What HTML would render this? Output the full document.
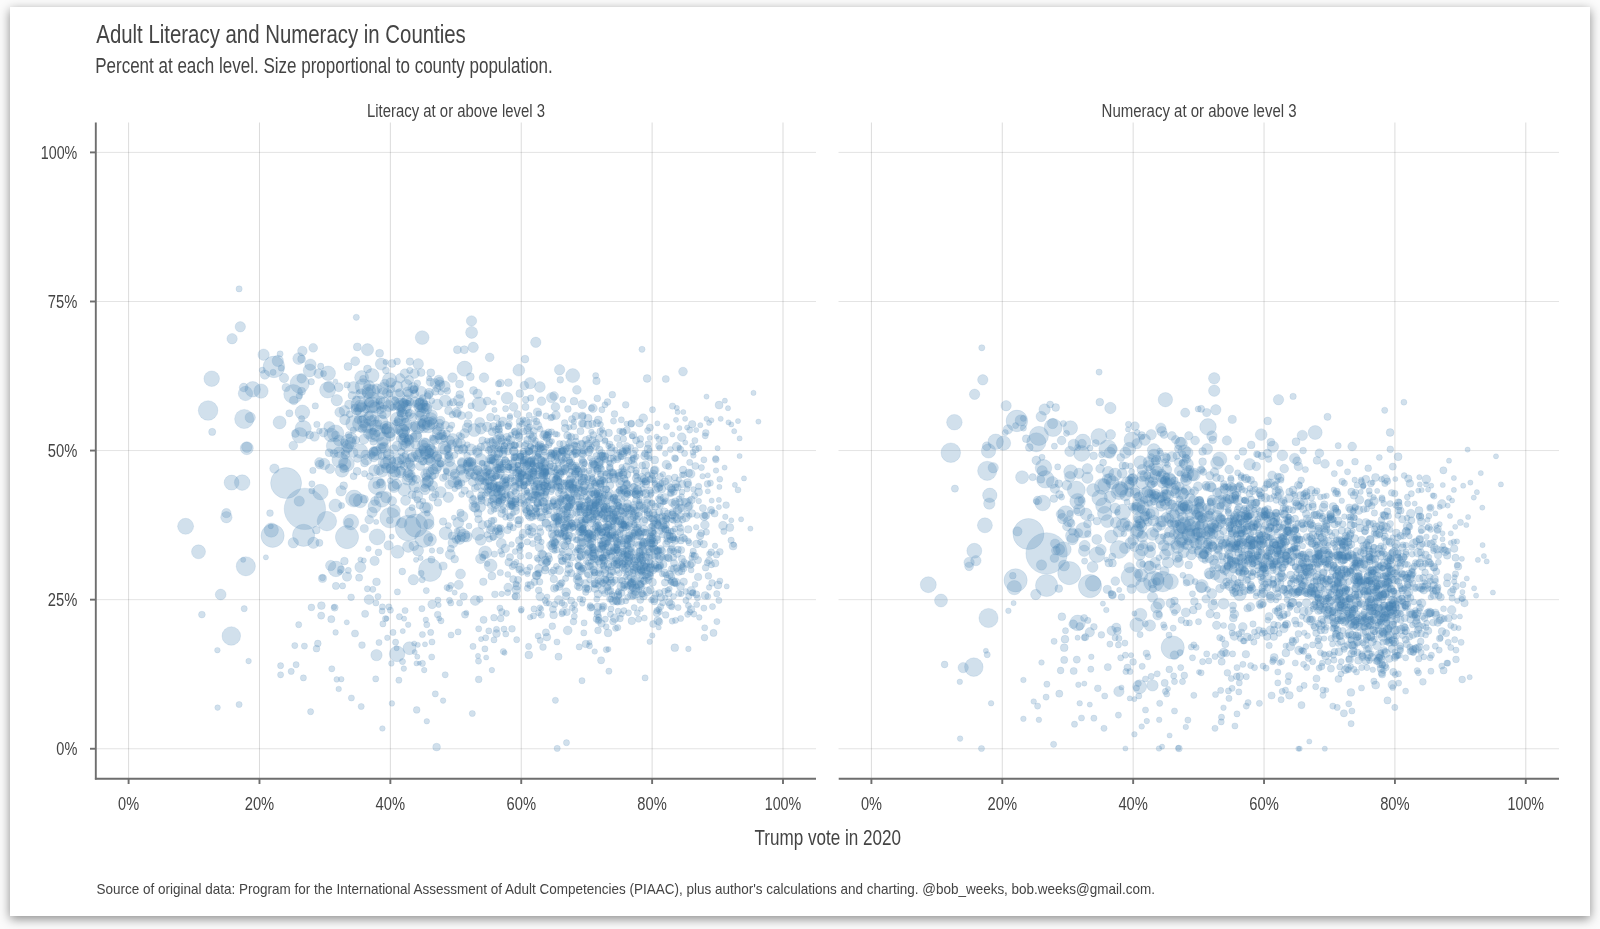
<!DOCTYPE html><html><head><meta charset="utf-8"><style>html,body{margin:0;padding:0;background:#fbfbfb;width:1600px;height:929px;overflow:hidden}.card{position:absolute;left:10px;top:7px;width:1580px;height:909px;background:#fff;box-shadow:0 3px 10px rgba(0,0,0,0.45)}svg{position:absolute;left:0;top:0;will-change:transform}text{font-family:"Liberation Sans",sans-serif;fill:#444444}.tx{will-change:transform}</style></head><body><div class="card"></div><svg width="1600" height="929" viewBox="0 0 1600 929"><text x="96.3" y="42.7" font-size="25.1" textLength="369.5" lengthAdjust="spacingAndGlyphs" text-anchor="start">Adult Literacy and Numeracy in Counties</text><text x="95.2" y="72.9" font-size="21.5" textLength="457.5" lengthAdjust="spacingAndGlyphs" text-anchor="start">Percent at each level. Size proportional to county population.</text><text x="367.0" y="116.9" font-size="18.3" textLength="178" lengthAdjust="spacingAndGlyphs" text-anchor="start">Literacy at or above level 3</text><text x="1101.6" y="116.8" font-size="18.3" textLength="195" lengthAdjust="spacingAndGlyphs" text-anchor="start">Numeracy at or above level 3</text><line x1="128.60" y1="122.5" x2="128.60" y2="778" stroke="#000" stroke-opacity="0.14" stroke-width="1"/><line x1="259.48" y1="122.5" x2="259.48" y2="778" stroke="#000" stroke-opacity="0.14" stroke-width="1"/><line x1="390.36" y1="122.5" x2="390.36" y2="778" stroke="#000" stroke-opacity="0.14" stroke-width="1"/><line x1="521.24" y1="122.5" x2="521.24" y2="778" stroke="#000" stroke-opacity="0.14" stroke-width="1"/><line x1="652.12" y1="122.5" x2="652.12" y2="778" stroke="#000" stroke-opacity="0.14" stroke-width="1"/><line x1="783.00" y1="122.5" x2="783.00" y2="778" stroke="#000" stroke-opacity="0.14" stroke-width="1"/><line x1="95.5" y1="748.75" x2="816" y2="748.75" stroke="#000" stroke-opacity="0.11" stroke-width="1"/><line x1="95.5" y1="599.66" x2="816" y2="599.66" stroke="#000" stroke-opacity="0.11" stroke-width="1"/><line x1="95.5" y1="450.57" x2="816" y2="450.57" stroke="#000" stroke-opacity="0.11" stroke-width="1"/><line x1="95.5" y1="301.49" x2="816" y2="301.49" stroke="#000" stroke-opacity="0.11" stroke-width="1"/><line x1="95.5" y1="152.40" x2="816" y2="152.40" stroke="#000" stroke-opacity="0.11" stroke-width="1"/><line x1="871.40" y1="122.5" x2="871.40" y2="778" stroke="#000" stroke-opacity="0.14" stroke-width="1"/><line x1="1002.28" y1="122.5" x2="1002.28" y2="778" stroke="#000" stroke-opacity="0.14" stroke-width="1"/><line x1="1133.16" y1="122.5" x2="1133.16" y2="778" stroke="#000" stroke-opacity="0.14" stroke-width="1"/><line x1="1264.04" y1="122.5" x2="1264.04" y2="778" stroke="#000" stroke-opacity="0.14" stroke-width="1"/><line x1="1394.92" y1="122.5" x2="1394.92" y2="778" stroke="#000" stroke-opacity="0.14" stroke-width="1"/><line x1="1525.80" y1="122.5" x2="1525.80" y2="778" stroke="#000" stroke-opacity="0.14" stroke-width="1"/><line x1="838.5" y1="748.75" x2="1559" y2="748.75" stroke="#000" stroke-opacity="0.11" stroke-width="1"/><line x1="838.5" y1="599.66" x2="1559" y2="599.66" stroke="#000" stroke-opacity="0.11" stroke-width="1"/><line x1="838.5" y1="450.57" x2="1559" y2="450.57" stroke="#000" stroke-opacity="0.11" stroke-width="1"/><line x1="838.5" y1="301.49" x2="1559" y2="301.49" stroke="#000" stroke-opacity="0.11" stroke-width="1"/><line x1="838.5" y1="152.40" x2="1559" y2="152.40" stroke="#000" stroke-opacity="0.11" stroke-width="1"/><g fill="#4682b4" fill-opacity="0.25" stroke="#4682b4" stroke-opacity="0.2" stroke-width="0.6"><circle cx="1393.2" cy="591.1" r="3.4"/><circle cx="670.2" cy="540.0" r="3.2"/><circle cx="1237.9" cy="487.9" r="4.4"/><circle cx="1281.0" cy="512.3" r="2.8"/><circle cx="1407.5" cy="598.6" r="3.6"/><circle cx="600.6" cy="581.3" r="3.8"/><circle cx="523.8" cy="462.5" r="3.8"/><circle cx="645.0" cy="557.2" r="3.8"/><circle cx="1159.7" cy="451.1" r="3.0"/><circle cx="574.2" cy="491.1" r="4.4"/><circle cx="1426.5" cy="536.7" r="2.8"/><circle cx="1055.9" cy="550.5" r="4.5"/><circle cx="1318.1" cy="574.7" r="3.4"/><circle cx="570.5" cy="467.2" r="3.0"/><circle cx="353.6" cy="476.2" r="3.5"/><circle cx="1314.8" cy="557.1" r="2.8"/><circle cx="641.3" cy="570.6" r="3.2"/><circle cx="1300.2" cy="624.5" r="2.8"/><circle cx="1276.5" cy="512.8" r="3.4"/><circle cx="1345.8" cy="536.3" r="4.0"/><circle cx="507.8" cy="574.4" r="3.0"/><circle cx="1331.6" cy="613.2" r="2.8"/><circle cx="1386.3" cy="595.3" r="3.0"/><circle cx="1454.2" cy="616.7" r="2.8"/><circle cx="1277.9" cy="589.0" r="2.8"/><circle cx="1228.2" cy="566.4" r="4.6"/><circle cx="622.9" cy="507.1" r="4.0"/><circle cx="1347.0" cy="607.4" r="3.6"/><circle cx="1276.2" cy="561.3" r="3.8"/><circle cx="530.7" cy="482.2" r="3.6"/><circle cx="1407.8" cy="603.9" r="2.8"/><circle cx="489.0" cy="472.2" r="2.8"/><circle cx="1210.0" cy="509.6" r="5.5"/><circle cx="1316.7" cy="535.9" r="2.8"/><circle cx="593.0" cy="553.2" r="3.4"/><circle cx="545.9" cy="493.2" r="2.8"/><circle cx="602.2" cy="480.6" r="3.6"/><circle cx="1382.5" cy="594.2" r="4.0"/><circle cx="1306.7" cy="568.7" r="3.6"/><circle cx="1334.7" cy="524.2" r="3.8"/><circle cx="536.5" cy="483.8" r="3.6"/><circle cx="419.6" cy="404.3" r="5.5"/><circle cx="575.6" cy="436.9" r="3.0"/><circle cx="1241.4" cy="578.0" r="3.2"/><circle cx="481.0" cy="478.7" r="3.4"/><circle cx="1366.8" cy="509.3" r="2.8"/><circle cx="1390.6" cy="560.6" r="3.4"/><circle cx="1234.0" cy="524.8" r="3.2"/><circle cx="1127.0" cy="502.1" r="3.0"/><circle cx="1287.9" cy="559.0" r="4.4"/><circle cx="1293.5" cy="549.1" r="3.0"/><circle cx="616.8" cy="550.3" r="3.4"/><circle cx="505.4" cy="461.2" r="4.0"/><circle cx="1296.2" cy="580.6" r="3.0"/><circle cx="1455.5" cy="574.0" r="3.2"/><circle cx="606.6" cy="506.4" r="3.6"/><circle cx="621.5" cy="593.1" r="3.6"/><circle cx="1391.2" cy="588.7" r="3.8"/><circle cx="1346.8" cy="569.5" r="3.6"/><circle cx="1182.0" cy="463.0" r="3.0"/><circle cx="1287.9" cy="594.4" r="4.0"/><circle cx="546.1" cy="416.0" r="3.2"/><circle cx="1295.7" cy="528.9" r="3.4"/><circle cx="1364.1" cy="623.6" r="3.0"/><circle cx="629.4" cy="538.9" r="3.4"/><circle cx="452.4" cy="414.6" r="3.4"/><circle cx="1242.4" cy="587.3" r="3.4"/><circle cx="499.7" cy="534.1" r="4.4"/><circle cx="611.9" cy="594.4" r="3.0"/><circle cx="1354.6" cy="538.5" r="4.0"/><circle cx="1322.1" cy="537.4" r="4.4"/><circle cx="1376.0" cy="534.1" r="2.8"/><circle cx="1323.4" cy="507.5" r="4.4"/><circle cx="1270.2" cy="549.6" r="4.4"/><circle cx="581.8" cy="568.0" r="3.4"/><circle cx="564.4" cy="459.2" r="3.0"/><circle cx="1238.8" cy="633.9" r="3.2"/><circle cx="1251.2" cy="499.4" r="3.4"/><circle cx="542.2" cy="487.3" r="3.2"/><circle cx="1384.1" cy="530.9" r="3.2"/><circle cx="1402.6" cy="590.3" r="3.8"/><circle cx="532.9" cy="527.8" r="4.4"/><circle cx="1256.0" cy="502.7" r="3.4"/><circle cx="564.9" cy="537.4" r="2.8"/><circle cx="1327.8" cy="616.2" r="3.0"/><circle cx="609.3" cy="557.4" r="3.8"/><circle cx="1263.1" cy="630.5" r="2.8"/><circle cx="528.0" cy="428.0" r="3.6"/><circle cx="1208.2" cy="533.1" r="6.5"/><circle cx="1161.4" cy="498.9" r="3.8"/><circle cx="1296.3" cy="552.2" r="3.4"/><circle cx="1220.1" cy="576.2" r="6.5"/><circle cx="1252.1" cy="588.5" r="4.0"/><circle cx="1219.0" cy="535.0" r="5.0"/><circle cx="1371.0" cy="599.6" r="3.4"/><circle cx="1252.8" cy="543.3" r="3.8"/><circle cx="536.4" cy="511.6" r="3.8"/><circle cx="545.8" cy="512.3" r="2.8"/><circle cx="569.1" cy="526.3" r="3.0"/><circle cx="1155.4" cy="461.1" r="4.2"/><circle cx="655.1" cy="548.0" r="2.8"/><circle cx="400.3" cy="413.5" r="3.4"/><circle cx="617.6" cy="532.6" r="3.0"/><circle cx="623.0" cy="551.2" r="3.2"/><circle cx="457.8" cy="538.8" r="3.4"/><circle cx="624.1" cy="489.7" r="4.4"/><circle cx="554.9" cy="479.4" r="3.2"/><circle cx="434.7" cy="440.2" r="4.6"/><circle cx="1415.4" cy="588.7" r="3.0"/><circle cx="448.6" cy="458.5" r="4.2"/><circle cx="517.3" cy="414.1" r="3.6"/><circle cx="1232.9" cy="610.1" r="3.2"/><circle cx="1237.8" cy="509.4" r="3.6"/><circle cx="665.3" cy="516.3" r="3.2"/><circle cx="615.4" cy="449.8" r="2.8"/><circle cx="597.2" cy="459.5" r="3.6"/><circle cx="430.0" cy="539.7" r="6.5"/><circle cx="645.1" cy="532.7" r="3.6"/><circle cx="589.8" cy="499.0" r="3.4"/><circle cx="620.2" cy="580.0" r="3.2"/><circle cx="548.8" cy="444.6" r="3.4"/><circle cx="533.5" cy="499.9" r="3.2"/><circle cx="1367.1" cy="576.2" r="3.2"/><circle cx="672.1" cy="502.7" r="3.8"/><circle cx="1332.9" cy="628.4" r="3.2"/><circle cx="560.2" cy="533.8" r="3.8"/><circle cx="389.5" cy="461.2" r="6.5"/><circle cx="1368.2" cy="603.3" r="3.6"/><circle cx="1390.5" cy="559.7" r="4.0"/><circle cx="683.8" cy="474.8" r="3.2"/><circle cx="1378.1" cy="553.6" r="3.4"/><circle cx="635.7" cy="491.6" r="3.6"/><circle cx="1298.5" cy="592.2" r="3.6"/><circle cx="558.9" cy="482.2" r="3.6"/><circle cx="568.9" cy="498.2" r="4.0"/><circle cx="613.9" cy="517.4" r="4.4"/><circle cx="655.6" cy="594.1" r="3.4"/><circle cx="629.0" cy="526.2" r="3.6"/><circle cx="1243.9" cy="477.7" r="3.0"/><circle cx="619.0" cy="505.9" r="3.4"/><circle cx="1462.2" cy="598.0" r="3.6"/><circle cx="1177.7" cy="547.1" r="6.5"/><circle cx="1220.8" cy="478.4" r="3.4"/><circle cx="1223.9" cy="521.0" r="3.0"/><circle cx="1270.2" cy="498.5" r="3.6"/><circle cx="1385.1" cy="629.8" r="3.4"/><circle cx="1353.0" cy="555.2" r="3.6"/><circle cx="587.7" cy="537.9" r="3.8"/><circle cx="413.7" cy="389.8" r="3.8"/><circle cx="1342.9" cy="559.1" r="4.4"/><circle cx="616.8" cy="542.0" r="4.0"/><circle cx="527.5" cy="526.9" r="2.8"/><circle cx="408.3" cy="462.7" r="5.5"/><circle cx="1314.4" cy="604.5" r="3.2"/><circle cx="1274.3" cy="562.7" r="3.8"/><circle cx="1237.3" cy="524.2" r="4.4"/><circle cx="418.4" cy="407.3" r="4.6"/><circle cx="521.6" cy="474.0" r="3.6"/><circle cx="1278.8" cy="489.7" r="3.8"/><circle cx="1318.3" cy="598.0" r="3.8"/><circle cx="1273.0" cy="565.5" r="3.0"/><circle cx="1329.9" cy="606.4" r="3.2"/><circle cx="637.4" cy="559.6" r="3.2"/><circle cx="542.0" cy="554.2" r="4.4"/><circle cx="1246.9" cy="513.3" r="3.4"/><circle cx="566.0" cy="457.3" r="3.8"/><circle cx="579.2" cy="587.5" r="3.4"/><circle cx="1304.8" cy="591.7" r="4.0"/><circle cx="1340.1" cy="609.8" r="3.0"/><circle cx="631.5" cy="509.8" r="3.0"/><circle cx="594.0" cy="584.4" r="3.0"/><circle cx="401.1" cy="464.5" r="3.8"/><circle cx="1257.8" cy="519.5" r="3.2"/><circle cx="648.6" cy="548.7" r="4.0"/><circle cx="1242.5" cy="534.2" r="3.6"/><circle cx="1288.0" cy="521.5" r="2.8"/><circle cx="1334.2" cy="588.8" r="4.4"/><circle cx="651.1" cy="548.1" r="3.0"/><circle cx="564.5" cy="531.6" r="4.0"/><circle cx="579.8" cy="507.3" r="2.8"/><circle cx="515.5" cy="485.5" r="3.6"/><circle cx="1326.0" cy="607.1" r="3.8"/><circle cx="1217.2" cy="527.4" r="4.6"/><circle cx="424.2" cy="443.2" r="5.5"/><circle cx="1381.9" cy="658.7" r="3.6"/><circle cx="1374.3" cy="590.2" r="3.8"/><circle cx="1161.3" cy="505.8" r="5.5"/><circle cx="639.5" cy="535.1" r="4.4"/><circle cx="1164.0" cy="496.5" r="4.2"/><circle cx="404.1" cy="457.7" r="5.0"/><circle cx="1349.6" cy="659.5" r="4.0"/><circle cx="398.4" cy="422.6" r="4.0"/><circle cx="409.1" cy="380.0" r="4.6"/><circle cx="1153.6" cy="520.5" r="5.5"/><circle cx="600.0" cy="558.1" r="3.2"/><circle cx="1386.5" cy="541.1" r="3.8"/><circle cx="490.2" cy="505.1" r="3.0"/><circle cx="372.6" cy="434.4" r="5.0"/><circle cx="397.1" cy="429.3" r="4.2"/><circle cx="392.0" cy="467.7" r="6.0"/><circle cx="625.2" cy="512.0" r="4.0"/><circle cx="493.6" cy="504.1" r="3.2"/><circle cx="1158.2" cy="566.9" r="3.0"/><circle cx="556.6" cy="450.5" r="3.6"/><circle cx="503.4" cy="448.8" r="3.2"/><circle cx="589.8" cy="516.3" r="4.4"/><circle cx="624.5" cy="557.2" r="4.0"/><circle cx="652.4" cy="532.0" r="3.6"/><circle cx="1363.7" cy="627.3" r="3.0"/><circle cx="590.0" cy="449.0" r="3.2"/><circle cx="1060.6" cy="514.1" r="4.5"/><circle cx="1254.4" cy="521.2" r="4.4"/><circle cx="1151.3" cy="546.6" r="4.6"/><circle cx="1355.1" cy="621.1" r="4.0"/><circle cx="1376.2" cy="569.5" r="3.4"/><circle cx="1271.2" cy="551.6" r="3.2"/><circle cx="408.3" cy="414.6" r="3.0"/><circle cx="632.0" cy="520.7" r="4.4"/><circle cx="1261.2" cy="558.4" r="4.4"/><circle cx="384.2" cy="403.0" r="6.0"/><circle cx="386.7" cy="454.4" r="3.5"/><circle cx="603.2" cy="433.8" r="3.8"/><circle cx="603.7" cy="583.0" r="3.4"/><circle cx="1348.3" cy="613.0" r="3.4"/><circle cx="394.8" cy="467.7" r="3.0"/><circle cx="1239.6" cy="538.1" r="2.8"/><circle cx="530.8" cy="462.4" r="4.4"/><circle cx="638.6" cy="545.2" r="3.6"/><circle cx="1289.6" cy="532.9" r="3.2"/><circle cx="1342.3" cy="545.5" r="2.8"/><circle cx="417.3" cy="495.9" r="5.5"/><circle cx="419.7" cy="452.4" r="4.6"/><circle cx="426.6" cy="408.5" r="5.5"/><circle cx="675.8" cy="582.4" r="4.4"/><circle cx="1316.9" cy="490.9" r="3.2"/><circle cx="659.2" cy="559.1" r="4.0"/><circle cx="1279.5" cy="662.8" r="2.8"/><circle cx="1318.6" cy="531.2" r="4.0"/><circle cx="642.2" cy="465.5" r="3.6"/><circle cx="383.4" cy="438.9" r="7.0"/><circle cx="1206.0" cy="485.5" r="4.2"/><circle cx="1347.2" cy="550.5" r="4.0"/><circle cx="562.4" cy="449.8" r="4.0"/><circle cx="726.1" cy="505.1" r="3.4"/><circle cx="1285.6" cy="509.5" r="3.0"/><circle cx="600.1" cy="544.8" r="3.0"/><circle cx="1259.7" cy="541.3" r="3.4"/><circle cx="385.1" cy="426.6" r="3.0"/><circle cx="1284.8" cy="541.8" r="4.4"/><circle cx="552.1" cy="543.8" r="3.8"/><circle cx="1221.4" cy="517.8" r="4.2"/><circle cx="1359.0" cy="521.8" r="3.4"/><circle cx="549.5" cy="558.8" r="3.2"/><circle cx="635.7" cy="515.6" r="3.6"/><circle cx="1246.5" cy="527.6" r="3.6"/><circle cx="571.0" cy="546.3" r="3.0"/><circle cx="592.4" cy="477.1" r="2.8"/><circle cx="639.5" cy="584.1" r="4.0"/><circle cx="487.2" cy="502.1" r="3.8"/><circle cx="1412.5" cy="614.5" r="4.0"/><circle cx="1422.5" cy="544.2" r="3.0"/><circle cx="1336.5" cy="628.4" r="2.8"/><circle cx="529.1" cy="471.9" r="3.8"/><circle cx="1141.3" cy="575.3" r="6.5"/><circle cx="1290.8" cy="550.0" r="2.8"/><circle cx="1333.9" cy="489.8" r="2.8"/><circle cx="605.2" cy="509.1" r="3.8"/><circle cx="519.3" cy="540.5" r="4.0"/><circle cx="635.9" cy="565.0" r="3.4"/><circle cx="1112.3" cy="556.6" r="3.5"/><circle cx="586.8" cy="587.9" r="3.2"/><circle cx="1324.3" cy="504.5" r="3.8"/><circle cx="497.5" cy="486.5" r="4.4"/><circle cx="607.9" cy="513.4" r="3.0"/><circle cx="1350.5" cy="533.7" r="3.8"/><circle cx="1264.8" cy="515.9" r="3.6"/><circle cx="609.8" cy="467.3" r="3.6"/><circle cx="1322.9" cy="573.5" r="4.0"/><circle cx="511.0" cy="476.5" r="3.0"/><circle cx="573.3" cy="527.2" r="3.2"/><circle cx="1189.7" cy="469.4" r="4.2"/><circle cx="1437.7" cy="622.6" r="3.8"/><circle cx="649.3" cy="514.1" r="3.2"/><circle cx="1153.3" cy="471.9" r="3.0"/><circle cx="1384.8" cy="665.3" r="3.6"/><circle cx="1167.4" cy="483.0" r="5.0"/><circle cx="571.2" cy="471.0" r="3.0"/><circle cx="1412.6" cy="583.1" r="3.4"/><circle cx="1198.8" cy="501.8" r="5.0"/><circle cx="1308.4" cy="593.3" r="4.0"/><circle cx="563.8" cy="519.5" r="3.8"/><circle cx="1380.8" cy="652.2" r="3.0"/><circle cx="681.5" cy="508.1" r="3.8"/><circle cx="546.9" cy="436.6" r="4.4"/><circle cx="447.8" cy="455.5" r="3.4"/><circle cx="658.7" cy="609.4" r="3.0"/><circle cx="356.7" cy="409.4" r="5.5"/><circle cx="569.6" cy="483.9" r="3.8"/><circle cx="1233.3" cy="617.9" r="4.0"/><circle cx="515.8" cy="472.6" r="3.6"/><circle cx="622.4" cy="451.3" r="3.8"/><circle cx="638.8" cy="552.5" r="4.4"/><circle cx="521.6" cy="572.4" r="3.0"/><circle cx="1188.6" cy="468.4" r="3.0"/><circle cx="540.2" cy="596.6" r="4.4"/><circle cx="1255.3" cy="527.3" r="3.0"/><circle cx="1152.6" cy="583.4" r="4.6"/><circle cx="1323.6" cy="572.2" r="3.8"/><circle cx="1270.3" cy="564.4" r="4.4"/><circle cx="1396.2" cy="603.3" r="3.0"/><circle cx="412.9" cy="457.0" r="5.0"/><circle cx="639.0" cy="532.8" r="3.6"/><circle cx="1334.5" cy="651.7" r="3.4"/><circle cx="1364.8" cy="532.0" r="3.0"/><circle cx="355.2" cy="361.2" r="4.5"/><circle cx="1377.2" cy="586.3" r="3.2"/><circle cx="1138.9" cy="517.7" r="5.5"/><circle cx="487.1" cy="463.8" r="3.0"/><circle cx="1232.7" cy="523.9" r="3.0"/><circle cx="1373.0" cy="573.6" r="4.4"/><circle cx="1209.4" cy="546.0" r="3.6"/><circle cx="1367.3" cy="619.3" r="4.0"/><circle cx="487.3" cy="534.8" r="3.4"/><circle cx="1337.1" cy="620.4" r="3.6"/><circle cx="547.0" cy="562.3" r="3.4"/><circle cx="565.1" cy="546.1" r="4.0"/><circle cx="608.9" cy="582.2" r="2.8"/><circle cx="1253.2" cy="564.3" r="3.0"/><circle cx="657.7" cy="524.6" r="3.8"/><circle cx="1246.0" cy="501.0" r="2.8"/><circle cx="592.0" cy="465.4" r="3.8"/><circle cx="1262.9" cy="541.7" r="3.0"/><circle cx="569.8" cy="505.2" r="3.8"/><circle cx="440.5" cy="438.8" r="5.5"/><circle cx="555.9" cy="415.2" r="4.4"/><circle cx="489.1" cy="479.8" r="5.0"/><circle cx="600.2" cy="431.4" r="3.4"/><circle cx="1279.1" cy="633.4" r="3.0"/><circle cx="520.4" cy="456.0" r="3.2"/><circle cx="624.0" cy="588.2" r="3.0"/><circle cx="1313.5" cy="563.8" r="2.8"/><circle cx="1142.6" cy="564.1" r="3.0"/><circle cx="1334.4" cy="589.0" r="3.6"/><circle cx="571.2" cy="600.7" r="3.6"/><circle cx="667.4" cy="577.9" r="3.2"/><circle cx="600.3" cy="484.0" r="4.0"/><circle cx="1292.3" cy="563.2" r="2.8"/><circle cx="631.3" cy="556.6" r="3.6"/><circle cx="1158.9" cy="557.7" r="3.0"/><circle cx="1386.0" cy="614.1" r="3.4"/><circle cx="1363.1" cy="590.1" r="3.4"/><circle cx="369.0" cy="385.8" r="5.5"/><circle cx="612.6" cy="550.4" r="3.2"/><circle cx="1317.5" cy="565.1" r="3.0"/><circle cx="450.3" cy="554.4" r="5.0"/><circle cx="689.2" cy="515.6" r="2.8"/><circle cx="609.9" cy="599.0" r="3.4"/><circle cx="1326.4" cy="529.4" r="3.8"/><circle cx="1244.1" cy="560.7" r="2.8"/><circle cx="1265.6" cy="573.2" r="3.2"/><circle cx="559.4" cy="586.4" r="4.0"/><circle cx="1439.7" cy="638.4" r="3.4"/><circle cx="1328.2" cy="609.4" r="3.4"/><circle cx="622.4" cy="564.6" r="3.8"/><circle cx="1280.9" cy="480.1" r="3.2"/><circle cx="506.9" cy="437.1" r="3.8"/><circle cx="1344.9" cy="540.4" r="2.8"/><circle cx="1260.0" cy="536.5" r="3.0"/><circle cx="624.0" cy="517.0" r="4.4"/><circle cx="572.2" cy="514.0" r="3.8"/><circle cx="562.5" cy="561.2" r="3.8"/><circle cx="1408.6" cy="592.1" r="4.4"/><circle cx="1368.9" cy="502.7" r="4.0"/><circle cx="551.0" cy="484.9" r="2.8"/><circle cx="626.1" cy="568.2" r="4.4"/><circle cx="1198.0" cy="536.0" r="4.2"/><circle cx="1304.7" cy="493.3" r="3.2"/><circle cx="1239.9" cy="518.3" r="3.4"/><circle cx="478.0" cy="513.3" r="4.0"/><circle cx="1368.5" cy="654.5" r="4.4"/><circle cx="1376.6" cy="589.2" r="3.8"/><circle cx="529.7" cy="528.1" r="2.8"/><circle cx="543.2" cy="470.5" r="3.0"/><circle cx="375.0" cy="501.1" r="4.5"/><circle cx="650.1" cy="479.4" r="3.2"/><circle cx="1394.3" cy="600.9" r="3.6"/><circle cx="1169.3" cy="479.0" r="6.5"/><circle cx="1324.2" cy="610.0" r="3.6"/><circle cx="546.3" cy="480.4" r="3.0"/><circle cx="518.9" cy="478.6" r="2.8"/><circle cx="1333.3" cy="565.7" r="3.6"/><circle cx="1269.8" cy="527.5" r="4.4"/><circle cx="647.3" cy="503.3" r="4.0"/><circle cx="486.5" cy="472.4" r="3.8"/><circle cx="1343.7" cy="560.4" r="3.6"/><circle cx="1257.9" cy="526.9" r="4.0"/><circle cx="564.6" cy="423.0" r="3.4"/><circle cx="1317.1" cy="580.4" r="4.0"/><circle cx="1402.5" cy="547.6" r="3.8"/><circle cx="572.8" cy="454.9" r="3.6"/><circle cx="625.1" cy="496.1" r="4.4"/><circle cx="1211.9" cy="544.8" r="4.2"/><circle cx="1372.2" cy="581.2" r="3.8"/><circle cx="602.3" cy="532.7" r="3.6"/><circle cx="1289.9" cy="607.9" r="2.8"/><circle cx="1380.5" cy="594.0" r="3.0"/><circle cx="627.2" cy="474.3" r="3.8"/><circle cx="432.4" cy="437.8" r="3.0"/><circle cx="590.2" cy="544.0" r="3.4"/><circle cx="1278.9" cy="521.9" r="3.2"/><circle cx="1299.5" cy="485.3" r="3.0"/><circle cx="1372.8" cy="619.3" r="3.2"/><circle cx="1355.1" cy="594.8" r="4.0"/><circle cx="1316.1" cy="581.3" r="3.2"/><circle cx="1424.6" cy="618.3" r="3.4"/><circle cx="1363.0" cy="642.9" r="3.2"/><circle cx="1383.9" cy="633.8" r="3.6"/><circle cx="1314.2" cy="581.9" r="4.0"/><circle cx="578.2" cy="559.2" r="3.0"/><circle cx="490.8" cy="500.8" r="3.0"/><circle cx="541.8" cy="492.7" r="3.4"/><circle cx="1419.2" cy="578.5" r="3.8"/><circle cx="1312.9" cy="608.9" r="2.8"/><circle cx="489.3" cy="539.0" r="3.2"/><circle cx="620.9" cy="519.1" r="3.2"/><circle cx="610.6" cy="526.4" r="3.0"/><circle cx="627.6" cy="494.5" r="3.6"/><circle cx="1333.6" cy="606.2" r="4.0"/><circle cx="538.0" cy="559.6" r="2.8"/><circle cx="1175.4" cy="489.8" r="4.2"/><circle cx="1187.0" cy="509.1" r="5.0"/><circle cx="1223.4" cy="531.1" r="3.8"/><circle cx="551.6" cy="453.7" r="3.8"/><circle cx="635.4" cy="450.3" r="3.0"/><circle cx="1353.5" cy="525.1" r="2.8"/><circle cx="660.4" cy="496.4" r="3.0"/><circle cx="632.6" cy="587.5" r="3.6"/><circle cx="1162.5" cy="482.7" r="5.5"/><circle cx="623.5" cy="524.7" r="3.6"/><circle cx="1168.7" cy="511.1" r="3.0"/><circle cx="402.5" cy="436.6" r="3.4"/><circle cx="1374.2" cy="613.7" r="3.6"/><circle cx="534.5" cy="494.8" r="3.6"/><circle cx="345.3" cy="454.8" r="4.5"/><circle cx="544.6" cy="485.6" r="3.6"/><circle cx="1311.4" cy="497.9" r="3.2"/><circle cx="1255.7" cy="557.1" r="3.2"/><circle cx="1347.6" cy="530.9" r="3.4"/><circle cx="601.6" cy="557.7" r="3.2"/><circle cx="700.2" cy="542.1" r="2.8"/><circle cx="1124.9" cy="548.1" r="5.5"/><circle cx="636.1" cy="470.5" r="3.4"/><circle cx="1305.4" cy="566.9" r="2.8"/><circle cx="413.2" cy="387.9" r="5.5"/><circle cx="533.0" cy="472.2" r="4.0"/><circle cx="569.7" cy="505.5" r="2.8"/><circle cx="1303.8" cy="611.4" r="4.4"/><circle cx="620.4" cy="474.1" r="2.8"/><circle cx="531.2" cy="460.5" r="3.2"/><circle cx="516.3" cy="589.9" r="4.4"/><circle cx="1301.8" cy="523.6" r="3.4"/><circle cx="1351.8" cy="616.7" r="3.2"/><circle cx="561.6" cy="457.2" r="3.8"/><circle cx="1428.9" cy="516.1" r="3.0"/><circle cx="1350.8" cy="525.1" r="4.0"/><circle cx="1438.6" cy="595.3" r="3.6"/><circle cx="1247.5" cy="574.1" r="3.6"/><circle cx="1350.6" cy="666.4" r="3.0"/><circle cx="508.5" cy="470.1" r="3.0"/><circle cx="1373.9" cy="681.2" r="3.2"/><circle cx="578.7" cy="511.8" r="3.2"/><circle cx="579.4" cy="504.1" r="3.6"/><circle cx="1272.6" cy="544.7" r="3.6"/><circle cx="1199.0" cy="516.2" r="3.8"/><circle cx="675.7" cy="483.9" r="4.0"/><circle cx="1387.4" cy="481.2" r="3.4"/><circle cx="631.2" cy="552.2" r="3.4"/><circle cx="658.5" cy="504.9" r="2.8"/><circle cx="605.2" cy="527.0" r="3.4"/><circle cx="539.9" cy="607.6" r="2.8"/><circle cx="1266.8" cy="514.1" r="3.6"/><circle cx="592.3" cy="481.0" r="3.8"/><circle cx="1440.6" cy="597.3" r="3.8"/><circle cx="530.7" cy="447.0" r="3.2"/><circle cx="593.2" cy="549.9" r="3.4"/><circle cx="610.1" cy="485.3" r="3.8"/><circle cx="488.6" cy="480.8" r="3.6"/><circle cx="1419.8" cy="539.0" r="4.0"/><circle cx="1386.2" cy="576.4" r="3.4"/><circle cx="583.1" cy="454.1" r="3.8"/><circle cx="1357.5" cy="636.8" r="3.4"/><circle cx="598.6" cy="620.0" r="3.0"/><circle cx="1298.3" cy="485.3" r="4.0"/><circle cx="619.0" cy="595.4" r="2.8"/><circle cx="458.3" cy="484.9" r="3.8"/><circle cx="595.3" cy="537.5" r="3.0"/><circle cx="564.7" cy="559.2" r="2.8"/><circle cx="705.1" cy="595.6" r="4.0"/><circle cx="1348.6" cy="598.3" r="2.8"/><circle cx="1400.6" cy="535.8" r="3.6"/><circle cx="438.7" cy="433.2" r="6.5"/><circle cx="1375.4" cy="607.1" r="3.6"/><circle cx="611.2" cy="498.6" r="2.8"/><circle cx="1156.4" cy="460.1" r="5.0"/><circle cx="499.8" cy="476.5" r="2.8"/><circle cx="1250.8" cy="573.1" r="3.0"/><circle cx="1405.1" cy="631.9" r="3.0"/><circle cx="1100.8" cy="549.8" r="5.5"/><circle cx="1339.6" cy="551.6" r="3.6"/><circle cx="611.5" cy="509.2" r="3.4"/><circle cx="618.3" cy="563.7" r="4.4"/><circle cx="631.2" cy="423.4" r="3.4"/><circle cx="639.3" cy="501.5" r="2.8"/><circle cx="623.8" cy="524.6" r="3.0"/><circle cx="500.1" cy="502.7" r="4.4"/><circle cx="645.7" cy="464.9" r="4.0"/><circle cx="627.0" cy="490.7" r="3.4"/><circle cx="600.9" cy="475.6" r="3.2"/><circle cx="499.4" cy="464.3" r="3.6"/><circle cx="1386.1" cy="527.2" r="4.4"/><circle cx="593.2" cy="519.0" r="3.2"/><circle cx="541.3" cy="615.1" r="3.2"/><circle cx="671.1" cy="531.3" r="3.0"/><circle cx="1236.7" cy="543.8" r="3.0"/><circle cx="1250.9" cy="584.9" r="3.6"/><circle cx="369.9" cy="476.3" r="3.5"/><circle cx="1335.7" cy="598.9" r="3.6"/><circle cx="1313.6" cy="626.0" r="3.0"/><circle cx="1349.8" cy="624.5" r="4.4"/><circle cx="621.5" cy="470.9" r="3.0"/><circle cx="520.3" cy="454.5" r="3.8"/><circle cx="566.3" cy="558.2" r="4.4"/><circle cx="1392.5" cy="592.9" r="4.4"/><circle cx="518.0" cy="464.8" r="2.8"/><circle cx="584.4" cy="485.4" r="4.4"/><circle cx="566.0" cy="524.3" r="3.8"/><circle cx="544.6" cy="488.5" r="3.4"/><circle cx="1317.4" cy="568.6" r="3.0"/><circle cx="496.5" cy="476.4" r="3.2"/><circle cx="1348.2" cy="557.1" r="3.8"/><circle cx="1340.7" cy="605.5" r="3.4"/><circle cx="1298.9" cy="569.0" r="4.4"/><circle cx="561.8" cy="582.8" r="3.4"/><circle cx="544.7" cy="434.2" r="4.0"/><circle cx="1196.9" cy="511.1" r="3.0"/><circle cx="621.6" cy="511.1" r="3.0"/><circle cx="1429.3" cy="563.1" r="4.0"/><circle cx="1355.7" cy="581.3" r="2.8"/><circle cx="682.7" cy="565.2" r="2.8"/><circle cx="1342.8" cy="574.8" r="3.0"/><circle cx="1419.0" cy="626.5" r="4.4"/><circle cx="564.6" cy="530.7" r="3.2"/><circle cx="514.9" cy="487.1" r="4.4"/><circle cx="604.7" cy="510.4" r="3.0"/><circle cx="1288.3" cy="521.8" r="3.8"/><circle cx="480.7" cy="498.0" r="2.8"/><circle cx="527.5" cy="588.2" r="3.2"/><circle cx="393.1" cy="407.5" r="3.4"/><circle cx="1228.8" cy="512.9" r="3.4"/><circle cx="1238.6" cy="522.8" r="3.8"/><circle cx="480.8" cy="446.9" r="3.8"/><circle cx="1180.7" cy="541.1" r="6.5"/><circle cx="1341.2" cy="569.7" r="3.6"/><circle cx="578.0" cy="468.9" r="3.0"/><circle cx="1417.4" cy="563.8" r="3.4"/><circle cx="681.9" cy="558.7" r="3.6"/><circle cx="1398.6" cy="582.0" r="3.4"/><circle cx="665.7" cy="529.8" r="3.4"/><circle cx="681.4" cy="564.8" r="3.2"/><circle cx="641.7" cy="568.1" r="3.4"/><circle cx="1355.9" cy="587.9" r="4.4"/><circle cx="1353.2" cy="625.9" r="3.8"/><circle cx="1418.2" cy="629.6" r="3.8"/><circle cx="555.0" cy="542.4" r="3.8"/><circle cx="398.3" cy="396.0" r="6.5"/><circle cx="522.2" cy="472.3" r="3.6"/><circle cx="1241.9" cy="565.2" r="3.6"/><circle cx="621.1" cy="601.2" r="3.8"/><circle cx="1251.7" cy="558.6" r="3.8"/><circle cx="646.5" cy="567.3" r="4.0"/><circle cx="1234.4" cy="636.0" r="4.4"/><circle cx="1359.5" cy="499.8" r="4.4"/><circle cx="1270.4" cy="630.2" r="4.4"/><circle cx="394.2" cy="473.7" r="6.5"/><circle cx="523.0" cy="419.7" r="3.0"/><circle cx="590.4" cy="506.1" r="3.8"/><circle cx="633.9" cy="508.0" r="4.0"/><circle cx="592.1" cy="542.3" r="4.0"/><circle cx="1365.8" cy="479.3" r="4.0"/><circle cx="585.9" cy="508.0" r="2.8"/><circle cx="664.5" cy="591.1" r="3.0"/><circle cx="373.1" cy="431.6" r="3.5"/><circle cx="548.4" cy="434.4" r="3.6"/><circle cx="1338.3" cy="571.4" r="3.2"/><circle cx="414.9" cy="426.2" r="5.0"/><circle cx="538.7" cy="470.4" r="3.4"/><circle cx="1317.1" cy="561.8" r="4.4"/><circle cx="558.7" cy="493.5" r="3.4"/><circle cx="498.6" cy="424.1" r="2.8"/><circle cx="1303.2" cy="494.1" r="2.8"/><circle cx="515.9" cy="445.4" r="2.8"/><circle cx="683.7" cy="581.7" r="3.8"/><circle cx="1338.2" cy="511.8" r="2.8"/><circle cx="603.6" cy="565.3" r="3.4"/><circle cx="566.1" cy="536.0" r="3.4"/><circle cx="538.7" cy="590.3" r="3.4"/><circle cx="675.1" cy="504.6" r="4.4"/><circle cx="484.1" cy="467.4" r="3.2"/><circle cx="497.9" cy="528.9" r="4.4"/><circle cx="1382.6" cy="568.1" r="3.0"/><circle cx="582.0" cy="460.1" r="3.4"/><circle cx="1345.4" cy="601.4" r="3.6"/><circle cx="1377.9" cy="622.8" r="3.4"/><circle cx="428.7" cy="423.7" r="3.4"/><circle cx="1339.3" cy="619.1" r="2.8"/><circle cx="651.4" cy="535.5" r="2.8"/><circle cx="1281.2" cy="555.1" r="3.4"/><circle cx="634.2" cy="561.3" r="4.0"/><circle cx="1390.3" cy="612.2" r="3.4"/><circle cx="626.1" cy="559.6" r="3.4"/><circle cx="653.5" cy="523.3" r="3.2"/><circle cx="1220.5" cy="506.0" r="3.8"/><circle cx="1252.0" cy="567.1" r="2.8"/><circle cx="660.0" cy="487.8" r="3.2"/><circle cx="628.8" cy="557.5" r="3.8"/><circle cx="592.3" cy="534.9" r="3.6"/><circle cx="440.1" cy="550.6" r="3.4"/><circle cx="493.0" cy="447.6" r="2.8"/><circle cx="1223.6" cy="625.5" r="3.0"/><circle cx="652.0" cy="475.0" r="2.8"/><circle cx="711.4" cy="564.7" r="3.2"/><circle cx="426.2" cy="406.2" r="5.5"/><circle cx="645.7" cy="493.7" r="4.4"/><circle cx="568.4" cy="541.0" r="3.0"/><circle cx="614.6" cy="529.2" r="3.8"/><circle cx="543.5" cy="449.3" r="3.8"/><circle cx="1270.6" cy="596.1" r="4.4"/><circle cx="691.6" cy="499.9" r="3.8"/><circle cx="404.3" cy="402.9" r="4.6"/><circle cx="1310.7" cy="592.5" r="3.8"/><circle cx="535.8" cy="494.9" r="4.0"/><circle cx="552.2" cy="489.7" r="3.0"/><circle cx="1296.9" cy="543.7" r="3.2"/><circle cx="1454.1" cy="627.3" r="3.4"/><circle cx="642.3" cy="575.3" r="3.8"/><circle cx="1349.1" cy="659.1" r="3.2"/><circle cx="423.3" cy="426.4" r="6.5"/><circle cx="1324.7" cy="532.3" r="4.4"/><circle cx="1262.4" cy="565.0" r="3.8"/><circle cx="1299.6" cy="562.0" r="3.6"/><circle cx="593.8" cy="483.0" r="3.0"/><circle cx="1207.7" cy="589.4" r="3.0"/><circle cx="702.9" cy="508.1" r="3.6"/><circle cx="1238.4" cy="530.1" r="4.0"/><circle cx="473.3" cy="498.0" r="3.0"/><circle cx="1247.3" cy="637.0" r="4.0"/><circle cx="628.5" cy="460.8" r="4.0"/><circle cx="522.5" cy="423.8" r="3.2"/><circle cx="1392.6" cy="537.5" r="2.8"/><circle cx="539.5" cy="547.3" r="4.4"/><circle cx="1277.2" cy="518.9" r="2.8"/><circle cx="493.6" cy="454.2" r="3.0"/><circle cx="651.4" cy="504.4" r="4.0"/><circle cx="503.0" cy="506.4" r="3.2"/><circle cx="519.3" cy="482.3" r="3.8"/><circle cx="647.9" cy="512.1" r="4.0"/><circle cx="1199.1" cy="501.1" r="4.6"/><circle cx="1259.4" cy="534.8" r="3.2"/><circle cx="664.3" cy="440.3" r="4.0"/><circle cx="1433.7" cy="585.3" r="3.8"/><circle cx="578.5" cy="506.9" r="2.8"/><circle cx="585.7" cy="592.2" r="3.2"/><circle cx="477.2" cy="486.8" r="3.2"/><circle cx="689.6" cy="500.0" r="2.8"/><circle cx="556.6" cy="475.5" r="3.2"/><circle cx="556.7" cy="549.8" r="3.2"/><circle cx="1313.0" cy="593.5" r="3.4"/><circle cx="1331.6" cy="600.4" r="3.8"/><circle cx="610.7" cy="458.5" r="3.6"/><circle cx="372.7" cy="435.1" r="7.0"/><circle cx="1415.1" cy="613.9" r="3.8"/><circle cx="1137.1" cy="524.0" r="3.8"/><circle cx="1399.9" cy="613.0" r="2.8"/><circle cx="499.3" cy="489.2" r="3.8"/><circle cx="1443.5" cy="608.8" r="3.0"/><circle cx="601.2" cy="534.9" r="3.8"/><circle cx="1168.1" cy="501.9" r="3.8"/><circle cx="1371.6" cy="657.3" r="4.0"/><circle cx="1225.3" cy="503.5" r="6.5"/><circle cx="1382.3" cy="599.8" r="3.4"/><circle cx="675.1" cy="516.8" r="4.0"/><circle cx="421.2" cy="408.0" r="4.2"/><circle cx="731.1" cy="540.3" r="3.2"/><circle cx="1341.1" cy="641.4" r="3.8"/><circle cx="523.9" cy="486.6" r="2.8"/><circle cx="500.9" cy="464.6" r="2.8"/><circle cx="1353.3" cy="650.9" r="3.8"/><circle cx="547.5" cy="514.6" r="3.8"/><circle cx="558.3" cy="520.5" r="3.8"/><circle cx="1412.2" cy="571.0" r="3.0"/><circle cx="1280.8" cy="582.9" r="3.2"/><circle cx="633.9" cy="487.7" r="4.4"/><circle cx="599.1" cy="438.4" r="3.8"/><circle cx="1338.0" cy="494.1" r="3.0"/><circle cx="622.7" cy="432.0" r="3.8"/><circle cx="1125.1" cy="522.7" r="5.0"/><circle cx="1387.6" cy="581.9" r="3.0"/><circle cx="1362.3" cy="620.3" r="4.0"/><circle cx="1367.0" cy="649.1" r="3.6"/><circle cx="682.3" cy="484.0" r="3.8"/><circle cx="1281.5" cy="538.1" r="3.4"/><circle cx="521.1" cy="479.0" r="3.0"/><circle cx="1223.7" cy="652.2" r="4.2"/><circle cx="1157.0" cy="470.9" r="5.0"/><circle cx="623.9" cy="472.4" r="3.6"/><circle cx="1405.3" cy="604.9" r="4.0"/><circle cx="525.5" cy="406.9" r="3.6"/><circle cx="1374.2" cy="620.4" r="3.6"/><circle cx="1330.6" cy="579.9" r="3.8"/><circle cx="349.1" cy="404.5" r="4.5"/><circle cx="554.4" cy="452.9" r="3.2"/><circle cx="627.6" cy="554.2" r="3.6"/><circle cx="373.3" cy="441.8" r="3.5"/><circle cx="520.9" cy="476.4" r="2.8"/><circle cx="1337.2" cy="587.7" r="3.4"/><circle cx="1392.4" cy="684.7" r="4.4"/><circle cx="489.9" cy="489.6" r="3.0"/><circle cx="1437.3" cy="530.6" r="3.2"/><circle cx="673.4" cy="557.4" r="3.4"/><circle cx="556.4" cy="566.3" r="3.0"/><circle cx="1311.1" cy="570.3" r="2.8"/><circle cx="1433.5" cy="541.7" r="3.0"/><circle cx="528.1" cy="515.8" r="3.2"/><circle cx="526.0" cy="443.7" r="3.2"/><circle cx="1426.2" cy="627.4" r="3.0"/><circle cx="1389.5" cy="575.6" r="3.2"/><circle cx="604.9" cy="456.0" r="3.8"/><circle cx="1284.3" cy="514.1" r="4.4"/><circle cx="1365.0" cy="605.1" r="4.4"/><circle cx="1381.7" cy="479.2" r="3.0"/><circle cx="1422.7" cy="616.3" r="3.4"/><circle cx="598.2" cy="496.8" r="2.8"/><circle cx="1380.3" cy="595.5" r="3.6"/><circle cx="616.8" cy="549.9" r="3.6"/><circle cx="1321.6" cy="666.6" r="3.4"/><circle cx="1364.9" cy="560.0" r="3.6"/><circle cx="1222.3" cy="556.5" r="3.6"/><circle cx="565.3" cy="428.3" r="4.0"/><circle cx="628.2" cy="538.4" r="3.2"/><circle cx="516.3" cy="596.3" r="4.0"/><circle cx="1333.0" cy="584.3" r="2.8"/><circle cx="1388.7" cy="604.9" r="3.4"/><circle cx="1383.0" cy="642.3" r="3.2"/><circle cx="1410.4" cy="613.1" r="4.4"/><circle cx="1387.8" cy="582.0" r="4.0"/><circle cx="1394.9" cy="641.9" r="4.0"/><circle cx="1260.3" cy="540.9" r="3.8"/><circle cx="590.1" cy="535.4" r="4.0"/><circle cx="561.5" cy="450.9" r="3.4"/><circle cx="1233.0" cy="605.6" r="3.6"/><circle cx="1349.3" cy="606.3" r="2.8"/><circle cx="1289.1" cy="588.2" r="3.2"/><circle cx="1248.6" cy="554.5" r="3.6"/><circle cx="578.6" cy="566.2" r="3.6"/><circle cx="633.3" cy="454.1" r="3.8"/><circle cx="592.3" cy="550.6" r="3.4"/><circle cx="1357.0" cy="605.1" r="4.4"/><circle cx="400.4" cy="405.5" r="5.0"/><circle cx="1350.9" cy="640.0" r="3.2"/><circle cx="1299.3" cy="604.8" r="2.8"/><circle cx="1298.6" cy="581.7" r="3.2"/><circle cx="1264.8" cy="488.2" r="3.2"/><circle cx="704.9" cy="524.8" r="4.4"/><circle cx="1303.4" cy="528.6" r="3.8"/><circle cx="1375.6" cy="626.0" r="3.8"/><circle cx="619.2" cy="573.4" r="3.0"/><circle cx="1413.1" cy="649.3" r="3.8"/><circle cx="605.3" cy="520.4" r="2.8"/><circle cx="1213.7" cy="528.4" r="5.0"/><circle cx="519.3" cy="488.4" r="3.0"/><circle cx="468.7" cy="462.3" r="5.0"/><circle cx="1132.5" cy="479.5" r="5.5"/><circle cx="1227.9" cy="511.4" r="3.0"/><circle cx="540.7" cy="495.8" r="3.4"/><circle cx="1102.3" cy="486.4" r="8.0"/><circle cx="1222.5" cy="518.1" r="3.0"/><circle cx="1375.9" cy="598.2" r="3.0"/><circle cx="1245.9" cy="654.2" r="3.8"/><circle cx="1226.7" cy="585.3" r="3.2"/><circle cx="1248.9" cy="589.8" r="3.4"/><circle cx="1261.5" cy="497.8" r="3.6"/><circle cx="1198.4" cy="550.6" r="4.2"/><circle cx="1318.6" cy="598.5" r="3.6"/><circle cx="564.0" cy="483.5" r="3.6"/><circle cx="380.3" cy="400.5" r="4.6"/><circle cx="571.4" cy="523.5" r="3.8"/><circle cx="596.7" cy="494.7" r="2.8"/><circle cx="460.8" cy="470.2" r="5.0"/><circle cx="544.5" cy="476.5" r="3.2"/><circle cx="1352.3" cy="635.0" r="4.0"/><circle cx="622.4" cy="499.7" r="2.8"/><circle cx="606.9" cy="544.0" r="3.2"/><circle cx="641.0" cy="579.6" r="3.0"/><circle cx="1356.4" cy="616.7" r="3.4"/><circle cx="617.0" cy="560.2" r="3.2"/><circle cx="1260.7" cy="545.1" r="4.4"/><circle cx="678.1" cy="549.5" r="3.4"/><circle cx="1405.6" cy="691.1" r="3.0"/><circle cx="544.4" cy="452.1" r="3.2"/><circle cx="1250.8" cy="480.1" r="3.8"/><circle cx="1283.7" cy="541.8" r="3.4"/><circle cx="1323.9" cy="496.5" r="2.8"/><circle cx="424.0" cy="418.8" r="3.8"/><circle cx="1323.0" cy="516.3" r="3.0"/><circle cx="1367.4" cy="541.9" r="3.0"/><circle cx="1277.9" cy="496.0" r="3.6"/><circle cx="1268.0" cy="555.5" r="3.8"/><circle cx="371.2" cy="418.5" r="8.0"/><circle cx="515.8" cy="507.7" r="3.6"/><circle cx="355.8" cy="440.2" r="4.0"/><circle cx="496.7" cy="487.9" r="4.0"/><circle cx="545.0" cy="463.8" r="4.4"/><circle cx="482.5" cy="463.2" r="2.8"/><circle cx="1389.7" cy="605.1" r="3.4"/><circle cx="1228.4" cy="543.6" r="3.0"/><circle cx="539.5" cy="512.4" r="3.8"/><circle cx="563.9" cy="490.6" r="3.0"/><circle cx="646.1" cy="481.2" r="4.0"/><circle cx="589.1" cy="502.1" r="3.8"/><circle cx="1282.1" cy="606.5" r="3.2"/><circle cx="459.2" cy="435.2" r="3.0"/><circle cx="1307.0" cy="562.3" r="4.0"/><circle cx="1390.4" cy="542.1" r="4.4"/><circle cx="606.9" cy="534.7" r="2.8"/><circle cx="397.2" cy="446.0" r="5.0"/><circle cx="1290.6" cy="575.1" r="4.0"/><circle cx="1092.6" cy="566.9" r="5.5"/><circle cx="1237.6" cy="544.4" r="2.8"/><circle cx="579.5" cy="509.5" r="3.6"/><circle cx="1296.2" cy="503.0" r="3.2"/><circle cx="1339.5" cy="593.9" r="4.0"/><circle cx="1250.4" cy="606.8" r="4.4"/><circle cx="1340.4" cy="604.8" r="3.2"/><circle cx="645.3" cy="481.7" r="3.4"/><circle cx="1198.0" cy="486.4" r="4.6"/><circle cx="642.2" cy="571.6" r="3.6"/><circle cx="1256.9" cy="454.1" r="3.4"/><circle cx="598.4" cy="531.3" r="4.0"/><circle cx="1385.0" cy="536.1" r="3.4"/><circle cx="347.7" cy="446.2" r="6.0"/><circle cx="437.3" cy="404.6" r="5.5"/><circle cx="1332.0" cy="535.8" r="3.2"/><circle cx="1336.4" cy="540.0" r="2.8"/><circle cx="383.0" cy="393.2" r="5.5"/><circle cx="525.6" cy="491.0" r="4.0"/><circle cx="547.2" cy="486.8" r="3.4"/><circle cx="706.4" cy="532.1" r="3.2"/><circle cx="677.5" cy="510.3" r="4.4"/><circle cx="575.8" cy="455.1" r="2.8"/><circle cx="1364.0" cy="617.9" r="3.0"/><circle cx="1285.1" cy="625.1" r="3.4"/><circle cx="1431.1" cy="563.9" r="3.0"/><circle cx="1397.7" cy="537.6" r="3.4"/><circle cx="1369.8" cy="590.7" r="3.8"/><circle cx="1277.3" cy="532.2" r="3.2"/><circle cx="1362.5" cy="616.5" r="4.0"/><circle cx="533.9" cy="471.5" r="3.2"/><circle cx="1228.1" cy="486.9" r="3.4"/><circle cx="1261.4" cy="552.1" r="3.2"/><circle cx="590.2" cy="458.2" r="2.8"/><circle cx="649.0" cy="557.3" r="3.2"/><circle cx="1212.2" cy="500.1" r="5.0"/><circle cx="585.0" cy="513.3" r="3.2"/><circle cx="614.0" cy="478.8" r="4.4"/><circle cx="587.7" cy="511.7" r="4.4"/><circle cx="1285.3" cy="534.2" r="2.8"/><circle cx="1409.9" cy="647.1" r="3.2"/><circle cx="1357.6" cy="622.5" r="3.8"/><circle cx="1174.5" cy="480.6" r="3.8"/><circle cx="693.4" cy="455.5" r="2.8"/><circle cx="579.5" cy="550.3" r="2.8"/><circle cx="1341.5" cy="554.1" r="3.0"/><circle cx="609.4" cy="537.6" r="3.4"/><circle cx="493.4" cy="426.5" r="4.0"/><circle cx="1330.9" cy="577.1" r="3.0"/><circle cx="1212.9" cy="605.3" r="5.0"/><circle cx="1428.1" cy="630.8" r="3.8"/><circle cx="688.2" cy="529.4" r="3.8"/><circle cx="1276.3" cy="522.9" r="3.2"/><circle cx="1395.3" cy="606.8" r="4.4"/><circle cx="536.9" cy="468.9" r="3.2"/><circle cx="1369.7" cy="494.5" r="2.8"/><circle cx="435.9" cy="468.5" r="5.5"/><circle cx="549.0" cy="603.4" r="2.8"/><circle cx="510.2" cy="506.1" r="3.8"/><circle cx="543.6" cy="481.5" r="3.8"/><circle cx="1306.1" cy="594.2" r="2.8"/><circle cx="606.7" cy="552.8" r="3.4"/><circle cx="1410.8" cy="575.5" r="4.0"/><circle cx="485.4" cy="476.2" r="4.2"/><circle cx="1252.6" cy="546.3" r="3.0"/><circle cx="1313.0" cy="566.8" r="3.0"/><circle cx="445.6" cy="476.4" r="3.4"/><circle cx="505.0" cy="511.6" r="3.0"/><circle cx="733.1" cy="546.1" r="4.0"/><circle cx="1087.5" cy="524.0" r="4.0"/><circle cx="616.5" cy="499.5" r="3.8"/><circle cx="589.1" cy="533.6" r="4.0"/><circle cx="606.1" cy="531.2" r="4.0"/><circle cx="617.4" cy="544.4" r="3.6"/><circle cx="1144.8" cy="516.8" r="4.6"/><circle cx="1163.5" cy="480.6" r="3.4"/><circle cx="563.3" cy="443.7" r="3.2"/><circle cx="650.2" cy="561.7" r="2.8"/><circle cx="1315.8" cy="607.0" r="3.0"/><circle cx="1352.0" cy="609.9" r="2.8"/><circle cx="1321.9" cy="578.1" r="3.2"/><circle cx="545.0" cy="462.1" r="4.4"/><circle cx="698.6" cy="492.0" r="4.0"/><circle cx="1297.1" cy="539.4" r="3.8"/><circle cx="617.0" cy="564.0" r="4.0"/><circle cx="591.7" cy="446.6" r="2.8"/><circle cx="683.3" cy="568.2" r="3.8"/><circle cx="542.1" cy="482.5" r="3.2"/><circle cx="1358.6" cy="580.4" r="3.8"/><circle cx="1369.8" cy="561.7" r="3.2"/><circle cx="460.5" cy="512.9" r="3.8"/><circle cx="505.6" cy="517.3" r="3.0"/><circle cx="1452.1" cy="598.1" r="3.2"/><circle cx="651.0" cy="493.0" r="3.4"/><circle cx="579.7" cy="519.1" r="4.4"/><circle cx="1173.7" cy="523.2" r="3.8"/><circle cx="652.9" cy="518.8" r="3.8"/><circle cx="1367.0" cy="584.8" r="4.4"/><circle cx="569.8" cy="498.6" r="3.8"/><circle cx="630.6" cy="547.9" r="4.0"/><circle cx="402.9" cy="414.9" r="5.5"/><circle cx="606.3" cy="501.9" r="3.4"/><circle cx="618.6" cy="552.4" r="3.4"/><circle cx="547.2" cy="596.8" r="2.8"/><circle cx="1355.8" cy="588.2" r="3.8"/><circle cx="1246.1" cy="510.7" r="3.4"/><circle cx="1292.9" cy="580.3" r="2.8"/><circle cx="1404.7" cy="618.2" r="3.6"/><circle cx="609.2" cy="552.3" r="2.8"/><circle cx="467.2" cy="427.8" r="5.0"/><circle cx="1375.0" cy="632.3" r="2.8"/><circle cx="508.6" cy="466.8" r="3.4"/><circle cx="1448.5" cy="618.3" r="3.8"/><circle cx="596.8" cy="559.5" r="3.2"/><circle cx="576.2" cy="465.6" r="3.4"/><circle cx="1180.6" cy="442.3" r="5.0"/><circle cx="1328.3" cy="597.9" r="3.4"/><circle cx="680.3" cy="528.0" r="3.4"/><circle cx="1290.5" cy="551.4" r="3.2"/><circle cx="460.6" cy="531.7" r="5.0"/><circle cx="490.0" cy="486.1" r="3.8"/><circle cx="1282.8" cy="528.0" r="3.8"/><circle cx="671.7" cy="568.9" r="3.4"/><circle cx="603.1" cy="545.7" r="3.8"/><circle cx="605.3" cy="531.3" r="4.4"/><circle cx="596.2" cy="485.8" r="3.6"/><circle cx="1386.6" cy="584.8" r="3.6"/><circle cx="1379.3" cy="457.5" r="3.0"/><circle cx="1295.8" cy="530.3" r="3.2"/><circle cx="364.4" cy="499.2" r="4.0"/><circle cx="1292.8" cy="510.2" r="3.2"/><circle cx="698.1" cy="577.0" r="3.8"/><circle cx="664.5" cy="526.0" r="3.0"/><circle cx="1430.7" cy="529.4" r="3.0"/><circle cx="1257.2" cy="553.9" r="2.8"/><circle cx="1203.4" cy="556.8" r="5.5"/><circle cx="494.9" cy="594.3" r="3.4"/><circle cx="510.8" cy="478.3" r="3.6"/><circle cx="1237.0" cy="562.5" r="3.6"/><circle cx="543.6" cy="502.1" r="4.4"/><circle cx="618.8" cy="473.0" r="3.8"/><circle cx="1369.5" cy="551.6" r="3.8"/><circle cx="377.0" cy="433.2" r="3.5"/><circle cx="1354.5" cy="608.9" r="3.6"/><circle cx="1236.6" cy="560.6" r="3.0"/><circle cx="626.0" cy="550.6" r="3.2"/><circle cx="633.9" cy="516.4" r="4.0"/><circle cx="571.2" cy="478.7" r="4.4"/><circle cx="666.4" cy="557.4" r="3.2"/><circle cx="1354.6" cy="605.3" r="3.2"/><circle cx="1221.7" cy="499.4" r="4.2"/><circle cx="587.9" cy="500.5" r="3.2"/><circle cx="644.8" cy="551.8" r="3.6"/><circle cx="1367.5" cy="591.0" r="3.6"/><circle cx="1252.9" cy="563.9" r="3.2"/><circle cx="544.7" cy="468.4" r="3.8"/><circle cx="1281.3" cy="536.4" r="3.0"/><circle cx="1315.7" cy="557.9" r="3.8"/><circle cx="614.0" cy="497.9" r="4.0"/><circle cx="612.6" cy="527.3" r="3.4"/><circle cx="556.9" cy="538.7" r="4.4"/><circle cx="616.0" cy="548.5" r="4.4"/><circle cx="1366.6" cy="581.0" r="3.0"/><circle cx="545.3" cy="560.1" r="4.0"/><circle cx="1349.3" cy="507.7" r="3.8"/><circle cx="1333.3" cy="543.1" r="3.0"/><circle cx="1357.3" cy="561.0" r="3.2"/><circle cx="604.7" cy="516.7" r="3.2"/><circle cx="1358.7" cy="510.1" r="4.4"/><circle cx="558.3" cy="517.6" r="4.0"/><circle cx="605.9" cy="489.3" r="3.8"/><circle cx="1239.8" cy="557.7" r="3.6"/><circle cx="659.1" cy="445.8" r="3.6"/><circle cx="397.4" cy="462.6" r="5.5"/><circle cx="415.9" cy="403.3" r="3.4"/><circle cx="1390.3" cy="529.7" r="2.8"/><circle cx="426.1" cy="474.3" r="5.5"/><circle cx="548.1" cy="486.5" r="3.4"/><circle cx="611.1" cy="566.5" r="3.6"/><circle cx="1199.5" cy="515.4" r="3.8"/><circle cx="1237.5" cy="565.5" r="2.8"/><circle cx="669.5" cy="574.5" r="4.0"/><circle cx="654.8" cy="470.1" r="4.4"/><circle cx="582.8" cy="416.1" r="3.0"/><circle cx="1204.4" cy="532.9" r="3.8"/><circle cx="493.5" cy="536.6" r="3.8"/><circle cx="1335.1" cy="547.4" r="2.8"/><circle cx="628.1" cy="580.6" r="4.0"/><circle cx="1408.3" cy="583.7" r="4.4"/><circle cx="550.2" cy="455.6" r="3.6"/><circle cx="546.3" cy="523.5" r="4.4"/><circle cx="1374.8" cy="606.7" r="3.0"/><circle cx="430.6" cy="452.1" r="3.8"/><circle cx="1260.4" cy="535.4" r="3.4"/><circle cx="554.7" cy="468.2" r="3.0"/><circle cx="630.3" cy="583.8" r="2.8"/><circle cx="1052.3" cy="482.4" r="6.0"/><circle cx="1446.1" cy="633.2" r="3.6"/><circle cx="1148.8" cy="468.3" r="3.0"/><circle cx="1180.0" cy="473.6" r="3.0"/><circle cx="1309.6" cy="553.7" r="2.8"/><circle cx="1254.3" cy="509.8" r="2.8"/><circle cx="658.8" cy="550.6" r="3.0"/><circle cx="1300.9" cy="583.2" r="2.8"/><circle cx="1378.7" cy="578.9" r="3.0"/><circle cx="1238.9" cy="571.4" r="3.2"/><circle cx="666.4" cy="464.6" r="4.4"/><circle cx="1161.0" cy="525.7" r="4.6"/><circle cx="1305.0" cy="572.6" r="3.0"/><circle cx="1362.8" cy="568.1" r="4.4"/><circle cx="1166.8" cy="469.6" r="5.0"/><circle cx="620.6" cy="540.6" r="4.0"/><circle cx="1285.7" cy="645.8" r="2.8"/><circle cx="358.9" cy="404.1" r="8.0"/><circle cx="556.5" cy="506.3" r="3.6"/><circle cx="617.3" cy="459.2" r="3.6"/><circle cx="563.5" cy="505.2" r="4.0"/><circle cx="1329.8" cy="532.1" r="2.8"/><circle cx="573.8" cy="525.7" r="4.0"/><circle cx="462.4" cy="463.5" r="5.0"/><circle cx="548.5" cy="432.2" r="3.4"/><circle cx="1393.7" cy="610.1" r="3.6"/><circle cx="1303.8" cy="566.1" r="3.2"/><circle cx="1370.7" cy="619.1" r="3.0"/><circle cx="600.0" cy="493.1" r="3.6"/><circle cx="1156.7" cy="581.3" r="3.8"/><circle cx="608.4" cy="524.7" r="3.8"/><circle cx="520.9" cy="496.3" r="3.4"/><circle cx="1151.5" cy="493.3" r="4.6"/><circle cx="1250.2" cy="588.1" r="2.8"/><circle cx="1293.1" cy="490.1" r="4.0"/><circle cx="1421.8" cy="529.4" r="3.8"/><circle cx="613.4" cy="551.3" r="3.0"/><circle cx="490.3" cy="449.2" r="3.4"/><circle cx="623.3" cy="438.9" r="3.4"/><circle cx="582.5" cy="480.6" r="4.4"/><circle cx="1333.7" cy="568.6" r="3.2"/><circle cx="702.6" cy="476.3" r="2.8"/><circle cx="1406.0" cy="551.9" r="3.2"/><circle cx="1430.9" cy="543.9" r="4.0"/><circle cx="691.7" cy="563.4" r="3.8"/><circle cx="1270.9" cy="442.2" r="4.0"/><circle cx="1298.4" cy="633.8" r="3.4"/><circle cx="399.7" cy="392.7" r="4.2"/><circle cx="1230.3" cy="488.4" r="3.0"/><circle cx="1415.4" cy="587.3" r="3.2"/><circle cx="652.8" cy="538.4" r="3.6"/><circle cx="413.1" cy="417.2" r="4.2"/><circle cx="397.1" cy="361.4" r="3.4"/><circle cx="725.3" cy="516.8" r="2.8"/><circle cx="480.1" cy="506.8" r="5.5"/><circle cx="528.0" cy="475.8" r="3.2"/><circle cx="624.1" cy="478.6" r="3.8"/><circle cx="386.3" cy="429.1" r="5.5"/><circle cx="559.7" cy="511.1" r="3.4"/><circle cx="639.4" cy="585.7" r="4.4"/><circle cx="558.5" cy="533.0" r="3.8"/><circle cx="404.3" cy="407.8" r="6.5"/><circle cx="457.0" cy="413.6" r="4.2"/><circle cx="603.0" cy="557.4" r="3.4"/><circle cx="584.3" cy="491.6" r="3.4"/><circle cx="1372.0" cy="573.6" r="3.8"/><circle cx="642.6" cy="489.0" r="3.0"/><circle cx="1434.4" cy="579.0" r="4.0"/><circle cx="1379.8" cy="583.9" r="3.8"/><circle cx="532.1" cy="531.7" r="4.0"/><circle cx="1280.6" cy="543.3" r="4.0"/><circle cx="654.0" cy="528.1" r="2.8"/><circle cx="552.8" cy="502.6" r="3.0"/><circle cx="338.9" cy="440.4" r="5.5"/><circle cx="1229.8" cy="547.2" r="4.2"/><circle cx="425.2" cy="449.7" r="6.5"/><circle cx="1315.4" cy="545.5" r="3.4"/><circle cx="1243.4" cy="568.8" r="2.8"/><circle cx="588.7" cy="552.0" r="3.6"/><circle cx="682.5" cy="566.8" r="3.2"/><circle cx="660.4" cy="566.0" r="3.0"/><circle cx="1165.2" cy="462.3" r="3.8"/><circle cx="594.6" cy="572.8" r="3.2"/><circle cx="1290.2" cy="582.6" r="2.8"/><circle cx="1368.6" cy="549.0" r="3.4"/><circle cx="1136.8" cy="624.8" r="7.0"/><circle cx="504.1" cy="445.9" r="3.4"/><circle cx="582.3" cy="603.4" r="2.8"/><circle cx="1300.5" cy="567.8" r="3.2"/><circle cx="1377.1" cy="588.1" r="2.8"/><circle cx="1233.6" cy="498.1" r="5.0"/><circle cx="1237.9" cy="582.8" r="3.2"/><circle cx="683.0" cy="371.6" r="4.4"/><circle cx="577.4" cy="586.3" r="3.2"/><circle cx="422.9" cy="445.5" r="5.5"/><circle cx="505.4" cy="485.3" r="3.2"/><circle cx="556.5" cy="454.9" r="4.4"/><circle cx="562.8" cy="450.7" r="3.2"/><circle cx="366.6" cy="426.1" r="7.0"/><circle cx="1326.6" cy="495.8" r="2.8"/><circle cx="1188.1" cy="544.5" r="5.5"/><circle cx="659.9" cy="565.6" r="4.0"/><circle cx="614.4" cy="499.8" r="4.4"/><circle cx="1162.1" cy="478.5" r="3.8"/><circle cx="701.2" cy="533.1" r="3.6"/><circle cx="569.1" cy="528.8" r="4.4"/><circle cx="495.5" cy="475.9" r="3.2"/><circle cx="1366.7" cy="589.7" r="4.4"/><circle cx="657.4" cy="537.9" r="3.0"/><circle cx="554.7" cy="604.4" r="3.2"/><circle cx="1414.2" cy="566.5" r="3.4"/><circle cx="1200.8" cy="540.5" r="4.6"/><circle cx="513.6" cy="451.2" r="4.4"/><circle cx="1247.6" cy="519.7" r="4.0"/><circle cx="1319.9" cy="513.2" r="3.6"/><circle cx="1249.5" cy="539.6" r="3.8"/><circle cx="568.0" cy="564.7" r="2.8"/><circle cx="654.8" cy="482.9" r="2.8"/><circle cx="1355.7" cy="565.1" r="3.2"/><circle cx="570.3" cy="448.5" r="4.0"/><circle cx="1338.2" cy="520.7" r="4.0"/><circle cx="1209.0" cy="515.1" r="3.8"/><circle cx="1245.3" cy="490.6" r="2.8"/><circle cx="1303.6" cy="651.3" r="3.2"/><circle cx="1323.9" cy="654.0" r="3.0"/><circle cx="382.9" cy="415.0" r="3.5"/><circle cx="428.8" cy="423.6" r="6.5"/><circle cx="1228.9" cy="548.6" r="5.0"/><circle cx="586.2" cy="562.0" r="2.8"/><circle cx="1390.5" cy="558.5" r="3.4"/><circle cx="1154.1" cy="533.1" r="4.2"/><circle cx="640.8" cy="584.0" r="3.6"/><circle cx="604.9" cy="593.4" r="3.2"/><circle cx="627.1" cy="451.7" r="3.8"/><circle cx="491.6" cy="440.6" r="2.8"/><circle cx="417.3" cy="383.3" r="3.4"/><circle cx="1412.7" cy="574.5" r="2.8"/><circle cx="626.1" cy="450.2" r="3.4"/><circle cx="1294.8" cy="537.3" r="3.4"/><circle cx="1154.0" cy="498.0" r="4.6"/><circle cx="527.7" cy="453.3" r="3.0"/><circle cx="1386.5" cy="565.2" r="3.8"/><circle cx="505.9" cy="494.8" r="3.4"/><circle cx="1345.4" cy="537.2" r="3.0"/><circle cx="413.7" cy="436.5" r="3.4"/><circle cx="626.8" cy="507.9" r="4.0"/><circle cx="636.2" cy="510.2" r="3.4"/><circle cx="1451.7" cy="610.0" r="4.4"/><circle cx="513.8" cy="450.9" r="4.4"/><circle cx="1327.1" cy="520.7" r="3.6"/><circle cx="1363.4" cy="545.8" r="3.8"/><circle cx="1362.9" cy="486.6" r="2.8"/><circle cx="1227.4" cy="558.9" r="4.4"/><circle cx="506.8" cy="488.3" r="3.8"/><circle cx="413.9" cy="545.8" r="5.0"/><circle cx="629.0" cy="571.5" r="4.0"/><circle cx="491.8" cy="460.1" r="3.0"/><circle cx="595.7" cy="502.5" r="3.8"/><circle cx="1303.2" cy="509.1" r="3.8"/><circle cx="424.5" cy="403.5" r="3.0"/><circle cx="527.7" cy="440.0" r="4.0"/><circle cx="618.2" cy="475.8" r="2.8"/><circle cx="1279.6" cy="493.2" r="4.4"/><circle cx="1304.3" cy="581.1" r="2.8"/><circle cx="527.3" cy="541.9" r="3.2"/><circle cx="1237.3" cy="517.7" r="4.4"/><circle cx="503.2" cy="462.4" r="2.8"/><circle cx="1401.6" cy="601.2" r="3.2"/><circle cx="1342.8" cy="630.6" r="3.2"/><circle cx="607.7" cy="527.9" r="4.4"/><circle cx="408.0" cy="472.9" r="4.6"/><circle cx="505.2" cy="548.4" r="4.4"/><circle cx="601.6" cy="548.8" r="3.8"/><circle cx="638.4" cy="512.4" r="4.4"/><circle cx="532.8" cy="496.7" r="4.4"/><circle cx="518.9" cy="435.8" r="3.6"/><circle cx="1165.3" cy="504.8" r="5.0"/><circle cx="1187.2" cy="474.0" r="6.5"/><circle cx="558.7" cy="600.0" r="4.4"/><circle cx="463.6" cy="596.6" r="3.8"/><circle cx="1401.9" cy="574.0" r="3.2"/><circle cx="1375.7" cy="579.3" r="3.8"/><circle cx="452.8" cy="440.0" r="6.5"/><circle cx="1206.7" cy="507.7" r="4.2"/><circle cx="481.0" cy="498.1" r="3.8"/><circle cx="432.6" cy="476.0" r="3.4"/><circle cx="1379.5" cy="654.4" r="4.4"/><circle cx="1166.8" cy="499.9" r="3.4"/><circle cx="369.0" cy="415.9" r="4.5"/><circle cx="1110.0" cy="479.2" r="6.0"/><circle cx="1351.3" cy="555.0" r="4.4"/><circle cx="597.5" cy="470.7" r="3.8"/><circle cx="578.1" cy="548.1" r="3.2"/><circle cx="575.6" cy="552.1" r="3.4"/><circle cx="592.3" cy="506.0" r="3.2"/><circle cx="1346.9" cy="589.6" r="3.0"/><circle cx="620.1" cy="507.0" r="3.2"/><circle cx="616.1" cy="559.1" r="3.2"/><circle cx="1216.4" cy="477.5" r="4.0"/><circle cx="1382.2" cy="499.5" r="3.2"/><circle cx="379.8" cy="405.5" r="4.0"/><circle cx="381.8" cy="456.0" r="3.8"/><circle cx="518.0" cy="465.4" r="2.8"/><circle cx="484.9" cy="554.6" r="3.8"/><circle cx="1369.0" cy="590.7" r="3.0"/><circle cx="603.8" cy="509.0" r="3.0"/><circle cx="1130.4" cy="465.9" r="3.0"/><circle cx="580.5" cy="505.3" r="4.0"/><circle cx="692.3" cy="592.9" r="3.2"/><circle cx="518.2" cy="475.6" r="3.0"/><circle cx="552.8" cy="548.1" r="4.4"/><circle cx="673.2" cy="581.6" r="4.4"/><circle cx="414.7" cy="393.9" r="4.2"/><circle cx="1392.0" cy="640.3" r="3.2"/><circle cx="680.5" cy="586.4" r="4.0"/><circle cx="545.9" cy="470.9" r="3.0"/><circle cx="633.0" cy="435.2" r="3.8"/><circle cx="1142.1" cy="524.2" r="3.4"/><circle cx="349.7" cy="414.2" r="3.5"/><circle cx="1239.2" cy="572.6" r="3.4"/><circle cx="682.5" cy="519.5" r="3.4"/><circle cx="592.5" cy="547.6" r="3.8"/><circle cx="541.5" cy="460.3" r="3.6"/><circle cx="584.8" cy="528.8" r="4.4"/><circle cx="534.9" cy="443.6" r="3.4"/><circle cx="694.8" cy="556.2" r="3.8"/><circle cx="553.6" cy="454.8" r="3.2"/><circle cx="1218.4" cy="508.6" r="5.5"/><circle cx="645.0" cy="455.9" r="4.4"/><circle cx="681.7" cy="571.4" r="3.4"/><circle cx="738.0" cy="489.9" r="3.0"/><circle cx="581.1" cy="482.3" r="3.2"/><circle cx="622.8" cy="567.4" r="4.0"/><circle cx="652.4" cy="544.3" r="3.2"/><circle cx="1379.3" cy="533.2" r="4.0"/><circle cx="568.2" cy="538.6" r="3.4"/><circle cx="1240.7" cy="530.7" r="3.6"/><circle cx="685.8" cy="591.5" r="3.0"/><circle cx="1337.5" cy="597.0" r="2.8"/><circle cx="1276.2" cy="588.6" r="3.8"/><circle cx="598.3" cy="525.5" r="3.6"/><circle cx="1435.0" cy="537.3" r="2.8"/><circle cx="499.5" cy="430.6" r="3.0"/><circle cx="1239.6" cy="567.5" r="4.0"/><circle cx="1328.1" cy="564.2" r="3.0"/><circle cx="608.4" cy="445.9" r="2.8"/><circle cx="596.2" cy="500.6" r="3.6"/><circle cx="360.2" cy="500.8" r="7.0"/><circle cx="421.3" cy="422.5" r="4.2"/><circle cx="377.2" cy="536.9" r="8.0"/><circle cx="1202.0" cy="524.2" r="5.5"/><circle cx="1241.2" cy="475.6" r="3.0"/><circle cx="593.7" cy="501.4" r="3.0"/><circle cx="392.3" cy="460.6" r="3.4"/><circle cx="1183.7" cy="507.1" r="4.2"/><circle cx="1354.4" cy="524.9" r="2.8"/><circle cx="1141.8" cy="534.4" r="4.2"/><circle cx="1408.3" cy="478.6" r="3.8"/><circle cx="666.3" cy="519.7" r="2.8"/><circle cx="543.9" cy="485.3" r="3.8"/><circle cx="1419.0" cy="516.1" r="2.8"/><circle cx="1264.0" cy="567.6" r="4.0"/><circle cx="527.2" cy="512.1" r="4.4"/><circle cx="1299.0" cy="650.4" r="4.4"/><circle cx="1262.1" cy="603.5" r="4.4"/><circle cx="1082.9" cy="442.1" r="8.0"/><circle cx="1405.0" cy="564.2" r="3.4"/><circle cx="1065.7" cy="513.7" r="8.0"/><circle cx="498.6" cy="453.7" r="4.0"/><circle cx="633.6" cy="595.2" r="4.0"/><circle cx="1267.2" cy="518.5" r="3.4"/><circle cx="607.6" cy="473.0" r="3.4"/><circle cx="583.0" cy="599.8" r="3.0"/><circle cx="532.6" cy="463.4" r="3.2"/><circle cx="580.3" cy="549.1" r="4.4"/><circle cx="1259.3" cy="490.5" r="3.2"/><circle cx="504.7" cy="445.8" r="3.4"/><circle cx="531.9" cy="438.4" r="4.0"/><circle cx="1131.6" cy="471.6" r="3.0"/><circle cx="1293.1" cy="396.4" r="3.2"/><circle cx="592.0" cy="512.7" r="2.8"/><circle cx="361.6" cy="377.6" r="7.0"/><circle cx="1319.0" cy="528.6" r="3.8"/><circle cx="1336.4" cy="556.4" r="4.4"/><circle cx="642.4" cy="543.2" r="2.8"/><circle cx="562.1" cy="550.8" r="2.8"/><circle cx="1400.4" cy="650.4" r="3.2"/><circle cx="599.3" cy="480.3" r="4.4"/><circle cx="380.5" cy="483.6" r="4.5"/><circle cx="1393.1" cy="604.8" r="3.0"/><circle cx="622.9" cy="525.0" r="3.4"/><circle cx="1257.0" cy="574.9" r="2.8"/><circle cx="1248.1" cy="526.5" r="3.4"/><circle cx="1182.9" cy="575.3" r="3.0"/><circle cx="466.7" cy="536.6" r="5.5"/><circle cx="674.8" cy="458.1" r="3.4"/><circle cx="533.9" cy="431.0" r="3.6"/><circle cx="1397.2" cy="557.8" r="4.0"/><circle cx="449.8" cy="428.8" r="3.4"/><circle cx="1328.7" cy="545.3" r="3.0"/><circle cx="1290.6" cy="519.9" r="3.8"/><circle cx="1403.7" cy="627.1" r="4.0"/><circle cx="348.7" cy="435.0" r="3.5"/><circle cx="600.6" cy="563.2" r="4.4"/><circle cx="1396.3" cy="533.1" r="4.0"/><circle cx="526.0" cy="421.9" r="4.4"/><circle cx="569.8" cy="461.4" r="3.0"/><circle cx="661.7" cy="489.0" r="4.0"/><circle cx="1356.1" cy="555.4" r="3.2"/><circle cx="1274.9" cy="516.0" r="3.6"/><circle cx="592.2" cy="493.4" r="2.8"/><circle cx="1394.7" cy="493.6" r="3.4"/><circle cx="1309.5" cy="540.8" r="4.4"/><circle cx="608.5" cy="591.2" r="4.0"/><circle cx="1409.5" cy="536.2" r="2.8"/><circle cx="492.9" cy="442.7" r="3.8"/><circle cx="613.6" cy="535.9" r="2.8"/><circle cx="560.9" cy="500.1" r="3.4"/><circle cx="1207.1" cy="449.0" r="5.5"/><circle cx="1420.9" cy="552.4" r="3.6"/><circle cx="1394.6" cy="608.6" r="2.8"/><circle cx="643.4" cy="563.2" r="2.8"/><circle cx="1181.7" cy="527.3" r="5.5"/><circle cx="672.5" cy="539.6" r="3.4"/><circle cx="526.9" cy="492.9" r="3.0"/><circle cx="1319.2" cy="564.1" r="3.2"/><circle cx="1258.9" cy="630.1" r="3.4"/><circle cx="1344.5" cy="605.7" r="3.4"/><circle cx="519.9" cy="421.5" r="3.8"/><circle cx="652.6" cy="549.0" r="3.2"/><circle cx="1301.1" cy="480.3" r="3.4"/><circle cx="1294.5" cy="577.5" r="3.0"/><circle cx="515.7" cy="499.9" r="3.4"/><circle cx="563.9" cy="544.8" r="4.0"/><circle cx="1251.1" cy="553.5" r="4.0"/><circle cx="1405.9" cy="554.3" r="3.2"/><circle cx="1389.2" cy="606.1" r="4.4"/><circle cx="531.9" cy="514.3" r="2.8"/><circle cx="589.6" cy="507.8" r="3.4"/><circle cx="1231.8" cy="627.1" r="3.8"/><circle cx="329.3" cy="426.9" r="5.5"/><circle cx="585.5" cy="519.7" r="3.2"/><circle cx="1359.5" cy="580.6" r="4.0"/><circle cx="413.8" cy="389.3" r="4.2"/><circle cx="1264.0" cy="568.7" r="3.8"/><circle cx="1335.4" cy="532.8" r="3.8"/><circle cx="1300.8" cy="506.5" r="3.4"/><circle cx="705.6" cy="567.7" r="3.4"/><circle cx="1103.1" cy="462.6" r="3.5"/><circle cx="1273.4" cy="583.2" r="3.2"/><circle cx="1339.5" cy="593.0" r="3.8"/><circle cx="1182.6" cy="517.5" r="5.5"/><circle cx="551.8" cy="453.8" r="3.0"/><circle cx="405.6" cy="500.4" r="5.0"/><circle cx="690.3" cy="564.9" r="3.6"/><circle cx="616.1" cy="600.6" r="4.0"/><circle cx="1328.6" cy="551.4" r="3.0"/><circle cx="495.7" cy="470.0" r="3.2"/><circle cx="1255.0" cy="561.7" r="4.4"/><circle cx="1252.0" cy="546.3" r="2.8"/><circle cx="370.9" cy="420.8" r="5.0"/><circle cx="1395.8" cy="544.2" r="4.4"/><circle cx="543.5" cy="460.9" r="3.2"/><circle cx="1309.3" cy="521.0" r="4.0"/><circle cx="1365.9" cy="565.2" r="4.4"/><circle cx="590.5" cy="535.5" r="3.0"/><circle cx="623.4" cy="543.9" r="2.8"/><circle cx="668.5" cy="479.0" r="3.8"/><circle cx="500.6" cy="551.3" r="3.0"/><circle cx="1343.4" cy="557.0" r="2.8"/><circle cx="400.4" cy="431.8" r="3.0"/><circle cx="573.3" cy="487.2" r="2.8"/><circle cx="1307.3" cy="559.0" r="3.0"/><circle cx="1281.6" cy="501.9" r="3.6"/><circle cx="630.9" cy="447.0" r="2.8"/><circle cx="1373.7" cy="547.0" r="3.0"/><circle cx="1366.2" cy="640.1" r="3.2"/><circle cx="1241.1" cy="522.3" r="2.8"/><circle cx="538.9" cy="454.0" r="3.4"/><circle cx="1374.0" cy="501.1" r="4.4"/><circle cx="530.0" cy="451.0" r="2.8"/><circle cx="551.0" cy="471.5" r="3.6"/><circle cx="1282.9" cy="543.9" r="3.0"/><circle cx="695.6" cy="449.3" r="3.6"/><circle cx="515.0" cy="481.1" r="3.8"/><circle cx="1379.3" cy="585.2" r="3.8"/><circle cx="1341.0" cy="616.7" r="3.6"/><circle cx="471.7" cy="461.7" r="4.2"/><circle cx="422.1" cy="423.5" r="4.2"/><circle cx="540.6" cy="517.5" r="3.8"/><circle cx="493.6" cy="483.8" r="3.0"/><circle cx="1420.9" cy="589.1" r="3.2"/><circle cx="368.5" cy="434.1" r="5.0"/><circle cx="408.6" cy="437.9" r="3.8"/><circle cx="506.5" cy="442.4" r="4.0"/><circle cx="1399.1" cy="599.4" r="3.2"/><circle cx="598.0" cy="580.4" r="3.2"/><circle cx="514.8" cy="445.1" r="3.6"/><circle cx="1371.1" cy="570.2" r="3.4"/><circle cx="1416.9" cy="633.8" r="3.4"/><circle cx="571.7" cy="461.9" r="3.2"/><circle cx="1364.3" cy="612.5" r="3.4"/><circle cx="660.6" cy="606.8" r="3.2"/><circle cx="544.2" cy="486.3" r="4.4"/><circle cx="1286.8" cy="541.9" r="3.2"/><circle cx="1341.7" cy="573.5" r="3.8"/><circle cx="1293.4" cy="493.8" r="2.8"/><circle cx="626.8" cy="574.0" r="2.8"/><circle cx="1164.5" cy="571.0" r="4.6"/><circle cx="1385.0" cy="515.9" r="4.0"/><circle cx="530.7" cy="469.6" r="3.2"/><circle cx="1377.0" cy="645.4" r="4.4"/><circle cx="1137.7" cy="519.3" r="3.8"/><circle cx="553.2" cy="466.8" r="4.0"/><circle cx="622.3" cy="563.2" r="3.2"/><circle cx="619.5" cy="444.8" r="3.0"/><circle cx="524.5" cy="445.6" r="3.4"/><circle cx="573.8" cy="421.7" r="2.8"/><circle cx="719.1" cy="405.1" r="4.0"/><circle cx="1325.9" cy="615.4" r="3.0"/><circle cx="1381.6" cy="553.1" r="2.8"/><circle cx="616.6" cy="513.0" r="4.4"/><circle cx="711.0" cy="509.9" r="3.6"/><circle cx="1306.1" cy="524.3" r="2.8"/><circle cx="431.9" cy="415.2" r="5.5"/><circle cx="1129.3" cy="492.2" r="4.6"/><circle cx="1396.0" cy="607.9" r="3.4"/><circle cx="1232.3" cy="590.2" r="3.4"/><circle cx="617.2" cy="438.2" r="3.4"/><circle cx="1410.2" cy="619.8" r="3.4"/><circle cx="1454.2" cy="581.6" r="2.8"/><circle cx="1331.6" cy="591.8" r="3.0"/><circle cx="499.1" cy="434.9" r="4.4"/><circle cx="532.6" cy="458.8" r="3.0"/><circle cx="1265.4" cy="525.6" r="3.8"/><circle cx="515.9" cy="583.9" r="3.2"/><circle cx="1081.7" cy="453.4" r="8.0"/><circle cx="405.7" cy="430.5" r="4.2"/><circle cx="715.0" cy="545.8" r="2.8"/><circle cx="674.8" cy="477.4" r="3.4"/><circle cx="657.1" cy="539.8" r="3.8"/><circle cx="1311.7" cy="572.5" r="3.2"/><circle cx="1166.0" cy="517.5" r="5.0"/><circle cx="651.9" cy="478.8" r="4.0"/><circle cx="1137.4" cy="530.2" r="6.5"/><circle cx="376.7" cy="388.8" r="5.0"/><circle cx="645.3" cy="575.7" r="3.4"/><circle cx="1201.4" cy="542.8" r="6.5"/><circle cx="1177.9" cy="523.1" r="3.0"/><circle cx="507.9" cy="451.5" r="3.6"/><circle cx="615.4" cy="580.1" r="3.4"/><circle cx="389.6" cy="393.4" r="3.5"/><circle cx="651.0" cy="536.2" r="3.8"/><circle cx="1397.1" cy="581.2" r="2.8"/><circle cx="572.0" cy="419.2" r="3.6"/><circle cx="1278.1" cy="611.9" r="4.0"/><circle cx="1151.4" cy="456.4" r="3.0"/><circle cx="1338.0" cy="600.5" r="3.2"/><circle cx="1277.5" cy="539.8" r="3.0"/><circle cx="1381.5" cy="520.0" r="3.4"/><circle cx="1172.2" cy="504.3" r="4.6"/><circle cx="1291.3" cy="583.7" r="3.8"/><circle cx="1232.7" cy="547.0" r="5.0"/><circle cx="1357.5" cy="652.5" r="3.4"/><circle cx="578.4" cy="471.4" r="4.0"/><circle cx="1345.4" cy="669.7" r="4.0"/><circle cx="579.2" cy="581.8" r="4.4"/><circle cx="578.6" cy="577.1" r="3.4"/><circle cx="345.3" cy="451.5" r="4.5"/><circle cx="620.8" cy="489.1" r="3.0"/><circle cx="669.9" cy="551.2" r="3.2"/><circle cx="487.9" cy="523.9" r="3.8"/><circle cx="618.0" cy="594.9" r="4.0"/><circle cx="646.4" cy="540.9" r="3.0"/><circle cx="1256.0" cy="595.9" r="3.0"/><circle cx="527.8" cy="584.4" r="2.8"/><circle cx="491.6" cy="452.9" r="3.8"/><circle cx="1365.2" cy="644.7" r="3.8"/><circle cx="1230.3" cy="559.9" r="3.4"/><circle cx="1294.4" cy="546.8" r="3.8"/><circle cx="636.3" cy="500.3" r="3.8"/><circle cx="583.6" cy="463.2" r="4.0"/><circle cx="1353.5" cy="511.1" r="2.8"/><circle cx="581.9" cy="443.6" r="3.0"/><circle cx="619.7" cy="483.6" r="4.0"/><circle cx="1420.0" cy="545.9" r="3.8"/><circle cx="1142.5" cy="476.0" r="5.5"/><circle cx="1250.8" cy="515.2" r="2.8"/><circle cx="1368.0" cy="583.3" r="4.4"/><circle cx="1262.8" cy="569.1" r="3.6"/><circle cx="1226.1" cy="537.9" r="3.0"/><circle cx="632.4" cy="517.7" r="4.0"/><circle cx="1079.1" cy="509.9" r="6.0"/><circle cx="638.7" cy="516.3" r="4.0"/><circle cx="1374.6" cy="529.0" r="3.2"/><circle cx="1355.4" cy="624.4" r="3.8"/><circle cx="1401.8" cy="589.2" r="2.8"/><circle cx="490.2" cy="460.5" r="3.2"/><circle cx="1293.4" cy="537.5" r="4.0"/><circle cx="480.5" cy="558.7" r="5.0"/><circle cx="1171.1" cy="504.4" r="4.6"/><circle cx="1292.8" cy="641.9" r="3.8"/><circle cx="1295.3" cy="526.4" r="3.0"/><circle cx="1230.4" cy="554.7" r="5.5"/><circle cx="565.6" cy="578.4" r="3.2"/><circle cx="1271.6" cy="566.1" r="3.0"/><circle cx="1150.1" cy="548.3" r="3.4"/><circle cx="1302.6" cy="524.9" r="2.8"/><circle cx="569.4" cy="427.3" r="2.8"/><circle cx="488.0" cy="486.7" r="3.6"/><circle cx="592.4" cy="424.1" r="3.8"/><circle cx="566.8" cy="612.1" r="3.6"/><circle cx="598.9" cy="528.8" r="2.8"/><circle cx="1277.5" cy="480.7" r="2.8"/><circle cx="1243.0" cy="544.5" r="4.0"/><circle cx="403.0" cy="440.0" r="5.0"/><circle cx="1147.2" cy="475.4" r="3.8"/><circle cx="1305.9" cy="572.6" r="3.0"/><circle cx="636.2" cy="530.4" r="4.4"/><circle cx="554.3" cy="517.5" r="3.4"/><circle cx="464.0" cy="448.7" r="4.2"/><circle cx="1339.0" cy="651.7" r="4.0"/><circle cx="1357.9" cy="563.3" r="3.6"/><circle cx="1294.4" cy="547.7" r="3.0"/><circle cx="655.6" cy="568.7" r="3.4"/><circle cx="1337.9" cy="524.0" r="2.8"/><circle cx="1275.9" cy="528.2" r="4.4"/><circle cx="617.3" cy="515.0" r="4.0"/><circle cx="636.2" cy="472.7" r="3.0"/><circle cx="492.2" cy="460.1" r="3.4"/><circle cx="585.7" cy="539.3" r="2.8"/><circle cx="580.4" cy="550.9" r="3.0"/><circle cx="481.6" cy="500.5" r="3.8"/><circle cx="584.8" cy="506.2" r="4.0"/><circle cx="489.2" cy="466.8" r="5.5"/><circle cx="1363.7" cy="509.2" r="3.4"/><circle cx="458.7" cy="584.8" r="4.6"/><circle cx="1340.3" cy="577.9" r="3.4"/><circle cx="1440.5" cy="638.0" r="2.8"/><circle cx="1151.4" cy="481.3" r="6.5"/><circle cx="1271.5" cy="516.6" r="4.0"/><circle cx="1362.5" cy="656.7" r="4.0"/><circle cx="648.0" cy="448.9" r="4.0"/><circle cx="537.8" cy="457.3" r="3.8"/><circle cx="1222.9" cy="561.6" r="3.0"/><circle cx="553.2" cy="523.9" r="3.6"/><circle cx="572.2" cy="523.4" r="3.6"/><circle cx="1405.4" cy="607.7" r="3.0"/><circle cx="596.5" cy="380.9" r="3.8"/><circle cx="417.9" cy="427.4" r="6.5"/><circle cx="1425.5" cy="554.8" r="3.8"/><circle cx="1430.8" cy="597.3" r="2.8"/><circle cx="569.8" cy="452.5" r="3.0"/><circle cx="649.5" cy="458.2" r="2.8"/><circle cx="400.7" cy="404.9" r="7.0"/><circle cx="567.5" cy="447.0" r="2.8"/><circle cx="1371.1" cy="621.6" r="3.4"/><circle cx="494.1" cy="461.0" r="4.4"/><circle cx="1320.8" cy="553.3" r="4.4"/><circle cx="1234.9" cy="517.4" r="4.4"/><circle cx="1201.8" cy="585.9" r="6.5"/><circle cx="1380.4" cy="525.8" r="4.4"/><circle cx="1277.4" cy="609.3" r="2.8"/><circle cx="524.5" cy="502.3" r="2.8"/><circle cx="1334.7" cy="567.4" r="3.8"/><circle cx="612.2" cy="534.6" r="3.4"/><circle cx="1266.2" cy="536.6" r="4.0"/><circle cx="1364.1" cy="548.0" r="3.4"/><circle cx="1229.9" cy="525.7" r="3.8"/><circle cx="602.3" cy="609.1" r="3.0"/><circle cx="527.9" cy="483.4" r="2.8"/><circle cx="514.2" cy="564.7" r="3.6"/><circle cx="1367.7" cy="596.4" r="3.8"/><circle cx="1251.2" cy="550.7" r="3.4"/><circle cx="505.2" cy="478.1" r="4.4"/><circle cx="644.4" cy="480.5" r="2.8"/><circle cx="1354.4" cy="622.0" r="3.4"/><circle cx="1245.0" cy="514.9" r="4.4"/><circle cx="1257.9" cy="454.6" r="3.2"/><circle cx="635.1" cy="494.2" r="3.2"/><circle cx="1234.6" cy="584.9" r="4.0"/><circle cx="654.2" cy="532.8" r="2.8"/><circle cx="709.0" cy="560.6" r="3.6"/><circle cx="579.5" cy="496.9" r="3.0"/><circle cx="1260.2" cy="492.8" r="4.4"/><circle cx="1341.8" cy="530.6" r="3.8"/><circle cx="628.7" cy="549.9" r="4.0"/><circle cx="525.0" cy="484.0" r="2.8"/><circle cx="1275.9" cy="545.3" r="3.4"/><circle cx="1244.4" cy="507.8" r="2.8"/><circle cx="649.5" cy="450.5" r="2.8"/><circle cx="654.4" cy="549.9" r="4.4"/><circle cx="1243.0" cy="529.5" r="3.6"/><circle cx="1389.4" cy="589.6" r="2.8"/><circle cx="599.4" cy="509.6" r="3.0"/><circle cx="526.8" cy="449.4" r="2.8"/><circle cx="1335.6" cy="624.7" r="4.0"/><circle cx="410.4" cy="464.8" r="4.6"/><circle cx="360.5" cy="424.0" r="8.0"/><circle cx="1184.3" cy="478.7" r="3.8"/><circle cx="1457.4" cy="600.8" r="2.8"/><circle cx="363.9" cy="439.2" r="5.0"/><circle cx="580.1" cy="474.2" r="3.0"/><circle cx="655.0" cy="506.7" r="3.6"/><circle cx="605.4" cy="480.3" r="2.8"/><circle cx="619.7" cy="490.0" r="3.4"/><circle cx="608.0" cy="508.9" r="3.6"/><circle cx="1184.3" cy="490.8" r="3.0"/><circle cx="1277.9" cy="550.9" r="3.6"/><circle cx="639.9" cy="444.2" r="3.8"/><circle cx="641.6" cy="557.6" r="3.0"/><circle cx="689.3" cy="505.8" r="4.0"/><circle cx="563.8" cy="454.0" r="2.8"/><circle cx="625.0" cy="524.9" r="3.8"/><circle cx="1339.1" cy="607.4" r="3.6"/><circle cx="600.5" cy="424.4" r="3.0"/><circle cx="481.4" cy="490.7" r="3.0"/><circle cx="430.3" cy="382.0" r="4.2"/><circle cx="1146.4" cy="653.3" r="3.4"/><circle cx="433.0" cy="469.6" r="5.0"/><circle cx="1263.7" cy="593.0" r="4.4"/><circle cx="1286.1" cy="562.1" r="3.0"/><circle cx="662.9" cy="474.3" r="2.8"/><circle cx="567.2" cy="541.2" r="3.6"/><circle cx="1256.8" cy="539.7" r="3.0"/><circle cx="1342.3" cy="546.5" r="2.8"/><circle cx="495.5" cy="496.3" r="6.5"/><circle cx="1295.6" cy="529.7" r="3.4"/><circle cx="416.9" cy="435.2" r="4.6"/><circle cx="1223.3" cy="585.8" r="3.4"/><circle cx="503.0" cy="469.7" r="3.4"/><circle cx="1311.2" cy="490.2" r="4.0"/><circle cx="1379.6" cy="621.5" r="2.8"/><circle cx="1378.8" cy="613.3" r="3.8"/><circle cx="1447.2" cy="555.4" r="3.8"/><circle cx="530.7" cy="398.0" r="3.2"/><circle cx="492.2" cy="484.7" r="5.5"/><circle cx="1253.8" cy="527.5" r="3.6"/><circle cx="564.9" cy="527.9" r="4.0"/><circle cx="609.8" cy="444.2" r="3.2"/><circle cx="670.1" cy="536.2" r="3.6"/><circle cx="529.6" cy="512.4" r="3.0"/><circle cx="660.5" cy="549.4" r="4.0"/><circle cx="1344.4" cy="516.6" r="2.8"/><circle cx="1393.9" cy="623.5" r="2.8"/><circle cx="1342.7" cy="524.1" r="3.4"/><circle cx="1409.3" cy="636.7" r="3.6"/><circle cx="1379.4" cy="615.8" r="4.0"/><circle cx="548.6" cy="504.1" r="3.8"/><circle cx="1064.0" cy="565.5" r="5.5"/><circle cx="1358.7" cy="618.6" r="3.4"/><circle cx="596.7" cy="493.2" r="3.2"/><circle cx="1245.0" cy="531.9" r="3.2"/><circle cx="1243.2" cy="573.2" r="3.4"/><circle cx="569.0" cy="460.7" r="3.6"/><circle cx="1229.6" cy="499.4" r="4.4"/><circle cx="651.9" cy="531.4" r="4.4"/><circle cx="583.2" cy="568.5" r="3.6"/><circle cx="1392.2" cy="552.6" r="3.6"/><circle cx="1318.5" cy="610.8" r="3.8"/><circle cx="1235.4" cy="561.4" r="3.4"/><circle cx="542.7" cy="447.1" r="3.4"/><circle cx="596.9" cy="532.8" r="3.6"/><circle cx="558.2" cy="522.3" r="3.0"/><circle cx="1382.0" cy="551.2" r="3.4"/><circle cx="607.9" cy="568.7" r="2.8"/><circle cx="1402.6" cy="635.7" r="3.0"/><circle cx="440.8" cy="392.2" r="3.0"/><circle cx="395.6" cy="423.0" r="3.0"/><circle cx="583.4" cy="486.3" r="4.4"/><circle cx="567.3" cy="519.1" r="2.8"/><circle cx="1424.5" cy="582.3" r="2.8"/><circle cx="1358.6" cy="637.5" r="2.8"/><circle cx="636.5" cy="535.8" r="4.4"/><circle cx="1237.1" cy="546.9" r="3.2"/><circle cx="1395.6" cy="604.4" r="3.4"/><circle cx="493.6" cy="498.6" r="3.8"/><circle cx="1225.8" cy="542.8" r="3.8"/><circle cx="662.2" cy="550.8" r="3.6"/><circle cx="1288.5" cy="531.3" r="4.4"/><circle cx="658.3" cy="551.0" r="4.0"/><circle cx="1394.0" cy="551.8" r="4.4"/><circle cx="1418.9" cy="602.6" r="2.8"/><circle cx="1419.4" cy="610.8" r="3.0"/><circle cx="565.3" cy="468.6" r="4.0"/><circle cx="1235.0" cy="497.5" r="3.2"/><circle cx="1419.0" cy="510.6" r="4.0"/><circle cx="587.7" cy="518.9" r="4.4"/><circle cx="561.5" cy="461.8" r="3.0"/><circle cx="1300.3" cy="495.4" r="3.8"/><circle cx="1346.9" cy="604.5" r="3.6"/><circle cx="576.7" cy="466.6" r="2.8"/><circle cx="672.9" cy="530.9" r="3.0"/><circle cx="601.8" cy="513.3" r="3.0"/><circle cx="1279.1" cy="549.1" r="3.2"/><circle cx="553.8" cy="579.1" r="3.8"/><circle cx="665.2" cy="597.6" r="2.8"/><circle cx="536.5" cy="575.4" r="4.0"/><circle cx="1372.3" cy="559.3" r="4.4"/><circle cx="1396.6" cy="629.8" r="4.0"/><circle cx="605.4" cy="553.3" r="4.4"/><circle cx="1361.2" cy="479.8" r="2.8"/><circle cx="647.4" cy="569.0" r="3.0"/><circle cx="424.7" cy="487.8" r="4.2"/><circle cx="439.0" cy="436.1" r="3.8"/><circle cx="616.3" cy="535.5" r="2.8"/><circle cx="536.2" cy="454.3" r="4.4"/><circle cx="569.1" cy="474.6" r="2.8"/><circle cx="345.1" cy="463.9" r="6.0"/><circle cx="1249.8" cy="488.6" r="3.0"/><circle cx="1375.4" cy="582.5" r="3.0"/><circle cx="592.2" cy="537.6" r="4.4"/><circle cx="1193.6" cy="509.4" r="5.0"/><circle cx="1158.6" cy="474.0" r="3.0"/><circle cx="1286.4" cy="536.6" r="3.0"/><circle cx="1312.1" cy="619.3" r="3.6"/><circle cx="509.4" cy="462.6" r="2.8"/><circle cx="1278.4" cy="596.9" r="3.4"/><circle cx="598.3" cy="420.0" r="4.0"/><circle cx="383.1" cy="408.7" r="3.5"/><circle cx="1256.7" cy="502.6" r="3.6"/><circle cx="1343.1" cy="582.0" r="4.0"/><circle cx="360.3" cy="567.1" r="5.5"/><circle cx="386.2" cy="463.3" r="6.0"/><circle cx="492.1" cy="493.1" r="3.2"/><circle cx="1376.3" cy="613.2" r="3.2"/><circle cx="1261.6" cy="581.5" r="3.0"/><circle cx="1208.8" cy="531.1" r="5.5"/><circle cx="644.4" cy="618.1" r="3.0"/><circle cx="1379.6" cy="535.2" r="3.0"/><circle cx="555.6" cy="544.0" r="4.4"/><circle cx="649.7" cy="490.8" r="3.8"/><circle cx="1456.9" cy="541.5" r="2.8"/><circle cx="1239.8" cy="592.9" r="3.2"/><circle cx="635.4" cy="543.6" r="2.8"/><circle cx="1356.1" cy="596.8" r="3.0"/><circle cx="1286.7" cy="555.5" r="3.6"/><circle cx="562.0" cy="560.7" r="3.6"/><circle cx="483.8" cy="481.1" r="3.4"/><circle cx="623.7" cy="488.2" r="3.8"/><circle cx="596.4" cy="516.7" r="3.2"/><circle cx="1273.9" cy="624.7" r="3.4"/><circle cx="665.9" cy="524.6" r="3.6"/><circle cx="712.0" cy="582.9" r="3.4"/><circle cx="571.9" cy="557.7" r="3.4"/><circle cx="1344.0" cy="570.0" r="4.4"/><circle cx="1377.9" cy="601.7" r="4.0"/><circle cx="1239.0" cy="506.9" r="3.6"/><circle cx="1248.8" cy="554.8" r="4.0"/><circle cx="414.3" cy="478.5" r="3.0"/><circle cx="618.6" cy="505.4" r="3.2"/><circle cx="556.0" cy="588.0" r="3.0"/><circle cx="1318.7" cy="593.8" r="4.0"/><circle cx="512.8" cy="513.5" r="2.8"/><circle cx="1231.0" cy="525.0" r="3.4"/><circle cx="1255.3" cy="526.3" r="3.0"/><circle cx="474.4" cy="504.6" r="3.0"/><circle cx="1406.7" cy="644.0" r="3.8"/><circle cx="625.6" cy="576.9" r="2.8"/><circle cx="1405.4" cy="606.3" r="3.0"/><circle cx="1293.0" cy="528.4" r="4.0"/><circle cx="1367.5" cy="580.1" r="3.4"/><circle cx="1246.9" cy="561.3" r="2.8"/><circle cx="595.8" cy="583.4" r="4.0"/><circle cx="1378.3" cy="589.7" r="4.0"/><circle cx="1376.2" cy="526.6" r="3.8"/><circle cx="645.2" cy="509.4" r="3.0"/><circle cx="1255.2" cy="503.3" r="4.4"/><circle cx="576.4" cy="512.4" r="3.8"/><circle cx="1296.4" cy="589.1" r="4.0"/><circle cx="589.0" cy="539.6" r="3.0"/><circle cx="1365.1" cy="530.5" r="4.0"/><circle cx="1221.8" cy="523.5" r="3.8"/><circle cx="545.8" cy="482.9" r="3.6"/><circle cx="1319.5" cy="516.0" r="3.0"/><circle cx="393.8" cy="511.0" r="6.5"/><circle cx="1326.1" cy="579.0" r="3.0"/><circle cx="588.7" cy="573.2" r="4.4"/><circle cx="556.3" cy="529.9" r="2.8"/><circle cx="598.9" cy="502.7" r="4.0"/><circle cx="1336.1" cy="633.6" r="3.4"/><circle cx="598.2" cy="585.5" r="3.0"/><circle cx="516.1" cy="503.9" r="3.0"/><circle cx="584.7" cy="490.6" r="3.8"/><circle cx="1389.1" cy="639.8" r="3.0"/><circle cx="647.0" cy="574.2" r="3.8"/><circle cx="1244.7" cy="516.1" r="3.8"/><circle cx="638.2" cy="561.7" r="3.6"/><circle cx="1347.2" cy="635.6" r="3.0"/><circle cx="1292.1" cy="602.3" r="4.4"/><circle cx="1230.2" cy="529.2" r="2.8"/><circle cx="1352.4" cy="612.8" r="3.6"/><circle cx="1266.9" cy="537.2" r="3.4"/><circle cx="499.5" cy="488.2" r="3.6"/><circle cx="533.2" cy="470.8" r="3.2"/><circle cx="1081.4" cy="500.1" r="3.5"/><circle cx="568.9" cy="485.0" r="4.4"/><circle cx="1322.8" cy="607.8" r="4.4"/><circle cx="1142.8" cy="507.1" r="6.5"/><circle cx="1411.9" cy="573.5" r="4.4"/><circle cx="1381.6" cy="583.7" r="3.6"/><circle cx="1210.6" cy="502.9" r="3.4"/><circle cx="1336.2" cy="637.3" r="4.4"/><circle cx="1361.3" cy="620.9" r="3.2"/><circle cx="1234.5" cy="521.9" r="4.4"/><circle cx="652.1" cy="503.0" r="3.2"/><circle cx="606.3" cy="555.6" r="3.8"/><circle cx="1330.4" cy="515.1" r="3.8"/><circle cx="1406.0" cy="545.2" r="3.0"/><circle cx="1269.6" cy="547.8" r="3.2"/><circle cx="1389.3" cy="658.7" r="3.8"/><circle cx="659.0" cy="485.6" r="3.0"/><circle cx="439.9" cy="384.8" r="5.0"/><circle cx="1406.3" cy="531.0" r="3.8"/><circle cx="1183.1" cy="505.4" r="5.0"/><circle cx="1363.3" cy="485.5" r="3.0"/><circle cx="532.6" cy="463.8" r="2.8"/><circle cx="1180.9" cy="518.5" r="3.0"/><circle cx="538.9" cy="573.1" r="3.4"/><circle cx="1163.7" cy="545.5" r="5.5"/><circle cx="1267.9" cy="620.2" r="3.0"/><circle cx="1172.5" cy="489.3" r="6.5"/><circle cx="626.9" cy="484.9" r="3.4"/><circle cx="587.8" cy="479.6" r="3.4"/><circle cx="513.0" cy="502.0" r="4.0"/><circle cx="648.0" cy="455.5" r="4.0"/><circle cx="589.2" cy="437.9" r="3.0"/><circle cx="1210.1" cy="613.7" r="4.2"/><circle cx="559.9" cy="473.1" r="3.8"/><circle cx="1262.5" cy="566.7" r="4.0"/><circle cx="511.0" cy="434.7" r="2.8"/><circle cx="594.6" cy="583.5" r="4.0"/><circle cx="551.5" cy="431.9" r="3.2"/><circle cx="1244.0" cy="528.6" r="3.2"/><circle cx="1340.5" cy="610.5" r="3.6"/><circle cx="1348.7" cy="591.2" r="4.4"/><circle cx="499.3" cy="485.8" r="3.6"/><circle cx="1304.6" cy="591.0" r="3.2"/><circle cx="529.8" cy="468.9" r="3.4"/><circle cx="1378.7" cy="566.3" r="4.0"/><circle cx="599.9" cy="462.0" r="4.4"/><circle cx="1277.7" cy="556.1" r="3.6"/><circle cx="1269.1" cy="616.4" r="4.0"/><circle cx="1375.7" cy="685.1" r="4.0"/><circle cx="1184.0" cy="523.6" r="6.5"/><circle cx="1380.9" cy="624.3" r="3.0"/><circle cx="700.1" cy="535.8" r="3.8"/><circle cx="1236.3" cy="534.9" r="3.0"/><circle cx="1383.2" cy="584.6" r="3.8"/><circle cx="498.8" cy="429.1" r="3.8"/><circle cx="563.6" cy="495.1" r="4.0"/><circle cx="1426.6" cy="623.1" r="3.0"/><circle cx="585.2" cy="532.6" r="3.0"/><circle cx="382.3" cy="471.1" r="6.0"/><circle cx="1323.9" cy="542.9" r="3.4"/><circle cx="577.3" cy="539.5" r="3.0"/><circle cx="1218.5" cy="550.3" r="4.0"/><circle cx="678.8" cy="593.4" r="3.2"/><circle cx="1392.7" cy="579.3" r="3.4"/><circle cx="677.1" cy="553.5" r="4.0"/><circle cx="357.5" cy="458.4" r="4.0"/><circle cx="1137.6" cy="496.8" r="4.2"/><circle cx="655.1" cy="484.4" r="3.0"/><circle cx="1098.9" cy="436.5" r="8.0"/><circle cx="1120.3" cy="489.3" r="8.0"/><circle cx="1401.9" cy="560.0" r="3.6"/><circle cx="1398.1" cy="556.7" r="3.0"/><circle cx="611.6" cy="570.7" r="4.0"/><circle cx="1319.2" cy="555.9" r="3.4"/><circle cx="1268.9" cy="562.7" r="4.4"/><circle cx="610.5" cy="590.8" r="3.6"/><circle cx="1374.6" cy="612.2" r="2.8"/><circle cx="671.2" cy="488.3" r="4.0"/><circle cx="379.6" cy="353.3" r="4.0"/><circle cx="1331.0" cy="594.4" r="3.4"/><circle cx="664.7" cy="497.8" r="4.4"/><circle cx="1409.5" cy="526.8" r="3.4"/><circle cx="577.9" cy="565.7" r="3.4"/><circle cx="629.0" cy="541.0" r="3.6"/><circle cx="644.4" cy="580.9" r="4.0"/><circle cx="1265.0" cy="511.1" r="3.8"/><circle cx="1330.7" cy="516.5" r="3.8"/><circle cx="339.8" cy="412.3" r="5.0"/><circle cx="1389.1" cy="607.4" r="3.8"/><circle cx="1195.5" cy="526.2" r="5.0"/><circle cx="502.9" cy="421.3" r="4.4"/><circle cx="650.1" cy="538.5" r="3.4"/><circle cx="1403.6" cy="536.2" r="3.0"/><circle cx="1417.1" cy="648.6" r="4.4"/><circle cx="538.9" cy="445.9" r="3.8"/><circle cx="1182.8" cy="454.4" r="3.4"/><circle cx="526.2" cy="476.3" r="3.0"/><circle cx="509.4" cy="515.9" r="3.2"/><circle cx="549.4" cy="442.3" r="3.8"/><circle cx="537.5" cy="494.3" r="3.0"/><circle cx="1152.9" cy="588.8" r="3.8"/><circle cx="1287.6" cy="531.0" r="4.4"/><circle cx="674.6" cy="569.0" r="4.4"/><circle cx="1205.6" cy="526.1" r="3.0"/><circle cx="428.5" cy="472.0" r="5.5"/><circle cx="656.7" cy="524.0" r="4.4"/><circle cx="567.2" cy="467.4" r="4.0"/><circle cx="1378.6" cy="568.7" r="4.4"/><circle cx="1349.3" cy="633.1" r="4.4"/><circle cx="1359.8" cy="561.1" r="2.8"/><circle cx="406.8" cy="399.7" r="5.0"/><circle cx="644.9" cy="520.2" r="2.8"/><circle cx="1362.7" cy="655.9" r="3.4"/><circle cx="1367.9" cy="503.3" r="3.6"/><circle cx="639.3" cy="566.3" r="3.6"/><circle cx="506.5" cy="480.1" r="3.2"/><circle cx="1286.7" cy="624.3" r="4.0"/><circle cx="667.5" cy="530.2" r="3.2"/><circle cx="1207.4" cy="549.4" r="3.8"/><circle cx="575.4" cy="451.2" r="2.8"/><circle cx="1235.4" cy="530.0" r="4.4"/><circle cx="1235.5" cy="591.9" r="3.8"/><circle cx="569.9" cy="480.4" r="4.4"/><circle cx="673.3" cy="520.4" r="3.0"/><circle cx="373.2" cy="418.2" r="3.4"/><circle cx="573.1" cy="500.3" r="4.4"/><circle cx="624.3" cy="561.7" r="3.2"/><circle cx="1358.3" cy="595.4" r="4.0"/><circle cx="384.8" cy="383.7" r="4.5"/><circle cx="1244.7" cy="563.7" r="3.2"/><circle cx="1355.0" cy="562.8" r="3.6"/><circle cx="640.3" cy="599.8" r="3.6"/><circle cx="545.8" cy="474.2" r="2.8"/><circle cx="1301.7" cy="586.6" r="3.8"/><circle cx="1243.2" cy="555.9" r="4.4"/><circle cx="1282.8" cy="577.3" r="4.4"/><circle cx="1275.3" cy="561.9" r="3.0"/><circle cx="1380.6" cy="528.9" r="3.6"/><circle cx="606.0" cy="508.8" r="4.4"/><circle cx="1293.6" cy="557.1" r="3.6"/><circle cx="1385.1" cy="593.9" r="4.4"/><circle cx="564.9" cy="512.5" r="2.8"/><circle cx="463.5" cy="535.6" r="6.5"/><circle cx="1169.9" cy="483.1" r="5.5"/><circle cx="522.9" cy="473.5" r="3.2"/><circle cx="616.3" cy="521.7" r="3.8"/><circle cx="353.5" cy="387.5" r="6.0"/><circle cx="1181.4" cy="620.1" r="3.4"/><circle cx="407.3" cy="479.6" r="5.5"/><circle cx="597.6" cy="522.1" r="2.8"/><circle cx="1219.6" cy="546.8" r="3.8"/><circle cx="1345.0" cy="560.0" r="3.2"/><circle cx="410.6" cy="475.6" r="3.0"/><circle cx="1410.2" cy="578.4" r="4.4"/><circle cx="1326.6" cy="561.6" r="4.4"/><circle cx="621.2" cy="586.4" r="4.4"/><circle cx="408.9" cy="393.6" r="4.6"/><circle cx="564.0" cy="464.8" r="4.4"/><circle cx="1337.5" cy="572.6" r="2.8"/><circle cx="502.1" cy="499.6" r="3.8"/><circle cx="631.8" cy="595.1" r="4.4"/><circle cx="567.4" cy="435.5" r="3.8"/><circle cx="459.8" cy="539.4" r="5.0"/><circle cx="560.3" cy="583.9" r="3.6"/><circle cx="674.9" cy="540.8" r="3.8"/><circle cx="416.8" cy="453.7" r="5.5"/><circle cx="1381.7" cy="609.6" r="4.0"/><circle cx="1122.1" cy="473.2" r="5.0"/><circle cx="1277.6" cy="593.5" r="3.4"/><circle cx="1438.1" cy="555.1" r="3.8"/><circle cx="1283.4" cy="538.8" r="3.8"/><circle cx="1196.2" cy="532.3" r="4.2"/><circle cx="1256.7" cy="539.2" r="3.0"/><circle cx="605.5" cy="473.4" r="2.8"/><circle cx="534.4" cy="581.9" r="3.6"/><circle cx="1307.1" cy="518.6" r="3.8"/><circle cx="1146.0" cy="521.2" r="3.0"/><circle cx="1253.6" cy="543.7" r="4.4"/><circle cx="1292.7" cy="592.2" r="4.4"/><circle cx="640.3" cy="438.9" r="3.4"/><circle cx="596.3" cy="503.5" r="3.2"/><circle cx="407.3" cy="445.0" r="7.0"/><circle cx="602.6" cy="558.1" r="3.4"/><circle cx="1315.3" cy="593.4" r="4.4"/><circle cx="1165.0" cy="554.3" r="5.5"/><circle cx="1251.5" cy="524.1" r="3.0"/><circle cx="580.8" cy="557.0" r="3.6"/><circle cx="470.5" cy="472.5" r="4.6"/><circle cx="1370.7" cy="625.6" r="3.6"/><circle cx="654.3" cy="470.4" r="3.8"/><circle cx="1327.8" cy="553.7" r="4.4"/><circle cx="594.3" cy="575.3" r="3.6"/><circle cx="1235.9" cy="588.0" r="4.0"/><circle cx="688.8" cy="596.2" r="3.2"/><circle cx="666.3" cy="539.2" r="2.8"/><circle cx="1328.2" cy="580.7" r="4.4"/><circle cx="1260.7" cy="516.1" r="4.0"/><circle cx="1230.5" cy="529.6" r="2.8"/><circle cx="1451.4" cy="592.3" r="4.0"/><circle cx="553.9" cy="500.2" r="3.8"/><circle cx="1385.6" cy="593.0" r="4.0"/><circle cx="1388.3" cy="641.0" r="3.0"/><circle cx="528.7" cy="482.0" r="2.8"/><circle cx="1342.2" cy="568.1" r="2.8"/><circle cx="1272.1" cy="475.3" r="4.4"/><circle cx="600.0" cy="549.0" r="3.4"/><circle cx="672.3" cy="515.1" r="4.0"/><circle cx="611.3" cy="515.7" r="3.6"/><circle cx="1117.3" cy="512.2" r="3.0"/><circle cx="526.7" cy="465.1" r="4.0"/><circle cx="1162.7" cy="502.5" r="3.4"/><circle cx="1338.2" cy="643.6" r="2.8"/><circle cx="610.8" cy="583.1" r="4.0"/><circle cx="1287.6" cy="613.7" r="3.0"/><circle cx="615.7" cy="533.8" r="2.8"/><circle cx="563.2" cy="450.7" r="3.6"/><circle cx="421.5" cy="403.7" r="6.5"/><circle cx="423.8" cy="461.4" r="3.8"/><circle cx="1293.5" cy="556.3" r="3.6"/><circle cx="676.6" cy="446.7" r="4.4"/><circle cx="691.5" cy="557.7" r="2.8"/><circle cx="560.8" cy="489.2" r="3.0"/><circle cx="696.2" cy="527.2" r="2.8"/><circle cx="540.6" cy="447.8" r="3.0"/><circle cx="605.8" cy="579.4" r="3.2"/><circle cx="1219.0" cy="502.4" r="6.5"/><circle cx="592.9" cy="511.8" r="3.0"/><circle cx="502.0" cy="554.4" r="3.0"/><circle cx="1447.7" cy="551.1" r="3.2"/><circle cx="569.9" cy="462.9" r="3.8"/><circle cx="1357.9" cy="641.1" r="4.4"/><circle cx="1419.3" cy="587.3" r="3.8"/><circle cx="1387.6" cy="619.7" r="3.8"/><circle cx="1357.2" cy="643.2" r="3.2"/><circle cx="674.6" cy="538.6" r="2.8"/><circle cx="1279.0" cy="607.9" r="3.0"/><circle cx="588.3" cy="589.2" r="3.6"/><circle cx="462.5" cy="516.4" r="5.5"/><circle cx="549.2" cy="510.9" r="3.2"/><circle cx="1386.1" cy="653.2" r="4.4"/><circle cx="620.9" cy="510.9" r="3.6"/><circle cx="1242.2" cy="489.5" r="3.2"/><circle cx="1262.4" cy="534.1" r="3.2"/><circle cx="1212.7" cy="524.4" r="5.5"/><circle cx="1303.8" cy="502.2" r="4.4"/><circle cx="1269.0" cy="513.6" r="4.4"/><circle cx="1383.4" cy="594.3" r="3.2"/><circle cx="616.6" cy="547.6" r="3.0"/><circle cx="564.5" cy="469.5" r="4.4"/><circle cx="1339.1" cy="554.3" r="3.0"/><circle cx="1369.4" cy="554.1" r="3.2"/><circle cx="1345.5" cy="574.9" r="2.8"/><circle cx="1291.9" cy="591.5" r="3.0"/><circle cx="1424.9" cy="586.2" r="3.4"/><circle cx="1154.2" cy="483.8" r="3.0"/><circle cx="578.5" cy="527.7" r="3.6"/><circle cx="1155.2" cy="495.8" r="4.6"/><circle cx="571.2" cy="573.2" r="3.8"/><circle cx="612.4" cy="525.4" r="2.8"/><circle cx="1374.4" cy="548.8" r="4.4"/><circle cx="1266.9" cy="515.4" r="3.0"/><circle cx="1376.8" cy="598.1" r="3.4"/><circle cx="408.9" cy="412.9" r="3.4"/><circle cx="1259.0" cy="533.8" r="3.6"/><circle cx="1356.0" cy="614.0" r="4.0"/><circle cx="1253.9" cy="642.0" r="3.2"/><circle cx="1197.9" cy="532.3" r="5.0"/><circle cx="1388.7" cy="557.8" r="3.6"/><circle cx="641.9" cy="593.6" r="3.4"/><circle cx="1192.3" cy="550.3" r="3.8"/><circle cx="1358.8" cy="599.6" r="2.8"/><circle cx="698.1" cy="560.1" r="3.6"/><circle cx="1379.5" cy="565.7" r="2.8"/><circle cx="1140.8" cy="563.8" r="4.6"/><circle cx="1206.3" cy="535.3" r="3.8"/><circle cx="656.9" cy="550.3" r="3.6"/><circle cx="1166.3" cy="476.6" r="3.8"/><circle cx="1243.3" cy="641.0" r="3.0"/><circle cx="1263.1" cy="543.4" r="4.4"/><circle cx="515.5" cy="499.6" r="3.6"/><circle cx="626.2" cy="492.5" r="4.4"/><circle cx="582.7" cy="505.0" r="2.8"/><circle cx="1230.4" cy="518.3" r="3.4"/><circle cx="1398.1" cy="456.7" r="4.0"/><circle cx="654.7" cy="543.2" r="3.0"/><circle cx="667.8" cy="513.5" r="3.4"/><circle cx="551.0" cy="545.3" r="4.4"/><circle cx="625.2" cy="538.3" r="3.8"/><circle cx="510.7" cy="494.7" r="3.8"/><circle cx="639.7" cy="494.0" r="3.6"/><circle cx="540.2" cy="429.1" r="3.0"/><circle cx="1212.3" cy="546.9" r="5.0"/><circle cx="560.6" cy="487.3" r="3.0"/><circle cx="1441.3" cy="549.7" r="3.0"/><circle cx="1238.0" cy="500.4" r="5.0"/><circle cx="547.1" cy="435.3" r="3.6"/><circle cx="1367.3" cy="637.2" r="4.0"/><circle cx="1135.2" cy="493.1" r="5.0"/><circle cx="682.0" cy="492.0" r="3.0"/><circle cx="1382.4" cy="607.1" r="3.2"/><circle cx="608.3" cy="495.5" r="3.8"/><circle cx="563.8" cy="527.6" r="3.8"/><circle cx="1371.8" cy="570.5" r="4.4"/><circle cx="1324.9" cy="549.4" r="4.4"/><circle cx="410.5" cy="512.6" r="5.5"/><circle cx="1371.8" cy="505.8" r="3.4"/><circle cx="1287.5" cy="530.8" r="4.0"/><circle cx="599.9" cy="540.9" r="2.8"/><circle cx="672.0" cy="547.8" r="3.4"/><circle cx="1355.2" cy="594.5" r="3.4"/><circle cx="483.3" cy="581.8" r="3.8"/><circle cx="529.9" cy="567.3" r="3.0"/><circle cx="1386.7" cy="572.6" r="4.4"/><circle cx="1275.8" cy="483.7" r="2.8"/><circle cx="1324.2" cy="550.3" r="3.6"/><circle cx="1322.4" cy="518.5" r="3.4"/><circle cx="643.8" cy="521.0" r="4.4"/><circle cx="1389.5" cy="635.1" r="4.4"/><circle cx="595.4" cy="493.8" r="4.4"/><circle cx="523.7" cy="460.3" r="4.0"/><circle cx="1239.0" cy="523.9" r="3.2"/><circle cx="1307.5" cy="635.8" r="3.0"/><circle cx="534.0" cy="488.4" r="3.8"/><circle cx="649.7" cy="573.7" r="3.0"/><circle cx="1224.7" cy="569.8" r="5.0"/><circle cx="514.4" cy="491.5" r="3.0"/><circle cx="1382.9" cy="568.2" r="3.0"/><circle cx="1395.5" cy="656.1" r="3.6"/><circle cx="1251.9" cy="561.4" r="3.2"/><circle cx="598.1" cy="493.0" r="4.0"/><circle cx="649.9" cy="427.6" r="3.6"/><circle cx="600.2" cy="482.0" r="3.6"/><circle cx="1234.1" cy="519.6" r="4.4"/><circle cx="1373.4" cy="596.7" r="4.4"/><circle cx="1384.9" cy="609.8" r="3.6"/><circle cx="478.0" cy="533.9" r="6.5"/><circle cx="323.5" cy="432.5" r="4.5"/><circle cx="1402.8" cy="557.6" r="4.4"/><circle cx="1444.1" cy="618.7" r="3.2"/><circle cx="532.6" cy="464.7" r="2.8"/><circle cx="1263.2" cy="529.5" r="3.6"/><circle cx="371.7" cy="405.0" r="8.0"/><circle cx="637.9" cy="481.5" r="4.4"/><circle cx="1413.0" cy="634.7" r="3.8"/><circle cx="613.1" cy="498.2" r="3.4"/><circle cx="1415.5" cy="648.6" r="3.8"/><circle cx="588.5" cy="452.0" r="4.0"/><circle cx="401.3" cy="451.8" r="3.8"/><circle cx="1288.0" cy="520.7" r="4.0"/><circle cx="530.2" cy="478.5" r="3.0"/><circle cx="546.2" cy="447.1" r="2.8"/><circle cx="627.7" cy="539.3" r="4.0"/><circle cx="626.6" cy="554.5" r="2.8"/><circle cx="431.9" cy="400.7" r="3.0"/><circle cx="567.8" cy="488.9" r="3.2"/><circle cx="456.4" cy="539.0" r="4.6"/><circle cx="624.1" cy="554.1" r="3.4"/><circle cx="1425.6" cy="635.1" r="3.0"/><circle cx="599.4" cy="467.8" r="4.4"/><circle cx="612.3" cy="538.3" r="4.0"/><circle cx="1358.4" cy="593.6" r="4.4"/><circle cx="1427.1" cy="543.4" r="3.4"/><circle cx="645.9" cy="484.1" r="4.0"/><circle cx="1186.6" cy="477.4" r="5.0"/><circle cx="1332.6" cy="617.7" r="3.6"/><circle cx="658.5" cy="566.9" r="2.8"/><circle cx="529.0" cy="451.4" r="3.6"/><circle cx="1376.2" cy="587.5" r="3.0"/><circle cx="1230.0" cy="563.2" r="2.8"/><circle cx="613.2" cy="582.3" r="3.2"/><circle cx="675.5" cy="487.4" r="3.6"/><circle cx="634.3" cy="525.1" r="3.2"/><circle cx="1112.6" cy="595.2" r="3.8"/><circle cx="1281.3" cy="575.8" r="4.4"/><circle cx="541.0" cy="447.0" r="4.0"/><circle cx="1178.7" cy="503.6" r="3.0"/><circle cx="529.7" cy="508.4" r="3.8"/><circle cx="1425.1" cy="572.4" r="3.4"/><circle cx="1356.9" cy="636.1" r="4.4"/><circle cx="1190.4" cy="514.2" r="5.5"/><circle cx="553.5" cy="501.4" r="3.2"/><circle cx="1314.5" cy="515.0" r="4.0"/><circle cx="1383.0" cy="632.3" r="4.0"/><circle cx="1070.0" cy="476.7" r="5.5"/><circle cx="598.7" cy="524.3" r="3.0"/><circle cx="1273.9" cy="496.0" r="2.8"/><circle cx="1264.6" cy="515.0" r="3.2"/><circle cx="540.5" cy="444.3" r="3.6"/><circle cx="1356.3" cy="602.3" r="4.4"/><circle cx="631.6" cy="550.3" r="3.0"/><circle cx="1416.5" cy="620.8" r="3.6"/><circle cx="1354.8" cy="517.6" r="2.8"/><circle cx="512.6" cy="506.3" r="3.4"/><circle cx="1282.7" cy="567.6" r="3.8"/><circle cx="1199.5" cy="525.7" r="4.6"/><circle cx="1407.3" cy="497.0" r="3.0"/><circle cx="1400.3" cy="565.9" r="3.6"/><circle cx="1232.8" cy="533.2" r="4.4"/><circle cx="1273.4" cy="659.9" r="3.4"/><circle cx="561.1" cy="471.6" r="3.4"/><circle cx="1320.7" cy="625.4" r="4.4"/><circle cx="587.1" cy="504.5" r="2.8"/><circle cx="556.0" cy="517.3" r="3.0"/><circle cx="1410.8" cy="513.6" r="4.4"/><circle cx="1300.3" cy="578.0" r="3.6"/><circle cx="1284.9" cy="564.3" r="3.6"/><circle cx="576.9" cy="469.4" r="3.6"/><circle cx="1429.0" cy="557.1" r="2.8"/><circle cx="488.1" cy="488.7" r="4.4"/><circle cx="692.9" cy="592.8" r="3.2"/><circle cx="679.8" cy="502.5" r="3.8"/><circle cx="513.8" cy="445.5" r="3.4"/><circle cx="1352.3" cy="574.9" r="3.6"/><circle cx="603.7" cy="518.5" r="3.6"/><circle cx="588.6" cy="512.2" r="3.2"/><circle cx="607.0" cy="500.9" r="3.4"/><circle cx="1400.0" cy="648.5" r="3.6"/><circle cx="390.3" cy="480.8" r="3.0"/><circle cx="1216.6" cy="625.3" r="4.2"/><circle cx="628.7" cy="561.5" r="3.8"/><circle cx="514.0" cy="457.8" r="3.4"/><circle cx="1179.6" cy="528.3" r="6.5"/><circle cx="1332.2" cy="611.1" r="3.8"/><circle cx="432.6" cy="473.0" r="6.5"/><circle cx="1188.8" cy="435.8" r="4.2"/><circle cx="569.7" cy="486.9" r="4.4"/><circle cx="1371.2" cy="604.0" r="4.0"/><circle cx="526.9" cy="490.8" r="2.8"/><circle cx="552.1" cy="533.9" r="4.0"/><circle cx="1378.8" cy="657.9" r="3.8"/><circle cx="670.7" cy="493.2" r="2.8"/><circle cx="1254.0" cy="484.4" r="3.6"/><circle cx="1299.5" cy="540.1" r="3.6"/><circle cx="1377.7" cy="660.9" r="3.6"/><circle cx="1365.5" cy="617.3" r="3.2"/><circle cx="1229.0" cy="570.1" r="6.5"/><circle cx="602.0" cy="454.8" r="3.0"/><circle cx="657.7" cy="556.1" r="3.0"/><circle cx="530.1" cy="498.3" r="2.8"/><circle cx="1351.4" cy="617.5" r="3.4"/><circle cx="668.8" cy="466.5" r="3.2"/><circle cx="1326.1" cy="526.2" r="3.8"/><circle cx="1368.3" cy="522.6" r="2.8"/><circle cx="495.9" cy="457.2" r="3.0"/><circle cx="673.1" cy="537.6" r="3.4"/><circle cx="1395.6" cy="505.2" r="3.0"/><circle cx="1387.6" cy="628.8" r="4.4"/><circle cx="1155.9" cy="495.2" r="3.8"/><circle cx="670.9" cy="582.3" r="3.0"/><circle cx="644.3" cy="479.1" r="4.0"/><circle cx="491.8" cy="459.2" r="4.6"/><circle cx="527.1" cy="570.7" r="3.8"/><circle cx="709.5" cy="553.9" r="3.0"/><circle cx="1400.2" cy="586.1" r="3.0"/><circle cx="1332.8" cy="556.1" r="3.4"/><circle cx="1394.8" cy="652.0" r="3.0"/><circle cx="1066.9" cy="485.3" r="5.0"/><circle cx="1129.2" cy="480.3" r="3.8"/><circle cx="393.3" cy="485.4" r="5.5"/><circle cx="544.0" cy="435.4" r="4.4"/><circle cx="1356.2" cy="620.8" r="3.8"/><circle cx="1284.3" cy="616.0" r="2.8"/><circle cx="517.8" cy="469.5" r="2.8"/><circle cx="1316.8" cy="596.4" r="3.0"/><circle cx="657.0" cy="516.6" r="2.8"/><circle cx="718.0" cy="584.9" r="4.0"/><circle cx="543.6" cy="471.7" r="3.4"/><circle cx="666.2" cy="543.7" r="3.6"/><circle cx="497.2" cy="489.1" r="3.6"/><circle cx="614.2" cy="519.6" r="3.2"/><circle cx="371.2" cy="454.9" r="4.2"/><circle cx="574.0" cy="451.9" r="3.0"/><circle cx="596.8" cy="423.0" r="3.8"/><circle cx="361.1" cy="393.8" r="5.0"/><circle cx="617.8" cy="502.8" r="3.8"/><circle cx="536.3" cy="508.7" r="3.0"/><circle cx="586.3" cy="519.8" r="3.6"/><circle cx="595.9" cy="505.4" r="3.6"/><circle cx="1215.3" cy="524.3" r="3.8"/><circle cx="1383.2" cy="526.2" r="4.4"/><circle cx="655.9" cy="489.7" r="3.8"/><circle cx="588.9" cy="565.9" r="3.8"/><circle cx="1311.6" cy="538.5" r="3.8"/><circle cx="617.5" cy="600.9" r="4.4"/><circle cx="491.6" cy="521.1" r="3.6"/><circle cx="566.1" cy="514.1" r="3.4"/><circle cx="1437.7" cy="528.9" r="3.8"/><circle cx="1377.1" cy="576.7" r="4.4"/><circle cx="1420.7" cy="641.5" r="3.4"/><circle cx="1316.2" cy="585.8" r="3.0"/><circle cx="1205.9" cy="550.3" r="3.4"/><circle cx="581.6" cy="444.4" r="4.4"/><circle cx="523.7" cy="482.5" r="3.0"/><circle cx="1211.5" cy="501.7" r="4.0"/><circle cx="561.6" cy="533.2" r="3.0"/><circle cx="404.0" cy="466.3" r="3.8"/><circle cx="636.3" cy="456.6" r="3.0"/><circle cx="1328.3" cy="598.3" r="3.4"/><circle cx="1302.4" cy="574.7" r="4.4"/><circle cx="596.4" cy="469.5" r="3.0"/><circle cx="1311.7" cy="594.7" r="4.4"/><circle cx="1285.4" cy="562.3" r="3.4"/><circle cx="399.0" cy="438.8" r="3.0"/><circle cx="1260.3" cy="573.3" r="3.6"/><circle cx="1440.8" cy="618.6" r="4.4"/><circle cx="723.0" cy="525.7" r="4.4"/><circle cx="1199.9" cy="500.1" r="3.8"/><circle cx="1333.0" cy="584.6" r="3.8"/><circle cx="1337.7" cy="619.3" r="2.8"/><circle cx="1270.8" cy="515.7" r="3.8"/><circle cx="635.7" cy="591.2" r="4.4"/><circle cx="480.7" cy="539.8" r="5.5"/><circle cx="1297.1" cy="505.8" r="4.4"/><circle cx="690.7" cy="473.8" r="4.4"/><circle cx="1405.6" cy="630.5" r="4.0"/><circle cx="1226.6" cy="581.9" r="4.0"/><circle cx="704.1" cy="516.3" r="4.4"/><circle cx="603.8" cy="511.9" r="3.2"/><circle cx="599.4" cy="449.9" r="3.8"/><circle cx="582.8" cy="542.4" r="3.8"/><circle cx="1157.3" cy="527.4" r="4.6"/><circle cx="405.9" cy="421.7" r="3.8"/><circle cx="1336.7" cy="556.4" r="2.8"/><circle cx="524.6" cy="504.6" r="3.2"/><circle cx="1345.3" cy="620.7" r="3.8"/><circle cx="1330.3" cy="601.3" r="4.4"/><circle cx="1360.0" cy="527.9" r="4.0"/><circle cx="1273.8" cy="636.7" r="3.8"/><circle cx="1396.4" cy="636.0" r="3.2"/><circle cx="1196.7" cy="533.7" r="5.5"/><circle cx="596.4" cy="619.0" r="3.4"/><circle cx="1276.6" cy="552.4" r="4.4"/><circle cx="1372.8" cy="629.6" r="3.6"/><circle cx="497.4" cy="457.6" r="3.2"/><circle cx="638.1" cy="555.3" r="3.0"/><circle cx="615.7" cy="512.2" r="3.8"/><circle cx="1318.2" cy="594.7" r="3.2"/><circle cx="1407.6" cy="564.4" r="3.0"/><circle cx="1329.8" cy="580.7" r="3.0"/><circle cx="593.8" cy="517.4" r="3.0"/><circle cx="1240.8" cy="533.6" r="3.2"/><circle cx="1388.3" cy="567.9" r="2.8"/><circle cx="663.0" cy="521.3" r="3.8"/><circle cx="1388.4" cy="516.1" r="3.2"/><circle cx="1396.9" cy="613.8" r="4.0"/><circle cx="1358.7" cy="573.4" r="3.4"/><circle cx="587.2" cy="574.7" r="2.8"/><circle cx="415.6" cy="444.5" r="4.6"/><circle cx="1183.4" cy="463.2" r="4.6"/><circle cx="467.8" cy="466.8" r="5.0"/><circle cx="581.6" cy="498.0" r="2.8"/><circle cx="1184.2" cy="451.3" r="6.5"/><circle cx="537.8" cy="456.3" r="3.0"/><circle cx="477.2" cy="470.3" r="4.6"/><circle cx="1231.1" cy="540.2" r="4.4"/><circle cx="654.7" cy="460.0" r="4.0"/><circle cx="519.6" cy="483.4" r="3.0"/><circle cx="599.7" cy="464.9" r="3.6"/><circle cx="669.2" cy="535.5" r="3.6"/><circle cx="1392.5" cy="606.9" r="3.8"/><circle cx="1352.4" cy="565.7" r="3.0"/><circle cx="1429.7" cy="613.5" r="3.8"/><circle cx="1253.0" cy="624.0" r="3.2"/><circle cx="585.4" cy="518.9" r="3.8"/><circle cx="719.8" cy="479.2" r="3.0"/><circle cx="1458.1" cy="566.4" r="3.8"/><circle cx="1261.8" cy="564.6" r="2.8"/><circle cx="1319.3" cy="556.8" r="2.8"/><circle cx="639.5" cy="552.2" r="3.8"/><circle cx="1413.7" cy="601.9" r="3.0"/><circle cx="633.5" cy="486.5" r="3.0"/><circle cx="1367.9" cy="637.2" r="3.0"/><circle cx="582.1" cy="470.4" r="3.2"/><circle cx="671.5" cy="576.4" r="3.4"/><circle cx="339.9" cy="459.8" r="8.0"/><circle cx="492.2" cy="486.5" r="4.4"/><circle cx="1384.1" cy="563.0" r="4.0"/><circle cx="373.6" cy="451.2" r="4.6"/><circle cx="512.0" cy="481.6" r="4.4"/><circle cx="510.8" cy="444.5" r="3.8"/><circle cx="1308.5" cy="507.2" r="3.4"/><circle cx="648.2" cy="444.2" r="3.4"/><circle cx="1344.1" cy="649.2" r="3.2"/><circle cx="563.2" cy="451.5" r="4.4"/><circle cx="475.1" cy="488.0" r="3.8"/><circle cx="1207.9" cy="542.1" r="4.2"/><circle cx="1240.6" cy="534.0" r="4.0"/><circle cx="1253.4" cy="573.0" r="2.8"/><circle cx="1125.5" cy="465.7" r="3.5"/><circle cx="1200.8" cy="551.9" r="6.5"/><circle cx="1351.3" cy="639.9" r="3.4"/><circle cx="611.4" cy="556.4" r="3.4"/><circle cx="1285.5" cy="624.8" r="3.0"/><circle cx="383.4" cy="447.1" r="4.2"/><circle cx="1175.2" cy="524.3" r="3.8"/><circle cx="1235.9" cy="547.2" r="3.2"/><circle cx="444.4" cy="447.6" r="6.5"/><circle cx="541.5" cy="541.9" r="2.8"/><circle cx="619.0" cy="561.7" r="4.0"/><circle cx="1348.2" cy="542.4" r="3.8"/><circle cx="1262.5" cy="576.3" r="2.8"/><circle cx="1410.2" cy="613.8" r="3.0"/><circle cx="366.6" cy="459.6" r="5.5"/><circle cx="627.0" cy="545.2" r="4.0"/><circle cx="1347.9" cy="619.3" r="3.4"/><circle cx="542.1" cy="517.1" r="3.8"/><circle cx="1199.8" cy="538.4" r="3.0"/><circle cx="1385.9" cy="575.7" r="3.8"/><circle cx="568.2" cy="556.6" r="3.4"/><circle cx="652.5" cy="582.2" r="4.0"/><circle cx="1191.7" cy="492.1" r="3.0"/><circle cx="630.7" cy="510.0" r="4.4"/><circle cx="376.5" cy="485.0" r="3.8"/><circle cx="501.7" cy="593.9" r="2.8"/><circle cx="1239.9" cy="514.0" r="3.4"/><circle cx="1383.0" cy="596.1" r="4.4"/><circle cx="1396.5" cy="594.4" r="4.4"/><circle cx="1214.8" cy="564.1" r="5.0"/><circle cx="1379.5" cy="657.4" r="3.2"/><circle cx="617.9" cy="521.2" r="3.8"/><circle cx="1403.9" cy="402.2" r="3.0"/><circle cx="426.1" cy="477.2" r="4.2"/><circle cx="1260.3" cy="539.7" r="3.4"/><circle cx="480.5" cy="481.2" r="3.0"/><circle cx="1315.1" cy="492.8" r="3.2"/><circle cx="614.9" cy="496.8" r="2.8"/><circle cx="1190.3" cy="498.4" r="5.0"/><circle cx="641.3" cy="559.0" r="4.4"/><circle cx="513.2" cy="527.7" r="3.2"/><circle cx="1329.2" cy="596.6" r="2.8"/><circle cx="1383.8" cy="649.8" r="3.4"/><circle cx="1189.9" cy="520.9" r="4.6"/><circle cx="397.1" cy="420.4" r="3.0"/><circle cx="662.3" cy="516.1" r="3.4"/><circle cx="1193.0" cy="475.0" r="5.5"/><circle cx="1310.7" cy="620.8" r="4.4"/><circle cx="677.0" cy="518.7" r="4.0"/><circle cx="546.1" cy="491.8" r="3.2"/><circle cx="1240.8" cy="565.4" r="3.0"/><circle cx="1393.3" cy="671.9" r="3.6"/><circle cx="564.6" cy="500.4" r="3.2"/><circle cx="1224.2" cy="486.7" r="3.8"/><circle cx="1314.3" cy="589.3" r="3.2"/><circle cx="576.1" cy="539.9" r="3.0"/><circle cx="538.9" cy="568.7" r="4.4"/><circle cx="1407.5" cy="526.1" r="4.4"/><circle cx="1310.4" cy="566.5" r="2.8"/><circle cx="580.8" cy="512.1" r="3.8"/><circle cx="364.5" cy="462.9" r="4.0"/><circle cx="574.2" cy="467.4" r="3.4"/><circle cx="1340.6" cy="555.0" r="3.2"/><circle cx="1211.7" cy="531.6" r="3.8"/><circle cx="1243.9" cy="500.3" r="2.8"/><circle cx="629.8" cy="492.6" r="3.0"/><circle cx="632.2" cy="436.2" r="2.8"/><circle cx="1284.2" cy="514.3" r="3.8"/><circle cx="1387.1" cy="630.6" r="4.4"/><circle cx="432.6" cy="485.6" r="5.0"/><circle cx="1216.8" cy="615.5" r="3.4"/><circle cx="670.3" cy="580.8" r="2.8"/><circle cx="605.3" cy="440.2" r="2.8"/><circle cx="595.8" cy="504.8" r="4.4"/><circle cx="546.2" cy="562.8" r="3.8"/><circle cx="616.1" cy="520.5" r="3.6"/><circle cx="1253.7" cy="558.1" r="3.2"/><circle cx="1339.5" cy="583.7" r="2.8"/><circle cx="1410.5" cy="651.3" r="3.6"/><circle cx="583.1" cy="528.0" r="3.2"/><circle cx="477.1" cy="450.5" r="5.0"/><circle cx="1366.4" cy="544.4" r="3.6"/><circle cx="594.4" cy="494.3" r="3.8"/><circle cx="592.6" cy="461.8" r="3.6"/><circle cx="1312.0" cy="588.2" r="4.4"/><circle cx="668.5" cy="486.5" r="3.8"/><circle cx="539.0" cy="487.3" r="3.4"/><circle cx="594.7" cy="509.5" r="3.8"/><circle cx="1295.9" cy="593.1" r="4.4"/><circle cx="1116.3" cy="627.6" r="4.6"/><circle cx="1346.2" cy="550.9" r="3.0"/><circle cx="1371.9" cy="611.4" r="4.4"/><circle cx="1390.7" cy="589.0" r="3.6"/><circle cx="1392.0" cy="648.8" r="4.0"/><circle cx="1270.7" cy="598.5" r="4.4"/><circle cx="464.7" cy="490.6" r="3.8"/><circle cx="1388.7" cy="608.6" r="2.8"/><circle cx="610.2" cy="513.4" r="2.8"/><circle cx="1280.8" cy="559.9" r="3.2"/><circle cx="554.2" cy="545.9" r="3.0"/><circle cx="588.9" cy="507.7" r="2.8"/><circle cx="670.7" cy="604.6" r="4.4"/><circle cx="1152.8" cy="480.8" r="4.2"/><circle cx="1155.6" cy="493.9" r="5.0"/><circle cx="522.1" cy="475.6" r="4.4"/><circle cx="1381.4" cy="619.3" r="3.0"/><circle cx="1388.3" cy="573.7" r="3.0"/><circle cx="537.7" cy="495.5" r="3.6"/><circle cx="1315.2" cy="558.9" r="4.0"/><circle cx="640.6" cy="564.3" r="3.2"/><circle cx="1384.3" cy="618.2" r="4.4"/><circle cx="633.8" cy="566.0" r="4.4"/><circle cx="704.5" cy="515.4" r="3.0"/><circle cx="499.6" cy="528.5" r="3.0"/><circle cx="454.8" cy="488.7" r="3.0"/><circle cx="1389.5" cy="642.6" r="3.8"/><circle cx="594.1" cy="464.1" r="3.6"/><circle cx="1234.8" cy="499.7" r="4.0"/><circle cx="535.7" cy="508.0" r="3.8"/><circle cx="1323.3" cy="581.8" r="3.8"/><circle cx="437.6" cy="457.9" r="3.8"/><circle cx="580.0" cy="556.8" r="2.8"/><circle cx="1312.1" cy="543.4" r="4.0"/><circle cx="1405.7" cy="639.6" r="3.6"/><circle cx="450.1" cy="440.4" r="4.6"/><circle cx="1285.3" cy="518.9" r="2.8"/><circle cx="604.1" cy="560.8" r="4.0"/><circle cx="515.0" cy="501.7" r="3.8"/><circle cx="1304.3" cy="632.7" r="2.8"/><circle cx="606.5" cy="580.2" r="3.2"/><circle cx="1257.8" cy="509.1" r="2.8"/><circle cx="610.9" cy="535.6" r="3.6"/><circle cx="599.0" cy="496.5" r="4.4"/><circle cx="1213.6" cy="534.4" r="4.4"/><circle cx="1319.6" cy="562.1" r="3.8"/><circle cx="541.2" cy="562.7" r="3.0"/><circle cx="572.2" cy="607.8" r="3.0"/><circle cx="1252.6" cy="559.5" r="4.0"/><circle cx="466.4" cy="471.1" r="2.8"/><circle cx="1185.0" cy="507.1" r="5.0"/><circle cx="400.9" cy="470.9" r="4.6"/><circle cx="1323.8" cy="540.8" r="4.4"/><circle cx="656.9" cy="613.0" r="3.8"/><circle cx="538.8" cy="486.8" r="3.0"/><circle cx="1287.9" cy="551.3" r="3.4"/><circle cx="1227.7" cy="566.1" r="3.4"/><circle cx="1246.4" cy="580.0" r="3.8"/><circle cx="592.2" cy="478.8" r="2.8"/><circle cx="601.7" cy="453.5" r="4.0"/><circle cx="1348.3" cy="617.6" r="4.0"/><circle cx="1224.2" cy="544.8" r="3.4"/><circle cx="623.4" cy="469.2" r="2.8"/><circle cx="586.0" cy="512.2" r="4.4"/><circle cx="1371.3" cy="607.7" r="4.0"/><circle cx="613.8" cy="563.2" r="3.2"/><circle cx="541.3" cy="473.0" r="4.4"/><circle cx="634.0" cy="464.9" r="3.6"/><circle cx="551.0" cy="452.1" r="3.0"/><circle cx="516.2" cy="562.1" r="2.8"/><circle cx="1408.0" cy="577.1" r="3.2"/><circle cx="687.1" cy="489.1" r="3.0"/><circle cx="423.1" cy="413.9" r="6.5"/><circle cx="421.2" cy="400.6" r="3.0"/><circle cx="667.1" cy="518.4" r="3.2"/><circle cx="1434.1" cy="594.7" r="4.4"/><circle cx="372.6" cy="391.5" r="7.0"/><circle cx="1209.6" cy="573.3" r="5.5"/><circle cx="1316.6" cy="515.0" r="4.0"/><circle cx="602.5" cy="583.0" r="3.4"/><circle cx="520.0" cy="470.0" r="3.8"/><circle cx="517.0" cy="586.2" r="4.0"/><circle cx="1317.7" cy="598.2" r="2.8"/><circle cx="1421.4" cy="521.8" r="4.0"/><circle cx="654.7" cy="480.2" r="2.8"/><circle cx="588.9" cy="533.1" r="3.2"/><circle cx="1268.2" cy="483.1" r="4.4"/><circle cx="1299.6" cy="578.5" r="4.4"/><circle cx="607.3" cy="534.3" r="2.8"/><circle cx="467.1" cy="455.5" r="3.4"/><circle cx="1201.2" cy="587.3" r="5.5"/><circle cx="508.2" cy="587.5" r="4.4"/><circle cx="587.7" cy="550.0" r="4.4"/><circle cx="1239.8" cy="594.3" r="6.5"/><circle cx="1326.0" cy="598.2" r="3.4"/><circle cx="1422.4" cy="586.1" r="3.2"/><circle cx="660.0" cy="531.2" r="3.4"/><circle cx="537.8" cy="453.6" r="2.8"/><circle cx="631.1" cy="543.0" r="4.0"/><circle cx="679.2" cy="498.8" r="3.0"/><circle cx="644.2" cy="566.4" r="4.0"/><circle cx="1364.3" cy="626.9" r="3.6"/><circle cx="659.9" cy="518.7" r="4.4"/><circle cx="501.0" cy="492.0" r="4.0"/><circle cx="486.5" cy="476.6" r="4.2"/><circle cx="1413.6" cy="543.5" r="4.4"/><circle cx="594.1" cy="558.8" r="4.0"/><circle cx="592.4" cy="491.7" r="4.4"/><circle cx="420.1" cy="411.9" r="5.5"/><circle cx="1278.0" cy="625.3" r="3.2"/><circle cx="1336.6" cy="549.8" r="3.4"/><circle cx="1351.1" cy="544.5" r="3.8"/><circle cx="608.6" cy="524.3" r="3.0"/><circle cx="1352.5" cy="610.9" r="3.4"/><circle cx="583.0" cy="528.2" r="3.2"/><circle cx="1238.3" cy="493.6" r="2.8"/><circle cx="1391.5" cy="572.1" r="2.8"/><circle cx="510.0" cy="557.2" r="3.6"/><circle cx="1326.6" cy="524.2" r="4.0"/><circle cx="642.3" cy="554.8" r="3.0"/><circle cx="1318.4" cy="526.3" r="3.6"/><circle cx="1410.4" cy="597.9" r="3.6"/><circle cx="601.5" cy="469.0" r="3.2"/><circle cx="1174.3" cy="534.1" r="5.0"/><circle cx="626.4" cy="449.6" r="4.4"/><circle cx="1391.7" cy="492.8" r="3.4"/><circle cx="1345.8" cy="547.2" r="3.6"/><circle cx="1196.2" cy="647.4" r="3.0"/><circle cx="529.2" cy="422.1" r="3.0"/><circle cx="1266.3" cy="556.0" r="2.8"/><circle cx="1157.0" cy="469.3" r="6.5"/><circle cx="1232.6" cy="531.4" r="4.0"/><circle cx="660.2" cy="476.7" r="3.4"/><circle cx="639.4" cy="423.0" r="4.0"/><circle cx="597.7" cy="607.0" r="4.0"/><circle cx="1201.1" cy="469.9" r="4.2"/><circle cx="1295.1" cy="495.2" r="2.8"/><circle cx="519.9" cy="483.8" r="4.4"/><circle cx="498.9" cy="468.1" r="4.4"/><circle cx="1289.0" cy="530.1" r="3.4"/><circle cx="605.3" cy="573.1" r="3.8"/><circle cx="1435.3" cy="612.7" r="3.8"/><circle cx="1395.3" cy="546.8" r="3.4"/><circle cx="1396.7" cy="612.7" r="2.8"/><circle cx="501.7" cy="490.6" r="4.4"/><circle cx="1376.6" cy="534.6" r="4.0"/><circle cx="1372.2" cy="611.5" r="3.8"/><circle cx="1145.3" cy="475.8" r="5.5"/><circle cx="508.2" cy="426.2" r="3.4"/><circle cx="1422.3" cy="566.8" r="3.8"/><circle cx="1371.3" cy="583.8" r="3.4"/><circle cx="1359.4" cy="576.2" r="3.6"/><circle cx="396.7" cy="484.1" r="5.0"/><circle cx="531.7" cy="480.3" r="3.8"/><circle cx="669.5" cy="588.8" r="2.8"/><circle cx="614.6" cy="595.7" r="3.2"/><circle cx="1347.4" cy="610.7" r="4.0"/><circle cx="1205.0" cy="560.6" r="3.0"/><circle cx="1371.7" cy="653.8" r="2.8"/><circle cx="1138.7" cy="505.0" r="6.5"/><circle cx="607.6" cy="542.8" r="3.0"/><circle cx="409.1" cy="475.7" r="6.5"/><circle cx="658.4" cy="523.0" r="3.0"/><circle cx="571.3" cy="436.8" r="3.6"/><circle cx="1334.9" cy="576.4" r="3.0"/><circle cx="1342.2" cy="481.6" r="3.4"/><circle cx="475.3" cy="600.5" r="5.0"/><circle cx="703.7" cy="544.2" r="3.8"/><circle cx="437.3" cy="388.3" r="3.8"/><circle cx="632.1" cy="583.2" r="3.8"/><circle cx="1384.4" cy="515.3" r="3.8"/><circle cx="1387.2" cy="614.0" r="3.2"/><circle cx="1248.6" cy="540.0" r="2.8"/><circle cx="433.6" cy="439.5" r="4.2"/><circle cx="1283.9" cy="587.7" r="2.8"/><circle cx="1392.0" cy="558.7" r="2.8"/><circle cx="354.8" cy="407.8" r="4.0"/><circle cx="598.8" cy="517.6" r="3.0"/><circle cx="1264.4" cy="585.1" r="4.0"/><circle cx="595.1" cy="588.8" r="3.8"/><circle cx="1276.8" cy="516.1" r="3.6"/><circle cx="1349.4" cy="601.2" r="3.4"/><circle cx="708.4" cy="575.9" r="3.4"/><circle cx="1257.0" cy="592.7" r="3.4"/><circle cx="1235.4" cy="546.2" r="3.8"/><circle cx="551.6" cy="572.3" r="3.2"/><circle cx="1194.5" cy="490.9" r="4.2"/><circle cx="1400.9" cy="562.8" r="3.8"/><circle cx="425.0" cy="507.7" r="5.5"/><circle cx="1393.1" cy="640.4" r="4.4"/><circle cx="523.5" cy="453.9" r="3.8"/><circle cx="498.6" cy="494.6" r="4.0"/><circle cx="1341.7" cy="541.4" r="3.6"/><circle cx="619.3" cy="539.6" r="3.2"/><circle cx="562.8" cy="472.3" r="3.0"/><circle cx="545.1" cy="570.0" r="4.0"/><circle cx="696.7" cy="544.0" r="4.0"/><circle cx="623.2" cy="431.9" r="3.2"/><circle cx="1347.3" cy="556.7" r="2.8"/><circle cx="653.2" cy="570.2" r="3.6"/><circle cx="640.4" cy="559.5" r="3.0"/><circle cx="633.0" cy="458.4" r="2.8"/><circle cx="505.5" cy="497.2" r="4.0"/><circle cx="1234.7" cy="516.0" r="4.6"/><circle cx="446.6" cy="433.6" r="3.8"/><circle cx="1226.6" cy="497.5" r="3.6"/><circle cx="375.2" cy="425.7" r="6.0"/><circle cx="593.5" cy="556.3" r="4.0"/><circle cx="637.5" cy="490.3" r="4.0"/><circle cx="1084.7" cy="545.8" r="5.5"/><circle cx="647.2" cy="515.0" r="3.4"/><circle cx="585.5" cy="555.1" r="3.8"/><circle cx="1280.2" cy="545.7" r="2.8"/><circle cx="1201.0" cy="533.1" r="5.0"/><circle cx="1270.6" cy="538.2" r="3.2"/><circle cx="603.6" cy="541.5" r="4.0"/><circle cx="692.0" cy="513.4" r="3.8"/><circle cx="1339.0" cy="539.1" r="3.2"/><circle cx="588.3" cy="443.6" r="3.8"/><circle cx="575.3" cy="482.1" r="3.8"/><circle cx="1414.8" cy="616.0" r="2.8"/><circle cx="1408.8" cy="573.5" r="3.6"/><circle cx="1366.2" cy="528.1" r="2.8"/><circle cx="1357.5" cy="561.2" r="4.4"/><circle cx="1305.3" cy="558.1" r="3.8"/><circle cx="1277.3" cy="570.5" r="4.4"/><circle cx="586.9" cy="552.9" r="2.8"/><circle cx="1181.8" cy="508.5" r="5.5"/><circle cx="555.8" cy="487.1" r="3.4"/><circle cx="1368.6" cy="545.7" r="3.4"/><circle cx="572.9" cy="487.7" r="3.8"/><circle cx="1403.0" cy="544.8" r="3.0"/><circle cx="491.7" cy="527.3" r="4.4"/><circle cx="1279.7" cy="540.2" r="3.8"/><circle cx="1368.9" cy="625.8" r="2.8"/><circle cx="458.7" cy="449.6" r="4.6"/><circle cx="1250.3" cy="590.4" r="3.6"/><circle cx="682.1" cy="474.8" r="2.8"/><circle cx="1393.2" cy="610.6" r="3.8"/><circle cx="608.4" cy="541.9" r="3.0"/><circle cx="1277.0" cy="548.5" r="4.0"/><circle cx="1416.9" cy="613.6" r="4.0"/><circle cx="496.0" cy="445.2" r="3.8"/><circle cx="1429.9" cy="577.1" r="3.4"/><circle cx="665.0" cy="481.5" r="3.8"/><circle cx="1433.1" cy="590.8" r="3.6"/><circle cx="1372.3" cy="558.3" r="3.2"/><circle cx="597.8" cy="531.2" r="3.2"/><circle cx="1303.4" cy="497.2" r="2.8"/><circle cx="1412.6" cy="650.8" r="4.4"/><circle cx="439.6" cy="423.3" r="4.2"/><circle cx="1148.2" cy="515.3" r="3.8"/><circle cx="545.0" cy="475.5" r="2.8"/><circle cx="528.0" cy="496.2" r="4.0"/><circle cx="558.0" cy="469.2" r="4.0"/><circle cx="624.4" cy="564.3" r="2.8"/><circle cx="680.5" cy="449.6" r="3.4"/><circle cx="439.5" cy="381.9" r="4.6"/><circle cx="590.0" cy="544.3" r="4.4"/><circle cx="502.3" cy="509.8" r="3.4"/><circle cx="1382.3" cy="566.2" r="4.4"/><circle cx="484.7" cy="485.9" r="4.4"/><circle cx="574.5" cy="445.4" r="3.2"/><circle cx="1349.3" cy="615.0" r="3.4"/><circle cx="1427.0" cy="584.4" r="4.0"/><circle cx="590.2" cy="494.1" r="3.6"/><circle cx="1348.2" cy="557.3" r="3.2"/><circle cx="1329.0" cy="560.1" r="3.8"/><circle cx="1318.5" cy="554.3" r="3.8"/><circle cx="1285.3" cy="544.7" r="3.2"/><circle cx="1364.1" cy="564.2" r="4.0"/><circle cx="581.9" cy="491.2" r="4.4"/><circle cx="535.5" cy="440.5" r="3.0"/><circle cx="561.8" cy="451.1" r="3.4"/><circle cx="1354.6" cy="624.6" r="4.4"/><circle cx="389.8" cy="520.2" r="3.5"/><circle cx="608.7" cy="432.9" r="3.8"/><circle cx="1274.1" cy="630.3" r="4.0"/><circle cx="614.5" cy="414.0" r="3.4"/><circle cx="1136.6" cy="507.5" r="5.0"/><circle cx="1252.7" cy="491.3" r="3.4"/><circle cx="679.4" cy="508.2" r="4.4"/><circle cx="1170.0" cy="531.8" r="5.5"/><circle cx="367.5" cy="369.0" r="4.0"/><circle cx="538.3" cy="484.0" r="3.8"/><circle cx="670.8" cy="493.1" r="3.8"/><circle cx="619.4" cy="490.8" r="3.4"/><circle cx="1288.1" cy="531.8" r="3.0"/><circle cx="633.5" cy="512.6" r="3.0"/><circle cx="668.3" cy="533.1" r="3.0"/><circle cx="515.6" cy="457.1" r="2.8"/><circle cx="664.1" cy="501.9" r="2.8"/><circle cx="1338.8" cy="575.6" r="4.0"/><circle cx="641.2" cy="531.5" r="3.8"/><circle cx="1390.3" cy="449.3" r="3.4"/><circle cx="1464.5" cy="603.1" r="3.8"/><circle cx="606.3" cy="474.8" r="3.8"/><circle cx="1272.8" cy="568.2" r="3.0"/><circle cx="629.5" cy="577.6" r="2.8"/><circle cx="1407.0" cy="578.0" r="3.8"/><circle cx="585.8" cy="644.0" r="3.8"/><circle cx="588.1" cy="424.8" r="4.0"/><circle cx="1320.2" cy="604.0" r="3.8"/><circle cx="1416.5" cy="623.0" r="4.4"/><circle cx="589.4" cy="579.9" r="2.8"/><circle cx="507.3" cy="486.2" r="4.4"/><circle cx="675.5" cy="583.6" r="2.8"/><circle cx="555.3" cy="460.0" r="4.0"/><circle cx="401.2" cy="408.8" r="4.2"/><circle cx="1433.5" cy="550.8" r="3.0"/><circle cx="1233.8" cy="578.3" r="3.0"/><circle cx="603.5" cy="496.0" r="3.0"/><circle cx="509.4" cy="424.1" r="3.0"/><circle cx="1336.3" cy="575.8" r="3.4"/><circle cx="1148.1" cy="522.0" r="4.2"/><circle cx="632.1" cy="535.6" r="3.2"/><circle cx="595.0" cy="504.5" r="3.0"/><circle cx="602.5" cy="589.7" r="4.0"/><circle cx="1297.3" cy="548.0" r="3.2"/><circle cx="542.7" cy="491.2" r="2.8"/><circle cx="569.5" cy="483.7" r="4.4"/><circle cx="1233.3" cy="568.9" r="4.0"/><circle cx="1234.0" cy="592.7" r="4.0"/><circle cx="494.3" cy="477.9" r="3.0"/><circle cx="1329.1" cy="587.1" r="4.0"/><circle cx="515.2" cy="551.6" r="3.0"/><circle cx="432.9" cy="423.8" r="5.5"/><circle cx="1242.6" cy="557.3" r="3.8"/><circle cx="536.6" cy="495.7" r="3.8"/><circle cx="556.5" cy="477.9" r="2.8"/><circle cx="497.4" cy="448.9" r="3.4"/><circle cx="1407.8" cy="531.5" r="3.0"/><circle cx="1295.1" cy="566.7" r="3.0"/><circle cx="1455.5" cy="557.7" r="3.6"/><circle cx="1396.7" cy="572.0" r="3.0"/><circle cx="595.6" cy="445.6" r="4.4"/><circle cx="556.2" cy="457.5" r="2.8"/><circle cx="1363.0" cy="592.1" r="2.8"/><circle cx="584.0" cy="493.5" r="3.0"/><circle cx="653.2" cy="512.9" r="3.8"/><circle cx="716.0" cy="470.5" r="2.8"/><circle cx="1370.3" cy="539.4" r="3.8"/><circle cx="609.9" cy="535.8" r="3.6"/><circle cx="1190.9" cy="532.0" r="4.2"/><circle cx="540.4" cy="532.2" r="3.6"/><circle cx="392.6" cy="402.9" r="7.0"/><circle cx="1276.3" cy="500.2" r="3.2"/><circle cx="1292.8" cy="602.7" r="4.4"/><circle cx="1267.2" cy="484.5" r="3.8"/><circle cx="1301.8" cy="503.0" r="2.8"/><circle cx="1186.1" cy="474.6" r="3.4"/><circle cx="1231.8" cy="543.8" r="3.2"/><circle cx="1253.8" cy="522.8" r="3.0"/><circle cx="1337.4" cy="582.9" r="3.6"/><circle cx="582.3" cy="522.5" r="3.2"/><circle cx="449.9" cy="403.4" r="3.0"/><circle cx="509.0" cy="467.2" r="2.8"/><circle cx="577.6" cy="505.7" r="4.4"/><circle cx="529.6" cy="426.9" r="3.2"/><circle cx="1312.7" cy="506.8" r="3.8"/><circle cx="473.0" cy="500.2" r="4.2"/><circle cx="1398.3" cy="502.5" r="3.8"/><circle cx="1214.9" cy="575.0" r="5.0"/><circle cx="518.5" cy="524.3" r="3.4"/><circle cx="390.8" cy="388.9" r="4.0"/><circle cx="1340.2" cy="636.1" r="3.8"/><circle cx="1260.9" cy="550.8" r="3.2"/><circle cx="1144.1" cy="500.1" r="3.8"/><circle cx="1354.5" cy="609.4" r="3.6"/><circle cx="692.2" cy="554.5" r="2.8"/><circle cx="1271.3" cy="520.5" r="4.0"/><circle cx="1368.5" cy="592.3" r="3.0"/><circle cx="566.2" cy="592.2" r="4.4"/><circle cx="1185.6" cy="457.7" r="3.8"/><circle cx="493.5" cy="461.4" r="3.0"/><circle cx="556.0" cy="517.7" r="4.4"/><circle cx="1343.1" cy="545.2" r="3.6"/><circle cx="641.8" cy="477.6" r="4.4"/><circle cx="440.3" cy="463.5" r="3.4"/><circle cx="1407.1" cy="518.0" r="3.0"/><circle cx="466.9" cy="535.7" r="3.0"/><circle cx="1368.8" cy="572.4" r="3.2"/><circle cx="1392.8" cy="602.9" r="3.4"/><circle cx="661.5" cy="528.5" r="3.2"/><circle cx="1380.8" cy="668.7" r="3.8"/><circle cx="613.3" cy="457.9" r="3.2"/><circle cx="613.8" cy="477.5" r="4.4"/><circle cx="1262.5" cy="570.5" r="4.0"/><circle cx="565.7" cy="482.5" r="3.0"/><circle cx="1399.8" cy="558.2" r="3.0"/><circle cx="543.1" cy="555.4" r="4.4"/><circle cx="1279.3" cy="527.1" r="3.4"/><circle cx="581.2" cy="555.4" r="4.4"/><circle cx="1309.8" cy="567.0" r="3.4"/><circle cx="1242.0" cy="572.1" r="3.0"/><circle cx="461.6" cy="536.8" r="4.6"/><circle cx="599.1" cy="512.9" r="2.8"/><circle cx="423.6" cy="403.1" r="3.8"/><circle cx="1400.6" cy="619.8" r="3.6"/><circle cx="487.1" cy="440.7" r="2.8"/><circle cx="1318.7" cy="555.5" r="3.6"/><circle cx="509.9" cy="416.0" r="2.8"/><circle cx="1435.6" cy="581.2" r="3.0"/><circle cx="1161.0" cy="521.5" r="5.5"/><circle cx="1239.7" cy="484.5" r="3.0"/><circle cx="1163.3" cy="536.4" r="3.0"/><circle cx="675.4" cy="501.8" r="4.0"/><circle cx="1245.9" cy="478.5" r="4.4"/><circle cx="530.1" cy="617.2" r="2.8"/><circle cx="680.3" cy="532.0" r="3.8"/><circle cx="1386.2" cy="621.9" r="4.0"/><circle cx="1310.5" cy="524.7" r="3.6"/><circle cx="1165.2" cy="480.6" r="4.6"/><circle cx="1292.5" cy="549.5" r="3.0"/><circle cx="586.8" cy="533.7" r="2.8"/><circle cx="1302.4" cy="556.5" r="3.2"/><circle cx="650.7" cy="494.8" r="3.0"/><circle cx="1253.2" cy="531.4" r="3.8"/><circle cx="1258.0" cy="547.6" r="2.8"/><circle cx="1402.0" cy="607.3" r="4.0"/><circle cx="1356.4" cy="567.8" r="3.0"/><circle cx="1230.6" cy="563.2" r="4.0"/><circle cx="543.6" cy="473.1" r="4.4"/><circle cx="442.5" cy="435.9" r="3.8"/><circle cx="1157.7" cy="615.0" r="5.0"/><circle cx="1354.5" cy="579.9" r="4.0"/><circle cx="403.0" cy="431.3" r="6.5"/><circle cx="1385.4" cy="582.9" r="3.8"/><circle cx="1280.9" cy="560.9" r="4.4"/><circle cx="544.0" cy="506.6" r="3.4"/><circle cx="639.8" cy="506.4" r="3.8"/><circle cx="1339.4" cy="592.7" r="3.8"/><circle cx="603.7" cy="506.4" r="3.6"/><circle cx="1323.8" cy="625.0" r="2.8"/><circle cx="1368.8" cy="580.4" r="3.4"/><circle cx="1220.4" cy="519.3" r="4.6"/><circle cx="634.6" cy="522.9" r="2.8"/><circle cx="598.5" cy="573.2" r="3.2"/><circle cx="589.5" cy="545.1" r="3.0"/><circle cx="651.5" cy="600.0" r="3.0"/><circle cx="1417.8" cy="552.6" r="4.4"/><circle cx="514.4" cy="431.9" r="3.4"/><circle cx="1392.7" cy="599.7" r="4.0"/><circle cx="626.7" cy="586.8" r="3.0"/><circle cx="521.3" cy="544.9" r="2.8"/><circle cx="1307.4" cy="496.2" r="2.8"/><circle cx="1385.6" cy="578.4" r="3.2"/><circle cx="1250.2" cy="539.9" r="4.4"/><circle cx="1308.4" cy="656.0" r="2.8"/><circle cx="558.8" cy="502.4" r="4.0"/><circle cx="1361.5" cy="540.2" r="4.0"/><circle cx="1247.2" cy="543.3" r="4.0"/><circle cx="405.0" cy="428.0" r="3.8"/><circle cx="490.3" cy="473.8" r="4.4"/><circle cx="548.5" cy="556.0" r="3.4"/><circle cx="1308.5" cy="658.2" r="3.4"/><circle cx="1138.2" cy="526.3" r="4.6"/><circle cx="602.8" cy="456.5" r="4.0"/><circle cx="523.4" cy="533.5" r="4.4"/><circle cx="1246.0" cy="518.7" r="3.4"/><circle cx="380.1" cy="410.2" r="3.8"/><circle cx="1176.0" cy="485.4" r="4.6"/><circle cx="1387.2" cy="587.9" r="4.0"/><circle cx="643.5" cy="569.8" r="3.6"/><circle cx="1269.0" cy="529.5" r="3.2"/><circle cx="610.1" cy="576.8" r="4.0"/><circle cx="502.8" cy="467.3" r="3.2"/><circle cx="430.7" cy="461.1" r="5.0"/><circle cx="1096.8" cy="539.4" r="5.0"/><circle cx="392.1" cy="501.0" r="4.6"/><circle cx="1308.7" cy="611.0" r="4.0"/><circle cx="1421.0" cy="633.7" r="3.6"/><circle cx="598.8" cy="462.0" r="4.4"/><circle cx="1329.1" cy="554.7" r="3.8"/><circle cx="1259.3" cy="557.9" r="3.8"/><circle cx="1245.5" cy="500.3" r="3.6"/><circle cx="510.8" cy="439.8" r="4.4"/><circle cx="1296.5" cy="573.0" r="2.8"/><circle cx="1423.3" cy="626.0" r="2.8"/><circle cx="1347.7" cy="573.7" r="3.4"/><circle cx="576.2" cy="451.0" r="4.4"/><circle cx="1252.9" cy="572.1" r="2.8"/><circle cx="1359.8" cy="626.9" r="3.6"/><circle cx="611.0" cy="451.3" r="4.4"/><circle cx="1397.9" cy="515.5" r="3.0"/><circle cx="1328.5" cy="619.4" r="4.4"/><circle cx="1141.4" cy="509.0" r="4.2"/><circle cx="1309.9" cy="577.2" r="4.4"/><circle cx="1353.6" cy="517.5" r="3.6"/><circle cx="645.2" cy="471.2" r="3.8"/><circle cx="1189.7" cy="525.5" r="6.5"/><circle cx="602.7" cy="498.7" r="3.8"/><circle cx="432.0" cy="446.7" r="3.0"/><circle cx="622.4" cy="557.4" r="3.8"/><circle cx="537.7" cy="503.3" r="3.8"/><circle cx="1270.6" cy="527.6" r="3.8"/><circle cx="1367.9" cy="626.6" r="3.4"/><circle cx="698.6" cy="486.4" r="3.2"/><circle cx="571.6" cy="488.8" r="4.4"/><circle cx="490.5" cy="529.6" r="4.4"/><circle cx="1309.4" cy="553.2" r="4.4"/><circle cx="1437.7" cy="587.3" r="3.4"/><circle cx="1390.8" cy="565.1" r="3.8"/><circle cx="361.6" cy="410.0" r="7.0"/><circle cx="1277.9" cy="476.5" r="3.6"/><circle cx="448.2" cy="448.7" r="3.8"/><circle cx="1327.5" cy="553.7" r="2.8"/><circle cx="637.1" cy="528.4" r="4.4"/><circle cx="652.1" cy="540.4" r="3.4"/><circle cx="1299.4" cy="569.6" r="3.8"/><circle cx="588.0" cy="562.8" r="2.8"/><circle cx="1257.1" cy="523.9" r="3.4"/><circle cx="624.4" cy="525.9" r="3.2"/><circle cx="658.5" cy="521.7" r="2.8"/><circle cx="1345.5" cy="577.3" r="3.4"/><circle cx="498.8" cy="447.9" r="3.4"/><circle cx="650.5" cy="563.7" r="4.0"/><circle cx="1286.9" cy="599.5" r="3.0"/><circle cx="1369.5" cy="559.9" r="3.2"/><circle cx="1131.0" cy="477.4" r="3.4"/><circle cx="1228.8" cy="521.5" r="4.0"/><circle cx="1257.0" cy="539.9" r="4.4"/><circle cx="1302.4" cy="584.5" r="3.2"/><circle cx="467.3" cy="444.7" r="3.0"/><circle cx="449.3" cy="588.4" r="3.4"/><circle cx="609.3" cy="535.1" r="2.8"/><circle cx="564.2" cy="509.7" r="3.6"/><circle cx="1369.6" cy="557.2" r="3.6"/><circle cx="541.0" cy="502.2" r="3.4"/><circle cx="1443.4" cy="470.3" r="3.6"/><circle cx="614.9" cy="501.0" r="2.8"/><circle cx="1231.9" cy="542.9" r="5.5"/><circle cx="1305.0" cy="581.1" r="3.4"/><circle cx="1221.6" cy="492.9" r="6.5"/><circle cx="509.9" cy="417.7" r="3.0"/><circle cx="1341.0" cy="581.5" r="4.4"/><circle cx="521.5" cy="536.8" r="2.8"/><circle cx="1325.1" cy="561.2" r="4.4"/><circle cx="526.2" cy="465.9" r="4.0"/><circle cx="683.0" cy="537.8" r="3.8"/><circle cx="1377.0" cy="659.7" r="2.8"/><circle cx="1294.0" cy="530.7" r="3.8"/><circle cx="622.3" cy="455.1" r="4.4"/><circle cx="496.7" cy="492.6" r="3.6"/><circle cx="572.2" cy="480.9" r="2.8"/><circle cx="1288.1" cy="526.0" r="2.8"/><circle cx="458.3" cy="522.6" r="5.5"/><circle cx="1406.3" cy="578.3" r="4.0"/><circle cx="1295.8" cy="640.1" r="3.2"/><circle cx="1297.8" cy="592.4" r="3.8"/><circle cx="1391.1" cy="599.9" r="3.6"/><circle cx="1182.6" cy="528.3" r="5.5"/><circle cx="592.7" cy="537.2" r="3.2"/><circle cx="520.4" cy="556.2" r="3.2"/><circle cx="1333.7" cy="623.6" r="3.4"/><circle cx="1241.5" cy="515.6" r="4.0"/><circle cx="1356.1" cy="620.0" r="2.8"/><circle cx="1335.8" cy="575.1" r="3.2"/><circle cx="1323.7" cy="549.5" r="2.8"/><circle cx="642.8" cy="562.7" r="2.8"/><circle cx="589.0" cy="470.9" r="3.0"/><circle cx="1275.9" cy="523.3" r="3.4"/><circle cx="1316.0" cy="576.7" r="3.4"/><circle cx="591.4" cy="431.8" r="2.8"/><circle cx="1283.6" cy="500.3" r="3.6"/><circle cx="1320.8" cy="629.9" r="4.0"/><circle cx="1050.1" cy="404.5" r="3.5"/><circle cx="1185.0" cy="545.6" r="3.8"/><circle cx="643.5" cy="543.4" r="4.4"/><circle cx="1264.7" cy="632.8" r="2.8"/><circle cx="684.8" cy="538.8" r="3.2"/><circle cx="596.6" cy="513.2" r="3.4"/><circle cx="1387.6" cy="561.5" r="3.6"/><circle cx="485.2" cy="552.4" r="6.5"/><circle cx="1369.3" cy="601.9" r="4.0"/><circle cx="576.8" cy="496.0" r="3.8"/><circle cx="482.5" cy="440.5" r="3.8"/><circle cx="379.1" cy="469.3" r="5.5"/><circle cx="1235.5" cy="495.7" r="3.8"/><circle cx="626.9" cy="484.7" r="4.4"/><circle cx="553.9" cy="542.2" r="4.4"/><circle cx="1282.9" cy="550.3" r="2.8"/><circle cx="593.3" cy="435.0" r="3.6"/><circle cx="510.4" cy="501.3" r="3.2"/><circle cx="611.4" cy="447.6" r="3.6"/><circle cx="631.0" cy="469.3" r="3.6"/><circle cx="623.7" cy="533.7" r="4.0"/><circle cx="427.7" cy="395.9" r="3.4"/><circle cx="1288.5" cy="589.3" r="4.4"/><circle cx="1272.8" cy="584.3" r="4.0"/><circle cx="1325.6" cy="656.1" r="4.0"/><circle cx="1345.2" cy="569.7" r="3.0"/><circle cx="436.3" cy="457.2" r="5.5"/><circle cx="1227.4" cy="566.2" r="3.4"/><circle cx="558.1" cy="481.0" r="4.0"/><circle cx="546.2" cy="472.1" r="3.0"/><circle cx="535.9" cy="509.7" r="2.8"/><circle cx="581.0" cy="529.8" r="3.2"/><circle cx="613.6" cy="514.8" r="4.0"/><circle cx="630.9" cy="581.3" r="3.0"/><circle cx="636.5" cy="494.5" r="4.0"/><circle cx="1419.7" cy="539.7" r="3.6"/><circle cx="373.9" cy="456.9" r="5.0"/><circle cx="687.5" cy="482.6" r="4.0"/><circle cx="1249.1" cy="545.6" r="3.6"/><circle cx="602.9" cy="547.8" r="2.8"/><circle cx="1423.1" cy="577.8" r="3.6"/><circle cx="1347.3" cy="588.2" r="3.0"/><circle cx="1149.1" cy="565.8" r="5.0"/><circle cx="599.9" cy="483.5" r="3.8"/><circle cx="554.6" cy="550.8" r="2.8"/><circle cx="1363.3" cy="633.0" r="3.6"/><circle cx="1308.0" cy="574.4" r="3.8"/><circle cx="1360.9" cy="581.7" r="3.0"/><circle cx="1373.4" cy="570.8" r="4.0"/><circle cx="546.8" cy="438.1" r="3.8"/><circle cx="1274.2" cy="657.4" r="4.0"/><circle cx="1275.2" cy="555.4" r="3.8"/><circle cx="623.8" cy="523.9" r="3.0"/><circle cx="630.6" cy="584.7" r="4.4"/><circle cx="1330.4" cy="517.3" r="3.6"/><circle cx="509.8" cy="524.7" r="3.0"/><circle cx="1426.3" cy="479.3" r="4.4"/><circle cx="1112.4" cy="449.2" r="5.0"/><circle cx="639.6" cy="500.1" r="3.0"/><circle cx="631.2" cy="423.9" r="3.4"/><circle cx="1407.1" cy="594.5" r="4.0"/><circle cx="626.8" cy="483.4" r="3.2"/><circle cx="1165.9" cy="494.9" r="5.5"/><circle cx="600.3" cy="514.9" r="2.8"/><circle cx="1369.1" cy="606.8" r="3.2"/><circle cx="1257.4" cy="550.8" r="4.0"/><circle cx="1244.5" cy="569.6" r="2.8"/><circle cx="665.2" cy="453.6" r="2.8"/><circle cx="1357.9" cy="576.4" r="4.0"/><circle cx="1200.6" cy="524.5" r="4.2"/><circle cx="1324.8" cy="630.2" r="3.6"/><circle cx="1296.2" cy="555.5" r="2.8"/><circle cx="1343.2" cy="599.3" r="4.4"/><circle cx="645.5" cy="565.9" r="3.0"/><circle cx="1247.5" cy="608.3" r="3.8"/><circle cx="618.3" cy="543.6" r="4.4"/><circle cx="599.6" cy="552.8" r="4.4"/><circle cx="1356.0" cy="634.9" r="3.2"/><circle cx="1230.1" cy="555.9" r="3.0"/><circle cx="1342.7" cy="549.4" r="3.4"/><circle cx="1351.1" cy="614.9" r="2.8"/><circle cx="1350.8" cy="598.4" r="4.0"/><circle cx="1315.2" cy="627.3" r="3.8"/><circle cx="639.7" cy="557.0" r="3.8"/><circle cx="650.7" cy="567.3" r="4.4"/><circle cx="1334.4" cy="628.0" r="3.4"/><circle cx="1341.8" cy="500.7" r="2.8"/><circle cx="351.4" cy="437.9" r="5.5"/><circle cx="545.9" cy="471.7" r="3.4"/><circle cx="494.0" cy="509.7" r="2.8"/><circle cx="491.9" cy="576.0" r="4.0"/><circle cx="1337.3" cy="580.1" r="3.6"/><circle cx="1381.0" cy="555.7" r="4.4"/><circle cx="446.4" cy="470.7" r="3.0"/><circle cx="629.3" cy="535.3" r="3.8"/><circle cx="331.0" cy="435.0" r="7.0"/><circle cx="618.0" cy="492.6" r="3.6"/><circle cx="1342.3" cy="607.6" r="4.0"/><circle cx="711.2" cy="552.2" r="3.4"/><circle cx="1339.7" cy="636.1" r="3.6"/><circle cx="501.3" cy="497.1" r="4.4"/><circle cx="557.0" cy="451.4" r="3.6"/><circle cx="1314.1" cy="605.5" r="4.0"/><circle cx="575.5" cy="473.6" r="3.8"/><circle cx="686.8" cy="513.5" r="3.2"/><circle cx="639.0" cy="572.4" r="4.0"/><circle cx="592.9" cy="408.2" r="4.4"/><circle cx="1275.3" cy="544.7" r="3.2"/><circle cx="405.4" cy="455.0" r="3.4"/><circle cx="585.9" cy="439.9" r="3.6"/><circle cx="647.3" cy="499.5" r="4.0"/><circle cx="1382.4" cy="631.6" r="3.8"/><circle cx="422.9" cy="501.3" r="3.0"/><circle cx="653.7" cy="542.4" r="4.4"/><circle cx="1270.3" cy="483.3" r="4.4"/><circle cx="1354.8" cy="563.4" r="2.8"/><circle cx="1392.2" cy="615.7" r="3.8"/><circle cx="606.8" cy="518.7" r="3.4"/><circle cx="542.8" cy="475.4" r="3.4"/><circle cx="1285.6" cy="508.1" r="3.4"/><circle cx="597.8" cy="500.4" r="4.4"/><circle cx="1298.2" cy="555.6" r="3.0"/><circle cx="572.3" cy="536.9" r="3.8"/><circle cx="1269.2" cy="522.9" r="3.0"/><circle cx="1365.9" cy="522.4" r="4.0"/><circle cx="1401.8" cy="599.5" r="4.4"/><circle cx="588.8" cy="509.7" r="3.2"/><circle cx="1223.8" cy="483.8" r="3.4"/><circle cx="1415.6" cy="562.6" r="3.2"/><circle cx="519.9" cy="457.2" r="4.0"/><circle cx="1285.6" cy="592.7" r="3.0"/><circle cx="1140.3" cy="462.3" r="6.5"/><circle cx="1302.1" cy="523.6" r="4.4"/><circle cx="564.5" cy="471.9" r="3.0"/><circle cx="569.3" cy="436.8" r="3.0"/><circle cx="659.5" cy="448.0" r="2.8"/><circle cx="406.1" cy="439.3" r="3.8"/><circle cx="1369.3" cy="607.9" r="3.4"/><circle cx="545.5" cy="568.3" r="3.0"/><circle cx="443.1" cy="521.5" r="3.8"/><circle cx="688.1" cy="484.6" r="3.6"/><circle cx="667.6" cy="541.5" r="3.2"/><circle cx="626.5" cy="466.6" r="3.8"/><circle cx="1355.2" cy="581.1" r="3.2"/><circle cx="1330.9" cy="668.6" r="3.6"/><circle cx="505.1" cy="459.8" r="3.4"/><circle cx="1333.2" cy="506.5" r="4.0"/><circle cx="1249.9" cy="552.0" r="3.4"/><circle cx="1336.9" cy="512.4" r="3.8"/><circle cx="501.5" cy="488.1" r="2.8"/><circle cx="669.2" cy="602.3" r="3.8"/><circle cx="1266.4" cy="556.3" r="3.4"/><circle cx="621.7" cy="524.0" r="4.4"/><circle cx="1141.9" cy="526.7" r="5.0"/><circle cx="559.5" cy="486.0" r="3.0"/><circle cx="607.4" cy="517.9" r="3.6"/><circle cx="613.3" cy="474.2" r="3.8"/><circle cx="592.7" cy="529.5" r="3.2"/><circle cx="674.0" cy="563.0" r="3.6"/><circle cx="1373.6" cy="497.3" r="2.8"/><circle cx="622.7" cy="527.2" r="4.4"/><circle cx="1322.8" cy="580.5" r="3.2"/><circle cx="583.0" cy="462.0" r="3.8"/><circle cx="1164.9" cy="492.4" r="3.0"/><circle cx="1268.6" cy="552.0" r="4.4"/><circle cx="1288.4" cy="551.1" r="2.8"/><circle cx="1214.0" cy="602.0" r="3.0"/><circle cx="1265.0" cy="535.7" r="3.4"/><circle cx="1217.9" cy="555.7" r="4.6"/><circle cx="372.1" cy="375.5" r="7.0"/><circle cx="1401.1" cy="613.9" r="3.0"/><circle cx="1180.0" cy="510.9" r="5.0"/><circle cx="536.0" cy="462.7" r="3.6"/><circle cx="1437.1" cy="549.4" r="3.8"/><circle cx="482.8" cy="557.5" r="3.2"/><circle cx="1376.5" cy="661.0" r="3.6"/><circle cx="503.3" cy="499.6" r="3.4"/><circle cx="1190.3" cy="533.7" r="4.6"/><circle cx="1313.7" cy="514.7" r="3.0"/><circle cx="1454.2" cy="548.6" r="3.8"/><circle cx="1251.3" cy="544.9" r="4.0"/><circle cx="625.2" cy="479.6" r="3.2"/><circle cx="1217.6" cy="548.9" r="4.2"/><circle cx="626.8" cy="545.1" r="2.8"/><circle cx="595.9" cy="524.1" r="2.8"/><circle cx="1343.5" cy="617.4" r="4.4"/><circle cx="1202.5" cy="517.9" r="5.0"/><circle cx="608.3" cy="546.4" r="4.4"/><circle cx="627.1" cy="555.7" r="3.2"/><circle cx="514.1" cy="467.2" r="4.0"/><circle cx="1364.2" cy="550.6" r="3.4"/><circle cx="574.5" cy="604.5" r="3.0"/><circle cx="1160.0" cy="504.5" r="3.8"/><circle cx="579.8" cy="508.7" r="2.8"/><circle cx="614.8" cy="618.1" r="4.4"/><circle cx="494.4" cy="554.1" r="3.2"/><circle cx="506.2" cy="463.3" r="4.4"/><circle cx="449.7" cy="461.7" r="5.0"/><circle cx="600.6" cy="474.0" r="3.2"/><circle cx="1375.5" cy="582.0" r="3.8"/><circle cx="1288.1" cy="520.2" r="3.0"/><circle cx="571.1" cy="507.7" r="3.2"/><circle cx="1273.0" cy="542.4" r="3.8"/><circle cx="344.4" cy="442.7" r="4.0"/><circle cx="1421.6" cy="603.1" r="4.4"/><circle cx="658.8" cy="439.1" r="3.0"/><circle cx="1386.5" cy="641.9" r="3.0"/><circle cx="1374.4" cy="513.0" r="3.2"/><circle cx="1453.8" cy="541.7" r="2.8"/><circle cx="647.2" cy="577.2" r="4.4"/><circle cx="1382.5" cy="595.7" r="4.4"/><circle cx="660.9" cy="597.4" r="3.8"/><circle cx="1371.0" cy="558.2" r="2.8"/><circle cx="605.7" cy="526.8" r="3.4"/><circle cx="1379.0" cy="608.4" r="3.4"/><circle cx="1209.0" cy="516.1" r="5.5"/><circle cx="1348.7" cy="581.6" r="3.4"/><circle cx="1411.4" cy="520.3" r="3.6"/><circle cx="422.3" cy="427.8" r="3.4"/><circle cx="570.3" cy="524.5" r="3.0"/><circle cx="1355.3" cy="507.1" r="3.6"/><circle cx="658.4" cy="568.8" r="3.6"/><circle cx="1363.7" cy="553.3" r="3.6"/><circle cx="588.0" cy="537.0" r="3.8"/><circle cx="1347.0" cy="556.9" r="3.6"/><circle cx="678.7" cy="571.5" r="4.0"/><circle cx="567.0" cy="526.0" r="4.4"/><circle cx="571.4" cy="500.0" r="3.6"/><circle cx="503.6" cy="449.5" r="3.8"/><circle cx="529.1" cy="415.3" r="3.0"/><circle cx="618.7" cy="475.9" r="3.8"/><circle cx="601.5" cy="623.5" r="3.8"/><circle cx="535.3" cy="489.7" r="3.6"/><circle cx="651.5" cy="527.6" r="4.0"/><circle cx="578.7" cy="477.1" r="3.8"/><circle cx="360.2" cy="406.1" r="6.0"/><circle cx="1320.4" cy="497.0" r="3.0"/><circle cx="579.3" cy="566.0" r="4.0"/><circle cx="556.4" cy="478.8" r="3.6"/><circle cx="555.5" cy="472.2" r="3.0"/><circle cx="568.9" cy="506.8" r="4.0"/><circle cx="405.7" cy="424.5" r="6.5"/><circle cx="1351.1" cy="516.9" r="3.4"/><circle cx="587.9" cy="499.9" r="2.8"/><circle cx="1243.8" cy="510.0" r="3.4"/><circle cx="632.2" cy="573.1" r="4.0"/><circle cx="580.4" cy="489.0" r="2.8"/><circle cx="671.2" cy="549.6" r="3.8"/><circle cx="1302.8" cy="585.2" r="3.4"/><circle cx="519.3" cy="569.6" r="3.6"/><circle cx="1326.3" cy="627.4" r="2.8"/><circle cx="457.1" cy="531.1" r="3.0"/><circle cx="585.8" cy="588.6" r="3.8"/><circle cx="1247.0" cy="525.0" r="4.0"/><circle cx="1306.6" cy="495.8" r="3.6"/><circle cx="594.3" cy="511.1" r="4.0"/><circle cx="1369.8" cy="539.9" r="4.4"/><circle cx="576.8" cy="470.5" r="2.8"/><circle cx="1274.0" cy="521.9" r="4.0"/><circle cx="1268.3" cy="531.0" r="4.0"/><circle cx="1351.5" cy="491.9" r="3.8"/><circle cx="578.8" cy="532.2" r="3.4"/><circle cx="665.5" cy="528.9" r="3.8"/><circle cx="1236.9" cy="512.7" r="3.6"/><circle cx="1365.3" cy="619.2" r="3.2"/><circle cx="1297.0" cy="536.2" r="3.8"/><circle cx="617.7" cy="565.9" r="2.8"/><circle cx="1275.0" cy="529.7" r="3.8"/><circle cx="1295.2" cy="548.3" r="3.0"/><circle cx="1289.1" cy="498.1" r="4.4"/><circle cx="652.0" cy="555.2" r="3.8"/><circle cx="1239.6" cy="562.3" r="2.8"/><circle cx="613.0" cy="472.5" r="3.6"/><circle cx="568.8" cy="552.2" r="3.8"/><circle cx="1127.8" cy="483.0" r="6.5"/><circle cx="1133.2" cy="539.9" r="5.5"/><circle cx="409.9" cy="361.6" r="3.8"/><circle cx="356.5" cy="399.7" r="4.0"/><circle cx="1137.2" cy="432.4" r="3.0"/><circle cx="1115.8" cy="522.7" r="5.5"/><circle cx="1369.1" cy="615.9" r="4.0"/><circle cx="668.1" cy="557.5" r="3.8"/><circle cx="461.9" cy="462.0" r="4.6"/><circle cx="1355.2" cy="507.5" r="3.0"/><circle cx="601.8" cy="514.2" r="3.2"/><circle cx="1237.6" cy="542.5" r="3.2"/><circle cx="1256.5" cy="514.1" r="3.0"/><circle cx="1392.1" cy="604.0" r="3.2"/><circle cx="1398.3" cy="563.4" r="3.2"/><circle cx="353.7" cy="423.5" r="8.0"/><circle cx="597.2" cy="491.2" r="3.4"/><circle cx="492.8" cy="495.2" r="4.4"/><circle cx="575.3" cy="474.2" r="3.8"/><circle cx="523.4" cy="431.4" r="3.6"/><circle cx="594.5" cy="549.7" r="3.6"/><circle cx="663.3" cy="564.6" r="3.8"/><circle cx="664.9" cy="582.6" r="3.6"/><circle cx="614.2" cy="547.4" r="4.0"/><circle cx="507.2" cy="495.5" r="3.2"/><circle cx="479.7" cy="480.4" r="5.0"/><circle cx="603.6" cy="539.8" r="2.8"/><circle cx="1318.7" cy="638.7" r="3.4"/><circle cx="1347.1" cy="571.9" r="3.6"/><circle cx="596.1" cy="526.9" r="4.0"/><circle cx="626.8" cy="565.9" r="2.8"/><circle cx="591.9" cy="473.4" r="3.8"/><circle cx="1347.8" cy="645.0" r="3.6"/><circle cx="1090.8" cy="517.6" r="3.5"/><circle cx="1222.7" cy="544.4" r="4.6"/><circle cx="1244.6" cy="500.3" r="3.2"/><circle cx="519.0" cy="471.2" r="3.2"/><circle cx="653.2" cy="624.0" r="3.6"/><circle cx="634.0" cy="505.4" r="4.4"/><circle cx="573.7" cy="426.6" r="3.2"/><circle cx="507.5" cy="530.0" r="3.8"/><circle cx="1383.8" cy="503.4" r="3.0"/><circle cx="610.0" cy="468.7" r="3.2"/><circle cx="1110.6" cy="434.6" r="5.0"/><circle cx="394.7" cy="471.5" r="5.5"/><circle cx="1399.2" cy="655.3" r="3.2"/><circle cx="1249.9" cy="514.3" r="4.4"/><circle cx="666.1" cy="574.9" r="3.0"/><circle cx="685.8" cy="517.5" r="4.4"/><circle cx="491.9" cy="476.9" r="4.0"/><circle cx="420.1" cy="465.9" r="4.6"/><circle cx="566.4" cy="498.2" r="3.6"/><circle cx="634.3" cy="579.1" r="3.4"/><circle cx="500.3" cy="572.6" r="3.2"/><circle cx="659.4" cy="593.1" r="3.6"/><circle cx="1283.4" cy="614.5" r="4.0"/><circle cx="1181.9" cy="493.7" r="6.5"/><circle cx="640.3" cy="493.4" r="2.8"/><circle cx="512.6" cy="470.2" r="3.6"/><circle cx="402.8" cy="445.4" r="4.6"/><circle cx="1276.2" cy="544.7" r="3.6"/><circle cx="1248.8" cy="516.4" r="3.0"/><circle cx="395.1" cy="400.9" r="3.8"/><circle cx="430.0" cy="458.5" r="4.6"/><circle cx="1241.1" cy="477.5" r="3.2"/><circle cx="607.1" cy="587.1" r="3.6"/><circle cx="646.0" cy="532.2" r="3.2"/><circle cx="1388.4" cy="566.0" r="3.0"/><circle cx="576.5" cy="453.1" r="4.0"/><circle cx="578.6" cy="484.9" r="4.0"/><circle cx="678.8" cy="479.6" r="2.8"/><circle cx="1243.7" cy="550.3" r="2.8"/><circle cx="496.0" cy="429.8" r="3.8"/><circle cx="716.5" cy="554.7" r="3.4"/><circle cx="567.6" cy="513.4" r="3.6"/><circle cx="587.5" cy="477.5" r="3.0"/><circle cx="1343.0" cy="592.1" r="3.8"/><circle cx="1355.5" cy="492.6" r="3.4"/><circle cx="1433.2" cy="622.5" r="3.6"/><circle cx="1422.0" cy="589.4" r="3.0"/><circle cx="695.4" cy="466.0" r="3.6"/><circle cx="1285.1" cy="555.5" r="4.4"/><circle cx="537.8" cy="573.8" r="3.2"/><circle cx="1249.3" cy="558.8" r="3.6"/><circle cx="716.8" cy="593.8" r="3.2"/><circle cx="1216.8" cy="515.7" r="5.5"/><circle cx="406.1" cy="403.0" r="3.4"/><circle cx="1154.1" cy="501.3" r="3.8"/><circle cx="1409.9" cy="483.4" r="3.8"/><circle cx="518.2" cy="470.0" r="3.4"/><circle cx="425.6" cy="483.2" r="5.5"/><circle cx="458.0" cy="483.0" r="3.8"/><circle cx="1291.2" cy="561.6" r="4.0"/><circle cx="492.9" cy="478.5" r="3.0"/><circle cx="1401.7" cy="573.5" r="3.8"/><circle cx="426.0" cy="407.0" r="3.8"/><circle cx="553.8" cy="570.4" r="3.6"/><circle cx="1306.6" cy="491.8" r="3.4"/><circle cx="652.2" cy="541.7" r="2.8"/><circle cx="628.9" cy="509.8" r="4.4"/><circle cx="1332.6" cy="617.4" r="3.2"/><circle cx="578.6" cy="488.2" r="2.8"/><circle cx="1210.0" cy="501.2" r="3.0"/><circle cx="1350.0" cy="599.2" r="3.6"/><circle cx="428.4" cy="459.6" r="5.0"/><circle cx="1338.9" cy="557.6" r="2.8"/><circle cx="1207.0" cy="544.3" r="4.2"/><circle cx="536.5" cy="475.0" r="4.4"/><circle cx="490.8" cy="511.2" r="3.2"/><circle cx="1336.1" cy="510.1" r="3.0"/><circle cx="371.6" cy="399.7" r="8.0"/><circle cx="555.2" cy="516.8" r="4.4"/><circle cx="644.1" cy="508.3" r="4.4"/><circle cx="1250.9" cy="533.9" r="3.0"/><circle cx="636.0" cy="558.8" r="4.4"/><circle cx="1306.2" cy="588.7" r="4.4"/><circle cx="478.5" cy="519.2" r="3.8"/><circle cx="1206.6" cy="487.3" r="3.8"/><circle cx="456.9" cy="448.7" r="3.0"/><circle cx="1173.1" cy="523.5" r="5.5"/><circle cx="346.3" cy="463.7" r="8.0"/><circle cx="560.6" cy="519.3" r="4.4"/><circle cx="603.3" cy="488.9" r="3.4"/><circle cx="1292.2" cy="639.8" r="3.0"/><circle cx="1230.3" cy="585.3" r="5.5"/><circle cx="643.7" cy="532.4" r="3.2"/><circle cx="458.3" cy="484.8" r="4.6"/><circle cx="602.7" cy="558.3" r="3.4"/><circle cx="619.3" cy="452.3" r="2.8"/><circle cx="1241.3" cy="542.5" r="4.4"/><circle cx="1427.8" cy="613.4" r="4.4"/><circle cx="525.3" cy="459.6" r="3.6"/><circle cx="597.6" cy="468.7" r="3.8"/><circle cx="1230.9" cy="479.9" r="3.4"/><circle cx="533.1" cy="436.6" r="4.0"/><circle cx="543.0" cy="502.1" r="4.4"/><circle cx="1419.9" cy="563.1" r="4.0"/><circle cx="642.0" cy="545.6" r="3.0"/><circle cx="608.1" cy="528.5" r="3.0"/><circle cx="576.4" cy="446.6" r="4.0"/><circle cx="1250.0" cy="539.0" r="4.4"/><circle cx="540.0" cy="527.8" r="3.0"/><circle cx="1312.6" cy="504.5" r="3.6"/><circle cx="1264.9" cy="568.6" r="3.4"/><circle cx="593.2" cy="547.7" r="3.4"/><circle cx="1259.4" cy="494.3" r="3.0"/><circle cx="662.3" cy="534.9" r="3.0"/><circle cx="606.2" cy="489.3" r="3.6"/><circle cx="1337.6" cy="560.3" r="3.0"/><circle cx="693.5" cy="489.4" r="2.8"/><circle cx="528.4" cy="492.6" r="3.0"/><circle cx="581.0" cy="570.6" r="4.4"/><circle cx="646.2" cy="556.3" r="4.0"/><circle cx="1340.7" cy="604.0" r="3.6"/><circle cx="554.4" cy="588.3" r="4.0"/><circle cx="1356.2" cy="566.1" r="3.6"/><circle cx="589.9" cy="557.4" r="3.4"/><circle cx="678.4" cy="523.7" r="3.8"/><circle cx="581.7" cy="501.3" r="3.6"/><circle cx="660.5" cy="505.8" r="3.0"/><circle cx="627.5" cy="545.3" r="3.4"/><circle cx="537.6" cy="446.8" r="3.0"/><circle cx="616.4" cy="559.8" r="4.4"/><circle cx="1324.1" cy="638.5" r="2.8"/><circle cx="1438.4" cy="562.2" r="3.0"/><circle cx="1232.3" cy="561.0" r="4.0"/><circle cx="1167.5" cy="464.6" r="3.0"/><circle cx="600.8" cy="528.6" r="4.0"/><circle cx="623.6" cy="548.7" r="3.0"/><circle cx="508.2" cy="426.4" r="3.0"/><circle cx="1257.5" cy="570.1" r="2.8"/><circle cx="552.3" cy="417.1" r="3.2"/><circle cx="1267.3" cy="587.7" r="3.6"/><circle cx="1138.2" cy="573.7" r="4.6"/><circle cx="566.3" cy="517.9" r="3.0"/><circle cx="680.3" cy="515.9" r="3.6"/><circle cx="539.1" cy="506.7" r="2.8"/><circle cx="550.2" cy="466.2" r="3.0"/><circle cx="1241.5" cy="533.3" r="3.4"/><circle cx="1243.4" cy="522.7" r="4.4"/><circle cx="1288.4" cy="516.8" r="3.0"/><circle cx="1230.2" cy="558.9" r="3.0"/><circle cx="1408.3" cy="587.0" r="3.6"/><circle cx="1143.6" cy="544.5" r="4.2"/><circle cx="1151.1" cy="484.6" r="4.2"/><circle cx="1213.9" cy="520.8" r="3.4"/><circle cx="1067.0" cy="526.4" r="4.5"/><circle cx="327.6" cy="390.0" r="8.0"/><circle cx="1284.7" cy="502.3" r="2.8"/><circle cx="523.5" cy="480.9" r="3.6"/><circle cx="643.4" cy="596.1" r="4.0"/><circle cx="1211.8" cy="593.6" r="5.0"/><circle cx="561.8" cy="499.2" r="3.0"/><circle cx="1204.1" cy="554.7" r="4.2"/><circle cx="545.7" cy="522.7" r="4.0"/><circle cx="568.9" cy="443.2" r="3.2"/><circle cx="1251.7" cy="540.4" r="4.0"/><circle cx="1169.1" cy="538.9" r="6.5"/><circle cx="1175.2" cy="608.3" r="5.5"/><circle cx="566.1" cy="595.9" r="3.8"/><circle cx="1280.7" cy="550.7" r="4.4"/><circle cx="519.5" cy="520.0" r="4.0"/><circle cx="500.4" cy="528.4" r="3.8"/><circle cx="1342.1" cy="555.7" r="3.6"/><circle cx="1375.2" cy="564.1" r="3.4"/><circle cx="533.4" cy="473.9" r="3.2"/><circle cx="1344.1" cy="557.6" r="3.0"/><circle cx="664.1" cy="528.9" r="3.2"/><circle cx="1393.8" cy="643.3" r="3.2"/><circle cx="1369.8" cy="524.0" r="3.8"/><circle cx="688.2" cy="540.9" r="3.0"/><circle cx="518.1" cy="520.4" r="3.6"/><circle cx="1213.5" cy="560.3" r="5.0"/><circle cx="460.5" cy="574.0" r="5.0"/><circle cx="1265.5" cy="497.8" r="4.4"/><circle cx="584.0" cy="532.2" r="3.4"/><circle cx="339.0" cy="452.2" r="5.5"/><circle cx="499.8" cy="449.4" r="3.0"/><circle cx="405.0" cy="419.1" r="3.8"/><circle cx="1234.4" cy="614.2" r="4.4"/><circle cx="384.1" cy="411.8" r="7.0"/><circle cx="408.2" cy="403.1" r="3.0"/><circle cx="617.2" cy="505.2" r="3.8"/><circle cx="1331.2" cy="638.4" r="3.2"/><circle cx="1397.2" cy="575.4" r="3.8"/><circle cx="508.7" cy="438.4" r="3.0"/><circle cx="544.2" cy="494.9" r="3.8"/><circle cx="617.7" cy="627.6" r="3.2"/><circle cx="1251.8" cy="576.3" r="3.4"/><circle cx="1344.9" cy="596.5" r="4.0"/><circle cx="1263.1" cy="578.4" r="3.2"/><circle cx="1247.4" cy="545.9" r="3.4"/><circle cx="601.1" cy="486.3" r="3.2"/><circle cx="676.8" cy="568.0" r="3.6"/><circle cx="1338.3" cy="613.0" r="3.4"/><circle cx="1139.1" cy="496.7" r="5.0"/><circle cx="1370.8" cy="483.6" r="3.4"/><circle cx="651.1" cy="573.7" r="2.8"/><circle cx="632.7" cy="580.3" r="2.8"/><circle cx="643.3" cy="492.7" r="3.0"/><circle cx="373.6" cy="452.3" r="5.0"/><circle cx="1345.1" cy="609.4" r="3.8"/><circle cx="1430.4" cy="507.8" r="3.8"/><circle cx="504.3" cy="479.8" r="4.0"/><circle cx="577.5" cy="579.6" r="4.4"/><circle cx="423.4" cy="408.1" r="5.0"/><circle cx="1354.7" cy="479.9" r="2.8"/><circle cx="592.4" cy="440.0" r="3.6"/><circle cx="584.5" cy="463.7" r="2.8"/><circle cx="501.3" cy="423.9" r="3.2"/><circle cx="501.0" cy="469.1" r="4.0"/><circle cx="605.0" cy="441.1" r="3.2"/><circle cx="1377.1" cy="586.2" r="3.2"/><circle cx="547.3" cy="480.9" r="3.2"/><circle cx="454.6" cy="455.1" r="3.4"/><circle cx="604.0" cy="507.3" r="3.8"/><circle cx="1341.8" cy="561.2" r="3.8"/><circle cx="533.6" cy="449.9" r="4.4"/><circle cx="1210.9" cy="511.6" r="3.0"/><circle cx="440.8" cy="463.9" r="3.4"/><circle cx="1400.1" cy="646.0" r="3.6"/><circle cx="529.5" cy="477.1" r="3.2"/><circle cx="583.9" cy="478.1" r="4.0"/><circle cx="688.6" cy="472.9" r="4.0"/><circle cx="407.6" cy="391.9" r="5.0"/><circle cx="1373.2" cy="592.4" r="3.4"/><circle cx="1222.4" cy="543.1" r="4.0"/><circle cx="1352.2" cy="446.5" r="4.4"/><circle cx="1196.3" cy="514.7" r="4.6"/><circle cx="401.4" cy="411.9" r="5.0"/><circle cx="481.4" cy="475.7" r="5.5"/><circle cx="1288.9" cy="516.9" r="2.8"/><circle cx="446.5" cy="471.8" r="3.0"/><circle cx="1316.7" cy="541.6" r="3.8"/><circle cx="613.7" cy="460.7" r="2.8"/><circle cx="1306.6" cy="557.4" r="2.8"/><circle cx="1261.7" cy="594.1" r="4.4"/><circle cx="638.7" cy="526.4" r="2.8"/><circle cx="1390.2" cy="626.8" r="3.2"/><circle cx="564.7" cy="536.4" r="2.8"/><circle cx="622.8" cy="541.3" r="3.0"/><circle cx="573.9" cy="471.9" r="2.8"/><circle cx="1402.9" cy="602.3" r="3.2"/><circle cx="1337.1" cy="541.1" r="4.4"/><circle cx="1271.4" cy="548.8" r="3.0"/><circle cx="1269.0" cy="537.2" r="2.8"/><circle cx="582.1" cy="423.5" r="3.8"/><circle cx="430.8" cy="419.0" r="6.5"/><circle cx="556.5" cy="521.5" r="3.2"/><circle cx="540.6" cy="464.0" r="3.6"/><circle cx="1218.0" cy="567.8" r="3.4"/><circle cx="691.2" cy="590.8" r="4.4"/><circle cx="1329.5" cy="563.7" r="4.4"/><circle cx="520.7" cy="503.0" r="3.4"/><circle cx="514.7" cy="456.7" r="3.8"/><circle cx="406.6" cy="405.5" r="5.5"/><circle cx="1213.0" cy="546.2" r="4.4"/><circle cx="1287.2" cy="529.7" r="2.8"/><circle cx="1351.8" cy="571.2" r="2.8"/><circle cx="1364.7" cy="558.3" r="3.2"/><circle cx="596.0" cy="482.1" r="3.6"/><circle cx="1361.3" cy="581.0" r="4.4"/><circle cx="567.5" cy="573.6" r="3.0"/><circle cx="1306.5" cy="602.8" r="4.4"/><circle cx="654.3" cy="601.3" r="3.6"/><circle cx="1361.4" cy="558.6" r="2.8"/><circle cx="560.7" cy="556.8" r="3.0"/><circle cx="453.0" cy="542.8" r="5.0"/><circle cx="1252.1" cy="555.2" r="2.8"/><circle cx="544.3" cy="456.3" r="4.4"/><circle cx="1236.1" cy="534.2" r="3.0"/><circle cx="1140.5" cy="523.8" r="5.0"/><circle cx="1316.2" cy="633.0" r="3.6"/><circle cx="1316.6" cy="557.3" r="3.0"/><circle cx="524.1" cy="464.1" r="4.4"/><circle cx="479.7" cy="422.4" r="5.0"/><circle cx="635.3" cy="594.4" r="4.0"/><circle cx="1304.8" cy="575.3" r="4.0"/><circle cx="662.2" cy="483.1" r="3.4"/><circle cx="553.4" cy="536.6" r="4.0"/><circle cx="1428.8" cy="527.2" r="3.6"/><circle cx="509.9" cy="446.4" r="3.2"/><circle cx="1265.8" cy="570.5" r="3.2"/><circle cx="1320.1" cy="587.3" r="4.0"/><circle cx="570.3" cy="564.3" r="2.8"/><circle cx="1257.4" cy="555.5" r="3.4"/><circle cx="1357.2" cy="551.5" r="4.0"/><circle cx="1277.4" cy="564.1" r="4.0"/><circle cx="427.3" cy="513.3" r="3.0"/><circle cx="1294.9" cy="550.0" r="2.8"/><circle cx="636.7" cy="528.5" r="3.0"/><circle cx="1404.9" cy="627.7" r="3.6"/><circle cx="1323.7" cy="588.9" r="2.8"/><circle cx="617.4" cy="570.5" r="3.0"/><circle cx="1290.3" cy="646.4" r="4.4"/><circle cx="582.3" cy="415.9" r="4.0"/><circle cx="623.1" cy="452.7" r="4.4"/><circle cx="1378.7" cy="625.3" r="3.8"/><circle cx="609.8" cy="574.8" r="3.0"/><circle cx="1258.2" cy="523.5" r="4.4"/><circle cx="562.1" cy="553.4" r="2.8"/><circle cx="523.1" cy="461.0" r="3.2"/><circle cx="590.6" cy="566.1" r="3.4"/><circle cx="1324.3" cy="604.1" r="3.4"/><circle cx="1345.1" cy="591.7" r="3.6"/><circle cx="1401.8" cy="597.7" r="3.0"/><circle cx="706.1" cy="515.6" r="3.8"/><circle cx="1345.8" cy="590.0" r="3.8"/><circle cx="1321.5" cy="561.4" r="3.6"/><circle cx="1342.2" cy="602.7" r="3.8"/><circle cx="459.6" cy="405.0" r="3.4"/><circle cx="486.5" cy="493.1" r="2.8"/><circle cx="1344.3" cy="621.6" r="4.4"/><circle cx="1235.3" cy="548.2" r="4.0"/><circle cx="1176.6" cy="455.7" r="3.8"/><circle cx="1337.2" cy="583.2" r="3.0"/><circle cx="596.3" cy="455.9" r="3.4"/><circle cx="537.5" cy="425.6" r="4.4"/><circle cx="603.4" cy="560.2" r="3.2"/><circle cx="1324.8" cy="521.8" r="3.2"/><circle cx="1397.0" cy="553.9" r="4.0"/><circle cx="1253.8" cy="539.6" r="3.0"/><circle cx="613.2" cy="572.2" r="3.2"/><circle cx="654.1" cy="598.9" r="4.0"/><circle cx="639.0" cy="590.2" r="3.0"/><circle cx="1312.9" cy="542.6" r="4.4"/><circle cx="362.5" cy="428.8" r="4.5"/><circle cx="1226.6" cy="502.6" r="4.2"/><circle cx="537.2" cy="502.6" r="3.6"/><circle cx="1150.7" cy="479.7" r="3.0"/><circle cx="640.6" cy="536.6" r="3.2"/><circle cx="1229.4" cy="528.2" r="3.4"/><circle cx="1324.4" cy="528.4" r="3.8"/><circle cx="521.8" cy="499.1" r="4.4"/><circle cx="1273.3" cy="584.1" r="3.4"/><circle cx="1187.9" cy="541.3" r="3.8"/><circle cx="570.0" cy="517.4" r="3.4"/><circle cx="348.0" cy="366.5" r="4.0"/><circle cx="590.7" cy="486.3" r="3.2"/><circle cx="707.5" cy="483.9" r="3.4"/><circle cx="647.8" cy="474.8" r="3.0"/><circle cx="372.5" cy="406.3" r="6.0"/><circle cx="1394.0" cy="591.1" r="3.2"/><circle cx="618.2" cy="592.4" r="3.0"/><circle cx="1368.0" cy="575.9" r="4.0"/><circle cx="1411.7" cy="547.4" r="3.0"/><circle cx="602.9" cy="606.5" r="2.8"/><circle cx="660.8" cy="483.5" r="3.2"/><circle cx="1387.9" cy="636.7" r="3.8"/><circle cx="1406.2" cy="532.0" r="4.4"/><circle cx="592.6" cy="519.9" r="3.4"/><circle cx="534.2" cy="468.8" r="3.2"/><circle cx="516.0" cy="492.6" r="3.6"/><circle cx="586.0" cy="497.0" r="3.0"/><circle cx="1312.2" cy="591.7" r="3.8"/><circle cx="624.0" cy="514.1" r="3.0"/><circle cx="1238.6" cy="553.0" r="3.8"/><circle cx="508.8" cy="562.2" r="4.0"/><circle cx="1272.9" cy="579.2" r="3.2"/><circle cx="1341.1" cy="598.8" r="2.8"/><circle cx="447.0" cy="449.0" r="3.4"/><circle cx="1394.9" cy="630.3" r="4.4"/><circle cx="581.7" cy="478.0" r="3.8"/><circle cx="484.9" cy="494.9" r="3.0"/><circle cx="615.5" cy="552.7" r="3.4"/><circle cx="1341.4" cy="620.0" r="4.0"/><circle cx="1398.5" cy="505.9" r="4.0"/><circle cx="582.8" cy="451.0" r="2.8"/><circle cx="599.6" cy="570.4" r="3.0"/><circle cx="618.0" cy="456.5" r="4.4"/><circle cx="1230.4" cy="498.4" r="5.5"/><circle cx="527.5" cy="501.5" r="3.2"/><circle cx="1147.3" cy="491.6" r="5.5"/><circle cx="1275.9" cy="512.9" r="3.8"/><circle cx="1338.1" cy="555.5" r="4.4"/><circle cx="551.4" cy="485.1" r="3.8"/><circle cx="533.5" cy="476.3" r="3.2"/><circle cx="487.3" cy="563.7" r="2.8"/><circle cx="582.8" cy="529.9" r="3.8"/><circle cx="1211.4" cy="540.4" r="5.5"/><circle cx="1248.4" cy="561.1" r="3.8"/><circle cx="1374.1" cy="604.5" r="3.6"/><circle cx="664.7" cy="572.7" r="3.8"/><circle cx="1263.8" cy="514.4" r="3.6"/><circle cx="715.2" cy="563.3" r="3.8"/><circle cx="636.4" cy="476.0" r="3.0"/><circle cx="1436.4" cy="589.5" r="4.4"/><circle cx="1283.8" cy="628.4" r="4.4"/><circle cx="1387.1" cy="623.1" r="3.4"/><circle cx="629.8" cy="524.2" r="3.0"/><circle cx="602.2" cy="429.8" r="2.8"/><circle cx="650.3" cy="589.9" r="4.0"/><circle cx="428.1" cy="480.8" r="5.5"/><circle cx="598.7" cy="561.1" r="4.0"/><circle cx="1310.2" cy="619.2" r="3.4"/><circle cx="1160.6" cy="453.2" r="3.0"/><circle cx="536.1" cy="466.1" r="3.4"/><circle cx="1433.8" cy="567.1" r="4.0"/><circle cx="1303.4" cy="563.9" r="3.8"/><circle cx="464.2" cy="475.9" r="6.5"/><circle cx="534.6" cy="486.4" r="3.8"/><circle cx="437.3" cy="465.8" r="5.5"/><circle cx="606.8" cy="537.0" r="4.4"/><circle cx="1351.4" cy="653.8" r="3.8"/><circle cx="1199.7" cy="516.2" r="5.0"/><circle cx="435.3" cy="391.5" r="3.8"/><circle cx="1389.2" cy="581.2" r="3.0"/><circle cx="385.9" cy="429.4" r="4.0"/><circle cx="567.5" cy="507.0" r="3.4"/><circle cx="681.8" cy="437.2" r="4.4"/><circle cx="1271.1" cy="558.9" r="3.0"/><circle cx="498.9" cy="531.4" r="3.8"/><circle cx="1327.5" cy="567.4" r="3.8"/><circle cx="1384.6" cy="553.8" r="3.0"/><circle cx="601.2" cy="456.7" r="4.4"/><circle cx="624.7" cy="584.7" r="3.6"/><circle cx="488.1" cy="470.8" r="3.4"/><circle cx="693.0" cy="452.3" r="3.0"/><circle cx="584.6" cy="524.1" r="3.4"/><circle cx="1340.7" cy="590.2" r="4.0"/><circle cx="1244.5" cy="571.2" r="4.0"/><circle cx="500.0" cy="473.4" r="4.4"/><circle cx="1168.8" cy="518.4" r="5.0"/><circle cx="1241.2" cy="558.2" r="4.0"/><circle cx="457.0" cy="480.7" r="4.2"/><circle cx="657.8" cy="620.7" r="4.0"/><circle cx="1141.7" cy="435.4" r="3.8"/><circle cx="1282.3" cy="568.1" r="3.6"/><circle cx="1250.5" cy="508.8" r="4.4"/><circle cx="1341.2" cy="661.6" r="3.0"/><circle cx="1249.6" cy="515.8" r="3.0"/><circle cx="652.2" cy="525.9" r="3.0"/><circle cx="1268.9" cy="543.8" r="4.0"/><circle cx="1352.8" cy="558.6" r="4.4"/><circle cx="1123.8" cy="533.7" r="3.0"/><circle cx="1423.9" cy="656.9" r="3.0"/><circle cx="557.4" cy="434.5" r="2.8"/><circle cx="1312.7" cy="525.5" r="3.6"/><circle cx="1378.7" cy="597.4" r="3.6"/><circle cx="632.4" cy="556.7" r="2.8"/><circle cx="512.3" cy="566.5" r="3.2"/><circle cx="538.2" cy="465.5" r="2.8"/><circle cx="1394.8" cy="657.6" r="3.8"/><circle cx="408.0" cy="461.0" r="3.0"/><circle cx="653.1" cy="474.3" r="4.4"/><circle cx="1146.2" cy="512.1" r="3.8"/><circle cx="1260.0" cy="606.3" r="2.8"/><circle cx="519.9" cy="567.4" r="4.4"/><circle cx="668.8" cy="558.3" r="3.6"/><circle cx="1245.3" cy="518.5" r="4.4"/><circle cx="580.5" cy="506.7" r="3.2"/><circle cx="1428.6" cy="561.5" r="3.4"/><circle cx="499.2" cy="484.9" r="3.8"/><circle cx="696.3" cy="594.3" r="3.6"/><circle cx="1374.5" cy="588.1" r="2.8"/><circle cx="1356.5" cy="584.6" r="3.8"/><circle cx="1391.3" cy="571.1" r="4.4"/><circle cx="1407.7" cy="585.0" r="3.4"/><circle cx="598.2" cy="527.8" r="3.2"/><circle cx="1392.6" cy="624.9" r="3.8"/><circle cx="589.7" cy="488.7" r="3.8"/><circle cx="1278.5" cy="566.0" r="3.6"/><circle cx="1340.4" cy="600.9" r="4.4"/><circle cx="497.8" cy="467.7" r="2.8"/><circle cx="552.9" cy="609.3" r="3.6"/><circle cx="1279.7" cy="560.8" r="2.8"/><circle cx="1344.1" cy="587.9" r="3.8"/><circle cx="1135.0" cy="490.5" r="5.0"/><circle cx="566.0" cy="449.1" r="3.2"/><circle cx="1420.0" cy="607.6" r="3.6"/><circle cx="1210.2" cy="486.4" r="5.5"/><circle cx="1241.4" cy="522.1" r="3.0"/><circle cx="382.0" cy="499.2" r="8.0"/><circle cx="1302.0" cy="616.6" r="2.8"/><circle cx="528.2" cy="531.8" r="3.0"/><circle cx="1436.3" cy="571.5" r="3.6"/><circle cx="687.0" cy="564.0" r="3.6"/><circle cx="580.3" cy="526.8" r="3.2"/><circle cx="1267.8" cy="577.5" r="4.4"/><circle cx="1361.4" cy="481.6" r="3.2"/><circle cx="1247.8" cy="530.0" r="4.0"/><circle cx="1301.7" cy="539.3" r="3.2"/><circle cx="581.1" cy="570.1" r="3.4"/><circle cx="618.7" cy="591.4" r="3.2"/><circle cx="615.9" cy="537.3" r="3.4"/><circle cx="1331.1" cy="519.4" r="3.6"/><circle cx="621.3" cy="493.5" r="3.6"/><circle cx="511.5" cy="504.8" r="3.6"/><circle cx="1298.8" cy="505.8" r="3.6"/><circle cx="1315.2" cy="589.4" r="2.8"/><circle cx="1384.9" cy="483.4" r="3.2"/><circle cx="624.7" cy="570.1" r="3.8"/><circle cx="502.0" cy="439.8" r="4.4"/><circle cx="1436.1" cy="615.1" r="4.0"/><circle cx="1260.6" cy="512.1" r="4.4"/><circle cx="539.6" cy="581.8" r="3.4"/><circle cx="636.1" cy="440.3" r="3.6"/><circle cx="520.7" cy="476.9" r="3.4"/><circle cx="1390.6" cy="584.1" r="2.8"/><circle cx="557.5" cy="504.4" r="3.8"/><circle cx="381.3" cy="364.1" r="6.0"/><circle cx="1350.1" cy="618.4" r="2.8"/><circle cx="535.3" cy="515.7" r="3.6"/><circle cx="472.7" cy="466.3" r="4.6"/><circle cx="677.5" cy="487.3" r="3.8"/><circle cx="667.4" cy="535.9" r="3.8"/><circle cx="1436.2" cy="590.7" r="4.0"/><circle cx="1332.4" cy="571.0" r="3.6"/><circle cx="1206.0" cy="598.9" r="4.2"/><circle cx="1339.4" cy="588.8" r="3.2"/><circle cx="1335.3" cy="586.7" r="3.2"/><circle cx="1368.8" cy="648.7" r="3.6"/><circle cx="1369.3" cy="580.9" r="3.8"/><circle cx="1231.2" cy="533.4" r="3.4"/><circle cx="545.5" cy="510.0" r="2.8"/><circle cx="1233.2" cy="489.4" r="3.8"/><circle cx="501.8" cy="611.9" r="3.4"/><circle cx="636.1" cy="580.8" r="4.4"/><circle cx="1228.1" cy="522.4" r="4.4"/><circle cx="334.3" cy="446.0" r="8.0"/><circle cx="1392.8" cy="466.6" r="3.6"/><circle cx="1251.2" cy="526.4" r="3.8"/><circle cx="422.5" cy="461.0" r="4.2"/><circle cx="651.4" cy="543.7" r="3.4"/><circle cx="1387.4" cy="556.9" r="4.4"/><circle cx="1385.2" cy="588.1" r="3.6"/><circle cx="1296.1" cy="624.1" r="3.2"/><circle cx="1289.0" cy="509.4" r="3.6"/><circle cx="583.6" cy="450.2" r="4.0"/><circle cx="1336.7" cy="491.5" r="3.4"/><circle cx="439.7" cy="427.0" r="4.2"/><circle cx="1375.5" cy="601.4" r="3.2"/><circle cx="630.8" cy="563.4" r="3.8"/><circle cx="1427.7" cy="588.6" r="3.2"/><circle cx="607.5" cy="402.0" r="3.4"/><circle cx="1370.7" cy="636.1" r="4.4"/><circle cx="1128.0" cy="527.5" r="3.0"/><circle cx="568.8" cy="446.5" r="2.8"/><circle cx="1277.2" cy="553.7" r="3.0"/><circle cx="633.8" cy="569.7" r="4.0"/><circle cx="691.1" cy="569.9" r="3.0"/><circle cx="1237.4" cy="543.2" r="3.0"/><circle cx="1388.2" cy="607.7" r="2.8"/><circle cx="574.0" cy="493.6" r="3.6"/><circle cx="1339.3" cy="606.7" r="4.4"/><circle cx="401.4" cy="411.6" r="3.4"/><circle cx="649.9" cy="539.5" r="4.4"/><circle cx="660.4" cy="556.3" r="4.4"/><circle cx="1349.1" cy="598.8" r="3.4"/><circle cx="1264.0" cy="564.8" r="3.2"/><circle cx="390.8" cy="382.8" r="5.0"/><circle cx="1141.1" cy="547.2" r="3.0"/><circle cx="1350.2" cy="509.7" r="3.4"/><circle cx="1355.9" cy="577.2" r="4.0"/><circle cx="598.3" cy="511.2" r="3.0"/><circle cx="572.6" cy="484.0" r="4.4"/><circle cx="1430.6" cy="612.7" r="4.0"/><circle cx="475.9" cy="475.2" r="5.5"/><circle cx="1246.4" cy="517.2" r="3.2"/><circle cx="1350.0" cy="571.1" r="3.6"/><circle cx="581.5" cy="532.6" r="3.0"/><circle cx="537.1" cy="558.1" r="3.2"/><circle cx="1369.9" cy="620.2" r="3.4"/><circle cx="1350.8" cy="570.6" r="2.8"/><circle cx="642.5" cy="483.5" r="2.8"/><circle cx="1212.2" cy="527.3" r="4.6"/><circle cx="620.2" cy="534.4" r="3.0"/><circle cx="1221.3" cy="654.4" r="3.8"/><circle cx="1340.3" cy="542.8" r="3.0"/><circle cx="1301.3" cy="553.7" r="2.8"/><circle cx="570.0" cy="441.3" r="2.8"/><circle cx="707.3" cy="562.8" r="3.2"/><circle cx="662.3" cy="573.9" r="3.0"/><circle cx="593.3" cy="508.3" r="3.4"/><circle cx="508.2" cy="467.1" r="3.4"/><circle cx="683.1" cy="469.9" r="3.8"/><circle cx="1120.7" cy="457.5" r="4.0"/><circle cx="622.7" cy="555.2" r="3.6"/><circle cx="604.7" cy="569.4" r="4.0"/><circle cx="1320.4" cy="553.5" r="3.2"/><circle cx="1360.6" cy="552.3" r="3.4"/><circle cx="1379.6" cy="634.0" r="3.8"/><circle cx="1442.0" cy="631.4" r="3.8"/><circle cx="649.3" cy="552.2" r="3.4"/><circle cx="498.8" cy="501.3" r="3.0"/><circle cx="449.4" cy="484.5" r="4.6"/><circle cx="659.1" cy="512.1" r="3.6"/><circle cx="1389.8" cy="608.5" r="3.4"/><circle cx="1404.4" cy="557.2" r="3.0"/><circle cx="1369.4" cy="581.1" r="3.4"/><circle cx="525.6" cy="510.5" r="3.0"/><circle cx="587.1" cy="445.7" r="4.4"/><circle cx="567.2" cy="506.1" r="4.0"/><circle cx="1352.5" cy="531.0" r="2.8"/><circle cx="621.1" cy="481.5" r="3.6"/><circle cx="1381.7" cy="672.9" r="3.6"/><circle cx="540.1" cy="490.8" r="4.4"/><circle cx="1280.4" cy="553.8" r="3.6"/><circle cx="1353.5" cy="645.7" r="4.4"/><circle cx="467.4" cy="463.5" r="3.8"/><circle cx="1383.9" cy="617.7" r="4.0"/><circle cx="681.1" cy="593.9" r="2.8"/><circle cx="1374.0" cy="630.9" r="3.8"/><circle cx="626.8" cy="430.1" r="3.6"/><circle cx="590.0" cy="449.7" r="3.8"/><circle cx="1263.8" cy="517.0" r="4.4"/><circle cx="1232.7" cy="487.3" r="3.8"/><circle cx="558.2" cy="463.4" r="3.2"/><circle cx="1260.6" cy="577.3" r="3.2"/><circle cx="1153.9" cy="455.6" r="6.5"/><circle cx="1365.5" cy="631.5" r="3.4"/><circle cx="1148.5" cy="493.5" r="4.2"/><circle cx="611.2" cy="580.1" r="3.2"/><circle cx="1229.1" cy="580.1" r="3.2"/><circle cx="1282.8" cy="547.9" r="3.4"/><circle cx="712.0" cy="511.6" r="2.8"/><circle cx="1223.6" cy="603.7" r="5.5"/><circle cx="642.2" cy="545.7" r="3.8"/><circle cx="1268.3" cy="553.0" r="3.0"/><circle cx="694.6" cy="495.6" r="3.2"/><circle cx="640.8" cy="570.4" r="4.0"/><circle cx="435.3" cy="494.5" r="3.8"/><circle cx="498.0" cy="501.9" r="3.8"/><circle cx="380.3" cy="482.3" r="3.5"/><circle cx="705.8" cy="432.8" r="3.4"/><circle cx="1222.1" cy="569.3" r="3.8"/><circle cx="1311.5" cy="528.7" r="3.8"/><circle cx="1366.7" cy="624.2" r="2.8"/><circle cx="600.9" cy="574.0" r="3.2"/><circle cx="1326.6" cy="579.4" r="4.0"/><circle cx="1348.9" cy="635.2" r="3.0"/><circle cx="527.9" cy="463.7" r="3.0"/><circle cx="609.7" cy="476.0" r="3.2"/><circle cx="1201.8" cy="519.0" r="4.2"/><circle cx="528.9" cy="555.7" r="3.4"/><circle cx="1303.7" cy="567.8" r="2.8"/><circle cx="401.7" cy="429.8" r="6.5"/><circle cx="490.6" cy="565.5" r="6.5"/><circle cx="530.6" cy="585.1" r="3.8"/><circle cx="1295.1" cy="620.6" r="3.6"/><circle cx="1303.3" cy="554.2" r="3.4"/><circle cx="1396.8" cy="655.5" r="3.4"/><circle cx="1347.2" cy="613.5" r="3.2"/><circle cx="583.6" cy="468.8" r="3.2"/><circle cx="581.3" cy="542.7" r="4.4"/><circle cx="529.1" cy="461.5" r="4.0"/><circle cx="1264.8" cy="509.4" r="3.0"/><circle cx="1416.7" cy="618.0" r="3.2"/><circle cx="1302.9" cy="546.1" r="2.8"/><circle cx="1280.0" cy="545.2" r="3.6"/><circle cx="1383.9" cy="606.2" r="4.0"/><circle cx="1334.6" cy="612.8" r="3.4"/><circle cx="662.7" cy="557.5" r="3.2"/><circle cx="548.9" cy="528.2" r="3.2"/><circle cx="469.8" cy="494.3" r="3.8"/><circle cx="1439.9" cy="620.4" r="3.6"/><circle cx="544.9" cy="497.0" r="4.4"/><circle cx="1373.1" cy="572.3" r="2.8"/><circle cx="553.4" cy="478.2" r="4.4"/><circle cx="693.8" cy="555.0" r="2.8"/><circle cx="648.2" cy="546.5" r="2.8"/><circle cx="506.2" cy="484.4" r="3.0"/><circle cx="1263.4" cy="539.6" r="3.8"/><circle cx="1149.7" cy="503.0" r="3.0"/><circle cx="1118.8" cy="491.6" r="8.0"/><circle cx="1391.3" cy="552.7" r="2.8"/><circle cx="347.6" cy="448.2" r="5.0"/><circle cx="1319.0" cy="645.4" r="3.6"/><circle cx="425.5" cy="454.0" r="5.5"/><circle cx="1333.2" cy="611.0" r="3.4"/><circle cx="549.0" cy="470.9" r="3.4"/><circle cx="1188.1" cy="535.2" r="6.5"/><circle cx="1265.6" cy="558.2" r="3.6"/><circle cx="636.8" cy="568.3" r="3.8"/><circle cx="1299.0" cy="604.1" r="2.8"/><circle cx="607.2" cy="529.8" r="2.8"/><circle cx="485.9" cy="482.3" r="3.2"/><circle cx="544.9" cy="467.8" r="3.8"/><circle cx="527.9" cy="464.0" r="3.8"/><circle cx="461.7" cy="483.1" r="3.4"/><circle cx="472.9" cy="481.8" r="4.6"/><circle cx="1292.6" cy="540.3" r="4.4"/><circle cx="546.9" cy="507.4" r="3.6"/><circle cx="692.2" cy="424.2" r="3.8"/><circle cx="1344.6" cy="541.3" r="3.6"/><circle cx="557.0" cy="510.3" r="3.8"/><circle cx="1327.5" cy="416.8" r="3.6"/><circle cx="1258.2" cy="565.3" r="4.0"/><circle cx="582.2" cy="529.6" r="3.4"/><circle cx="616.5" cy="546.2" r="3.0"/><circle cx="1225.7" cy="486.8" r="3.0"/><circle cx="1398.4" cy="552.6" r="3.2"/><circle cx="1367.7" cy="657.8" r="3.2"/><circle cx="1237.9" cy="549.1" r="4.0"/><circle cx="1400.6" cy="510.6" r="3.6"/><circle cx="567.7" cy="630.4" r="4.4"/><circle cx="1389.1" cy="541.8" r="3.2"/><circle cx="510.2" cy="494.5" r="3.0"/><circle cx="1372.9" cy="608.0" r="3.2"/><circle cx="1404.8" cy="574.9" r="3.8"/><circle cx="677.3" cy="539.0" r="3.0"/><circle cx="620.4" cy="552.6" r="4.4"/><circle cx="1345.4" cy="588.6" r="3.0"/><circle cx="594.7" cy="505.4" r="2.8"/><circle cx="612.6" cy="508.7" r="3.2"/><circle cx="1241.0" cy="584.9" r="2.8"/><circle cx="1309.0" cy="585.3" r="3.0"/><circle cx="627.3" cy="493.5" r="3.0"/><circle cx="568.6" cy="506.9" r="4.0"/><circle cx="1151.7" cy="466.5" r="3.0"/><circle cx="516.2" cy="434.4" r="4.0"/><circle cx="1247.1" cy="564.6" r="2.8"/><circle cx="518.0" cy="579.8" r="3.6"/><circle cx="643.8" cy="580.9" r="3.2"/><circle cx="1353.4" cy="608.3" r="2.8"/><circle cx="620.6" cy="530.2" r="3.0"/><circle cx="1360.3" cy="564.2" r="3.8"/><circle cx="474.4" cy="506.4" r="5.5"/><circle cx="1194.2" cy="542.7" r="5.0"/><circle cx="537.6" cy="536.9" r="3.8"/><circle cx="1295.6" cy="501.8" r="4.0"/><circle cx="539.6" cy="465.7" r="3.6"/><circle cx="575.9" cy="488.8" r="3.8"/><circle cx="1210.4" cy="530.6" r="3.0"/><circle cx="1289.5" cy="491.9" r="3.8"/><circle cx="1167.1" cy="535.0" r="3.0"/><circle cx="1070.7" cy="471.7" r="7.0"/><circle cx="1311.1" cy="586.7" r="3.2"/><circle cx="567.0" cy="511.9" r="3.4"/><circle cx="1282.7" cy="537.3" r="3.6"/><circle cx="1309.2" cy="567.7" r="3.4"/><circle cx="627.1" cy="540.9" r="3.2"/><circle cx="580.5" cy="431.2" r="3.6"/><circle cx="1276.3" cy="491.4" r="4.4"/><circle cx="576.1" cy="441.3" r="3.2"/><circle cx="523.6" cy="485.2" r="3.8"/><circle cx="674.1" cy="582.6" r="3.8"/><circle cx="625.1" cy="520.1" r="3.6"/><circle cx="1233.1" cy="564.7" r="3.8"/><circle cx="654.8" cy="556.8" r="3.2"/><circle cx="1161.7" cy="473.3" r="4.2"/><circle cx="601.2" cy="544.2" r="3.0"/><circle cx="1387.9" cy="582.5" r="4.4"/><circle cx="554.5" cy="505.6" r="2.8"/><circle cx="1238.8" cy="583.6" r="4.4"/><circle cx="540.8" cy="466.4" r="2.8"/><circle cx="1183.7" cy="506.5" r="4.2"/><circle cx="1371.0" cy="637.0" r="4.0"/><circle cx="540.8" cy="459.9" r="3.8"/><circle cx="1400.8" cy="629.3" r="4.4"/><circle cx="1108.9" cy="563.0" r="4.0"/><circle cx="684.2" cy="501.8" r="3.4"/><circle cx="643.8" cy="528.8" r="3.8"/><circle cx="1181.9" cy="538.8" r="6.5"/><circle cx="688.1" cy="506.7" r="4.0"/><circle cx="534.1" cy="448.8" r="3.8"/><circle cx="671.8" cy="519.8" r="3.0"/><circle cx="584.7" cy="521.7" r="3.2"/><circle cx="729.8" cy="527.6" r="4.0"/><circle cx="642.9" cy="593.8" r="3.4"/><circle cx="1336.8" cy="593.1" r="3.4"/><circle cx="663.6" cy="526.0" r="3.6"/><circle cx="1186.6" cy="459.0" r="4.2"/><circle cx="1334.2" cy="622.4" r="4.0"/><circle cx="1270.2" cy="595.2" r="3.8"/><circle cx="1247.8" cy="516.5" r="4.0"/><circle cx="1259.7" cy="544.6" r="3.2"/><circle cx="611.7" cy="472.1" r="3.6"/><circle cx="672.6" cy="512.3" r="3.6"/><circle cx="1349.7" cy="546.3" r="2.8"/><circle cx="1260.6" cy="495.7" r="3.4"/><circle cx="453.9" cy="475.8" r="4.2"/><circle cx="649.6" cy="576.1" r="4.0"/><circle cx="1371.4" cy="583.5" r="3.4"/><circle cx="525.7" cy="456.1" r="4.4"/><circle cx="1393.8" cy="615.0" r="4.0"/><circle cx="576.4" cy="523.2" r="4.4"/><circle cx="1367.6" cy="601.1" r="2.8"/><circle cx="1361.1" cy="603.7" r="3.8"/><circle cx="1441.9" cy="504.0" r="4.4"/><circle cx="1372.5" cy="551.5" r="3.4"/><circle cx="609.7" cy="518.7" r="3.8"/><circle cx="1170.1" cy="523.3" r="3.4"/><circle cx="1263.2" cy="544.2" r="3.6"/><circle cx="558.1" cy="486.8" r="4.0"/><circle cx="500.5" cy="467.2" r="3.8"/><circle cx="1284.6" cy="525.0" r="4.4"/><circle cx="505.0" cy="480.2" r="2.8"/><circle cx="631.8" cy="620.9" r="3.8"/><circle cx="1350.5" cy="572.2" r="4.0"/><circle cx="646.7" cy="563.3" r="3.2"/><circle cx="633.6" cy="536.0" r="3.4"/><circle cx="1385.2" cy="616.4" r="4.4"/><circle cx="1243.0" cy="542.2" r="3.8"/><circle cx="1280.8" cy="544.0" r="3.8"/><circle cx="362.5" cy="419.2" r="3.5"/><circle cx="527.3" cy="475.4" r="4.0"/><circle cx="569.0" cy="535.4" r="3.6"/><circle cx="1337.7" cy="630.0" r="3.6"/><circle cx="1381.2" cy="617.5" r="4.4"/><circle cx="1239.5" cy="544.8" r="3.8"/><circle cx="674.7" cy="528.9" r="3.0"/><circle cx="1325.5" cy="595.4" r="4.0"/><circle cx="1375.1" cy="558.9" r="4.0"/><circle cx="1447.5" cy="577.2" r="3.8"/><circle cx="559.7" cy="443.7" r="3.2"/><circle cx="1297.9" cy="591.2" r="3.4"/><circle cx="1285.7" cy="558.4" r="3.6"/><circle cx="426.7" cy="452.5" r="6.5"/><circle cx="588.1" cy="418.2" r="4.0"/><circle cx="621.2" cy="524.4" r="3.2"/><circle cx="1222.3" cy="639.1" r="2.8"/><circle cx="386.0" cy="468.1" r="5.0"/><circle cx="572.5" cy="502.5" r="3.2"/><circle cx="594.6" cy="483.8" r="3.6"/><circle cx="1141.7" cy="437.1" r="3.0"/><circle cx="1244.3" cy="590.7" r="4.0"/><circle cx="1241.1" cy="529.3" r="4.0"/><circle cx="469.4" cy="464.6" r="6.5"/><circle cx="536.9" cy="513.9" r="3.2"/><circle cx="550.1" cy="464.2" r="3.6"/><circle cx="604.4" cy="481.8" r="3.2"/><circle cx="1430.9" cy="588.7" r="2.8"/><circle cx="1323.2" cy="559.1" r="4.0"/><circle cx="650.3" cy="542.9" r="3.8"/><circle cx="629.2" cy="560.2" r="3.6"/><circle cx="1262.0" cy="590.8" r="2.8"/><circle cx="612.6" cy="551.9" r="3.0"/><circle cx="440.5" cy="420.8" r="4.6"/><circle cx="1300.0" cy="556.2" r="3.0"/><circle cx="591.7" cy="523.3" r="3.8"/><circle cx="368.7" cy="391.2" r="7.0"/><circle cx="1220.4" cy="525.3" r="3.4"/><circle cx="1267.7" cy="509.3" r="3.8"/><circle cx="1348.3" cy="555.5" r="3.6"/><circle cx="1317.1" cy="544.6" r="3.0"/><circle cx="1374.3" cy="639.3" r="3.2"/><circle cx="1305.9" cy="646.6" r="3.0"/><circle cx="672.7" cy="514.8" r="4.4"/><circle cx="1347.4" cy="668.0" r="4.0"/><circle cx="1283.7" cy="536.0" r="3.6"/><circle cx="449.2" cy="456.1" r="4.2"/><circle cx="542.1" cy="475.3" r="3.6"/><circle cx="1337.3" cy="570.2" r="3.8"/><circle cx="559.2" cy="515.9" r="3.2"/><circle cx="1297.1" cy="610.0" r="3.2"/><circle cx="1406.6" cy="605.3" r="4.4"/><circle cx="1139.6" cy="520.5" r="4.2"/><circle cx="642.9" cy="560.4" r="3.4"/><circle cx="655.9" cy="566.0" r="2.8"/><circle cx="1312.9" cy="534.8" r="4.0"/><circle cx="531.1" cy="460.8" r="4.0"/><circle cx="1374.0" cy="533.3" r="3.0"/><circle cx="1322.3" cy="663.0" r="3.0"/><circle cx="673.9" cy="551.5" r="3.2"/><circle cx="603.2" cy="606.5" r="4.0"/><circle cx="631.4" cy="583.5" r="4.4"/><circle cx="1215.3" cy="527.4" r="3.0"/><circle cx="1382.2" cy="674.5" r="3.6"/><circle cx="1185.2" cy="412.7" r="4.6"/><circle cx="519.1" cy="477.6" r="4.4"/><circle cx="1401.4" cy="588.4" r="3.4"/><circle cx="1355.5" cy="562.2" r="2.8"/><circle cx="614.8" cy="517.4" r="3.0"/><circle cx="537.7" cy="502.7" r="4.0"/><circle cx="1382.8" cy="613.8" r="3.8"/><circle cx="453.1" cy="402.2" r="3.8"/><circle cx="593.5" cy="570.0" r="3.8"/><circle cx="583.0" cy="533.8" r="3.0"/><circle cx="1302.4" cy="556.0" r="4.4"/><circle cx="1178.5" cy="462.1" r="4.2"/><circle cx="1212.4" cy="569.4" r="3.0"/><circle cx="551.8" cy="441.2" r="2.8"/><circle cx="1372.8" cy="669.7" r="2.8"/><circle cx="1389.5" cy="606.6" r="3.8"/><circle cx="1272.4" cy="569.9" r="3.8"/><circle cx="550.9" cy="417.8" r="3.2"/><circle cx="1264.7" cy="511.5" r="3.4"/><circle cx="1242.8" cy="626.9" r="4.4"/><circle cx="409.0" cy="440.2" r="5.0"/><circle cx="607.9" cy="564.4" r="4.0"/><circle cx="529.8" cy="500.0" r="3.8"/><circle cx="575.9" cy="416.0" r="3.8"/><circle cx="697.0" cy="515.4" r="3.0"/><circle cx="1365.6" cy="594.8" r="3.8"/><circle cx="1239.9" cy="486.6" r="4.0"/><circle cx="1248.0" cy="579.8" r="3.2"/><circle cx="653.1" cy="533.8" r="3.4"/><circle cx="1333.7" cy="519.4" r="2.8"/><circle cx="1362.4" cy="580.8" r="2.8"/><circle cx="496.1" cy="509.0" r="2.8"/><circle cx="547.3" cy="561.5" r="3.8"/><circle cx="637.5" cy="489.7" r="4.4"/><circle cx="632.8" cy="587.8" r="3.8"/><circle cx="1412.2" cy="554.2" r="3.0"/><circle cx="566.8" cy="497.5" r="3.2"/><circle cx="1234.4" cy="519.3" r="3.0"/><circle cx="1262.5" cy="587.7" r="3.8"/><circle cx="520.5" cy="545.8" r="3.0"/><circle cx="625.8" cy="600.9" r="3.0"/><circle cx="1353.1" cy="511.0" r="3.4"/><circle cx="513.2" cy="579.2" r="3.6"/><circle cx="421.2" cy="391.8" r="5.5"/><circle cx="587.5" cy="482.4" r="2.8"/><circle cx="562.2" cy="460.3" r="3.0"/><circle cx="1389.8" cy="615.3" r="3.0"/><circle cx="523.4" cy="451.5" r="3.4"/><circle cx="509.6" cy="467.8" r="2.8"/><circle cx="610.4" cy="463.4" r="3.2"/><circle cx="1359.5" cy="603.6" r="2.8"/><circle cx="1339.2" cy="577.0" r="3.8"/><circle cx="525.9" cy="509.1" r="4.0"/><circle cx="357.1" cy="471.3" r="4.0"/><circle cx="1240.0" cy="541.3" r="3.2"/><circle cx="1276.1" cy="600.3" r="2.8"/><circle cx="1398.6" cy="510.5" r="3.4"/><circle cx="499.1" cy="500.7" r="3.2"/><circle cx="628.6" cy="513.5" r="4.0"/><circle cx="1107.2" cy="479.0" r="5.0"/><circle cx="673.5" cy="596.4" r="3.0"/><circle cx="635.8" cy="585.9" r="3.2"/><circle cx="1265.7" cy="584.1" r="3.2"/><circle cx="1378.7" cy="630.2" r="3.4"/><circle cx="468.6" cy="415.3" r="3.8"/><circle cx="628.0" cy="585.6" r="3.4"/><circle cx="714.6" cy="513.5" r="3.6"/><circle cx="1311.3" cy="590.8" r="4.0"/><circle cx="593.7" cy="507.3" r="3.6"/><circle cx="560.9" cy="534.4" r="2.8"/><circle cx="1306.7" cy="537.1" r="3.6"/><circle cx="585.3" cy="584.0" r="4.4"/><circle cx="698.8" cy="501.1" r="2.8"/><circle cx="416.8" cy="458.7" r="3.0"/><circle cx="460.6" cy="443.2" r="5.0"/><circle cx="533.6" cy="461.3" r="3.6"/><circle cx="634.5" cy="532.7" r="3.6"/><circle cx="632.7" cy="493.0" r="3.4"/><circle cx="1295.0" cy="518.7" r="3.6"/><circle cx="1313.9" cy="571.3" r="2.8"/><circle cx="1165.5" cy="481.6" r="5.0"/><circle cx="1357.4" cy="626.7" r="4.0"/><circle cx="417.4" cy="499.8" r="3.4"/><circle cx="648.4" cy="580.3" r="3.4"/><circle cx="613.1" cy="513.2" r="3.8"/><circle cx="1231.4" cy="488.0" r="5.5"/><circle cx="500.9" cy="496.7" r="2.8"/><circle cx="1219.8" cy="518.0" r="4.6"/><circle cx="1259.7" cy="604.1" r="3.8"/><circle cx="1335.7" cy="508.2" r="3.2"/><circle cx="1275.1" cy="610.8" r="3.0"/><circle cx="1220.7" cy="540.1" r="3.8"/><circle cx="431.7" cy="488.5" r="3.0"/><circle cx="1369.7" cy="611.1" r="3.8"/><circle cx="1133.0" cy="481.3" r="4.5"/><circle cx="1382.5" cy="637.0" r="4.4"/><circle cx="1366.2" cy="607.6" r="2.8"/><circle cx="334.0" cy="453.6" r="4.0"/><circle cx="624.0" cy="491.6" r="2.8"/><circle cx="1264.4" cy="517.4" r="2.8"/><circle cx="1320.0" cy="543.9" r="3.0"/><circle cx="536.5" cy="421.5" r="3.4"/><circle cx="501.7" cy="513.4" r="4.0"/><circle cx="1296.0" cy="441.7" r="4.0"/><circle cx="654.1" cy="520.6" r="3.8"/><circle cx="1359.2" cy="577.6" r="3.2"/><circle cx="1199.8" cy="503.8" r="5.0"/><circle cx="649.2" cy="517.6" r="2.8"/><circle cx="691.1" cy="609.4" r="3.8"/><circle cx="641.0" cy="569.4" r="4.0"/><circle cx="1379.2" cy="595.8" r="3.0"/><circle cx="1290.6" cy="605.9" r="3.4"/><circle cx="1295.5" cy="566.8" r="3.4"/><circle cx="1453.1" cy="589.6" r="3.4"/><circle cx="1338.0" cy="581.5" r="3.2"/><circle cx="1280.5" cy="617.6" r="2.8"/><circle cx="640.3" cy="550.9" r="3.6"/><circle cx="402.0" cy="459.5" r="4.6"/><circle cx="527.5" cy="574.0" r="2.8"/><circle cx="642.9" cy="550.8" r="4.0"/><circle cx="1257.3" cy="560.6" r="4.4"/><circle cx="1320.6" cy="588.5" r="4.4"/><circle cx="614.6" cy="564.7" r="4.0"/><circle cx="1421.9" cy="558.3" r="3.8"/><circle cx="443.2" cy="477.7" r="3.8"/><circle cx="1317.8" cy="640.9" r="3.2"/><circle cx="1201.1" cy="507.2" r="5.5"/><circle cx="636.7" cy="519.4" r="3.8"/><circle cx="532.9" cy="465.0" r="2.8"/><circle cx="619.6" cy="431.1" r="3.0"/><circle cx="608.4" cy="587.7" r="2.8"/><circle cx="665.8" cy="379.0" r="3.6"/><circle cx="636.2" cy="588.1" r="3.8"/><circle cx="1271.1" cy="527.1" r="2.8"/><circle cx="1349.1" cy="516.9" r="3.0"/><circle cx="636.6" cy="478.3" r="4.4"/><circle cx="1181.1" cy="541.9" r="4.6"/><circle cx="606.2" cy="626.7" r="3.0"/><circle cx="379.2" cy="494.9" r="3.0"/><circle cx="1340.9" cy="620.8" r="3.0"/><circle cx="559.2" cy="570.2" r="4.4"/><circle cx="1135.4" cy="507.5" r="3.0"/><circle cx="1179.6" cy="499.3" r="3.4"/><circle cx="1434.3" cy="547.7" r="4.0"/><circle cx="1360.2" cy="562.7" r="3.0"/><circle cx="1269.2" cy="645.5" r="3.2"/><circle cx="1175.6" cy="439.6" r="4.2"/><circle cx="475.2" cy="507.8" r="4.6"/><circle cx="520.1" cy="550.3" r="3.0"/><circle cx="551.0" cy="491.6" r="3.2"/><circle cx="658.2" cy="487.6" r="4.4"/><circle cx="536.1" cy="480.7" r="3.6"/><circle cx="1349.5" cy="598.0" r="4.0"/><circle cx="386.3" cy="427.6" r="6.5"/><circle cx="1203.4" cy="472.0" r="3.4"/><circle cx="1394.6" cy="579.8" r="4.0"/><circle cx="550.2" cy="506.5" r="3.6"/><circle cx="532.3" cy="473.2" r="4.4"/><circle cx="595.2" cy="530.5" r="3.0"/><circle cx="544.3" cy="510.1" r="2.8"/><circle cx="686.3" cy="502.5" r="4.4"/><circle cx="529.0" cy="451.1" r="4.0"/><circle cx="1310.8" cy="523.4" r="4.0"/><circle cx="1318.2" cy="602.6" r="3.0"/><circle cx="1379.0" cy="548.8" r="3.8"/><circle cx="642.6" cy="542.4" r="4.4"/><circle cx="681.6" cy="496.4" r="2.8"/><circle cx="598.0" cy="593.9" r="4.0"/><circle cx="416.4" cy="479.3" r="4.2"/><circle cx="1317.8" cy="550.5" r="3.6"/><circle cx="574.6" cy="444.3" r="2.8"/><circle cx="515.3" cy="510.5" r="4.4"/><circle cx="388.7" cy="454.4" r="5.5"/><circle cx="672.5" cy="406.1" r="3.2"/><circle cx="375.9" cy="453.3" r="6.5"/><circle cx="1337.9" cy="595.4" r="3.4"/><circle cx="532.2" cy="516.8" r="3.8"/><circle cx="594.5" cy="572.2" r="3.4"/><circle cx="1336.2" cy="634.5" r="4.0"/><circle cx="1337.0" cy="569.3" r="3.8"/><circle cx="551.6" cy="457.6" r="4.0"/><circle cx="415.2" cy="402.1" r="5.5"/><circle cx="1416.3" cy="541.4" r="3.6"/><circle cx="630.5" cy="591.5" r="2.8"/><circle cx="1299.0" cy="539.8" r="4.0"/><circle cx="613.1" cy="505.7" r="4.0"/><circle cx="495.5" cy="504.3" r="4.6"/><circle cx="584.2" cy="472.1" r="3.6"/><circle cx="1385.8" cy="611.3" r="4.4"/><circle cx="681.2" cy="550.0" r="3.6"/><circle cx="1373.2" cy="523.5" r="3.2"/><circle cx="1390.7" cy="577.4" r="3.8"/><circle cx="613.3" cy="601.2" r="4.0"/><circle cx="556.8" cy="485.8" r="3.4"/><circle cx="1241.8" cy="551.5" r="3.6"/><circle cx="1381.0" cy="545.7" r="3.0"/><circle cx="530.4" cy="516.7" r="4.4"/><circle cx="1205.8" cy="517.5" r="5.0"/><circle cx="1301.4" cy="563.4" r="3.4"/><circle cx="1198.2" cy="606.4" r="3.4"/><circle cx="644.9" cy="453.5" r="3.4"/><circle cx="1369.1" cy="625.8" r="2.8"/><circle cx="631.5" cy="537.8" r="3.8"/><circle cx="416.9" cy="489.9" r="3.0"/><circle cx="546.7" cy="475.5" r="3.6"/><circle cx="577.5" cy="493.1" r="3.6"/><circle cx="1382.2" cy="664.7" r="3.6"/><circle cx="560.3" cy="498.3" r="3.2"/><circle cx="1342.2" cy="575.7" r="2.8"/><circle cx="1238.2" cy="571.4" r="3.2"/><circle cx="623.1" cy="474.6" r="4.0"/><circle cx="1243.9" cy="540.7" r="2.8"/><circle cx="530.7" cy="535.2" r="2.8"/><circle cx="1311.4" cy="563.0" r="3.8"/><circle cx="621.6" cy="528.9" r="2.8"/><circle cx="411.3" cy="458.0" r="4.6"/><circle cx="1277.5" cy="550.2" r="4.0"/><circle cx="1272.2" cy="536.7" r="3.2"/><circle cx="1183.2" cy="493.8" r="5.5"/><circle cx="407.7" cy="443.2" r="3.0"/><circle cx="594.7" cy="465.5" r="4.4"/><circle cx="1255.2" cy="489.2" r="3.0"/><circle cx="609.1" cy="480.2" r="2.8"/><circle cx="1340.4" cy="541.7" r="4.4"/><circle cx="567.9" cy="409.0" r="3.4"/><circle cx="604.2" cy="537.9" r="3.8"/><circle cx="581.3" cy="520.3" r="3.4"/><circle cx="693.2" cy="551.2" r="3.2"/><circle cx="1418.8" cy="658.8" r="3.2"/><circle cx="594.3" cy="553.3" r="4.4"/><circle cx="621.6" cy="614.3" r="2.8"/><circle cx="519.6" cy="444.4" r="3.2"/><circle cx="510.5" cy="503.6" r="3.0"/><circle cx="573.3" cy="488.3" r="4.4"/><circle cx="447.3" cy="390.9" r="3.4"/><circle cx="363.1" cy="378.8" r="3.5"/><circle cx="547.5" cy="489.7" r="2.8"/><circle cx="673.9" cy="491.9" r="3.4"/><circle cx="647.4" cy="591.4" r="4.4"/><circle cx="658.5" cy="525.7" r="3.6"/><circle cx="1328.7" cy="609.9" r="3.6"/><circle cx="590.6" cy="607.5" r="3.8"/><circle cx="1251.9" cy="527.7" r="3.4"/><circle cx="1327.5" cy="613.6" r="3.8"/><circle cx="1211.8" cy="487.4" r="4.6"/><circle cx="1388.8" cy="566.3" r="3.4"/><circle cx="564.1" cy="527.8" r="3.8"/><circle cx="1178.5" cy="558.2" r="3.4"/><circle cx="1286.0" cy="555.6" r="3.8"/><circle cx="529.3" cy="478.7" r="3.2"/><circle cx="1186.5" cy="582.8" r="3.4"/><circle cx="495.7" cy="531.2" r="3.6"/><circle cx="538.8" cy="413.8" r="3.0"/><circle cx="504.3" cy="450.9" r="3.4"/><circle cx="1412.2" cy="568.5" r="3.6"/><circle cx="1286.1" cy="555.8" r="3.8"/><circle cx="1322.8" cy="621.2" r="3.0"/><circle cx="1430.0" cy="581.2" r="3.2"/><circle cx="1268.7" cy="582.4" r="3.4"/><circle cx="560.3" cy="490.9" r="2.8"/><circle cx="482.1" cy="463.3" r="3.2"/><circle cx="1420.1" cy="516.7" r="4.0"/><circle cx="658.3" cy="498.7" r="3.0"/><circle cx="1277.4" cy="581.8" r="3.4"/><circle cx="1387.6" cy="577.5" r="3.2"/><circle cx="1228.4" cy="509.8" r="3.0"/><circle cx="1315.1" cy="602.5" r="3.0"/><circle cx="520.7" cy="456.6" r="3.4"/><circle cx="510.5" cy="517.3" r="3.8"/><circle cx="620.9" cy="456.7" r="3.2"/><circle cx="509.8" cy="526.6" r="3.2"/><circle cx="1412.3" cy="625.1" r="2.8"/><circle cx="1237.5" cy="538.3" r="3.6"/><circle cx="604.9" cy="579.7" r="4.0"/><circle cx="383.7" cy="447.5" r="5.5"/><circle cx="1318.5" cy="554.3" r="4.0"/><circle cx="1371.1" cy="570.3" r="2.8"/><circle cx="651.2" cy="518.7" r="3.2"/><circle cx="1317.5" cy="552.8" r="3.2"/><circle cx="1203.5" cy="554.2" r="4.6"/><circle cx="1338.3" cy="582.5" r="4.0"/><circle cx="1245.6" cy="571.1" r="3.4"/><circle cx="1249.6" cy="493.7" r="3.6"/><circle cx="1299.5" cy="589.6" r="3.2"/><circle cx="469.0" cy="526.0" r="3.0"/><circle cx="1274.0" cy="543.4" r="4.4"/><circle cx="663.0" cy="502.2" r="2.8"/><circle cx="537.6" cy="481.5" r="4.4"/><circle cx="1323.6" cy="559.5" r="3.2"/><circle cx="1320.7" cy="609.6" r="4.4"/><circle cx="430.2" cy="449.4" r="5.5"/><circle cx="604.9" cy="494.9" r="3.4"/><circle cx="515.8" cy="431.7" r="4.0"/><circle cx="579.7" cy="525.2" r="3.0"/><circle cx="1110.1" cy="497.1" r="6.0"/><circle cx="1331.4" cy="554.4" r="3.0"/><circle cx="380.9" cy="448.6" r="5.0"/><circle cx="1353.9" cy="567.7" r="3.6"/><circle cx="1174.4" cy="513.6" r="5.0"/><circle cx="1375.8" cy="591.5" r="3.6"/><circle cx="609.2" cy="551.1" r="3.6"/><circle cx="1326.5" cy="600.7" r="3.2"/><circle cx="1401.7" cy="577.3" r="3.4"/><circle cx="665.1" cy="500.9" r="3.2"/><circle cx="1305.4" cy="571.5" r="2.8"/><circle cx="1443.6" cy="670.4" r="3.6"/><circle cx="1320.2" cy="580.4" r="3.4"/><circle cx="626.5" cy="447.0" r="4.4"/><circle cx="1289.1" cy="560.5" r="3.2"/><circle cx="1246.2" cy="536.4" r="3.6"/><circle cx="524.2" cy="485.4" r="3.2"/><circle cx="1351.6" cy="608.2" r="2.8"/><circle cx="561.6" cy="516.5" r="3.2"/><circle cx="1354.7" cy="557.9" r="3.0"/><circle cx="589.9" cy="503.5" r="3.2"/><circle cx="1390.9" cy="612.4" r="3.2"/><circle cx="1368.7" cy="556.7" r="3.6"/><circle cx="1419.3" cy="646.8" r="3.6"/><circle cx="601.5" cy="502.3" r="3.0"/><circle cx="1299.0" cy="578.6" r="3.2"/><circle cx="602.5" cy="545.0" r="3.8"/><circle cx="605.1" cy="459.7" r="3.4"/><circle cx="509.5" cy="504.2" r="3.6"/><circle cx="492.9" cy="537.6" r="3.0"/><circle cx="560.9" cy="502.0" r="3.4"/><circle cx="715.9" cy="459.6" r="3.4"/><circle cx="1330.5" cy="514.0" r="4.0"/><circle cx="599.7" cy="505.8" r="4.0"/><circle cx="1226.7" cy="555.7" r="2.8"/><circle cx="1363.9" cy="621.3" r="4.0"/><circle cx="1334.6" cy="544.4" r="2.8"/><circle cx="499.4" cy="462.0" r="3.6"/><circle cx="1263.0" cy="604.5" r="3.0"/><circle cx="1283.9" cy="589.6" r="3.8"/><circle cx="1302.5" cy="562.0" r="4.0"/><circle cx="1348.4" cy="538.0" r="4.0"/><circle cx="1351.0" cy="624.4" r="3.4"/><circle cx="408.9" cy="439.4" r="4.6"/><circle cx="1297.6" cy="523.1" r="2.8"/><circle cx="1235.4" cy="494.9" r="3.8"/><circle cx="365.3" cy="454.6" r="4.5"/><circle cx="1350.3" cy="520.0" r="3.2"/><circle cx="616.2" cy="540.2" r="3.0"/><circle cx="1338.4" cy="555.7" r="2.8"/><circle cx="1343.5" cy="543.7" r="4.4"/><circle cx="1086.1" cy="514.1" r="6.0"/><circle cx="576.8" cy="550.0" r="2.8"/><circle cx="469.1" cy="462.5" r="3.4"/><circle cx="1283.0" cy="527.6" r="3.0"/><circle cx="657.1" cy="551.6" r="3.6"/><circle cx="621.6" cy="467.1" r="2.8"/><circle cx="389.5" cy="430.2" r="8.0"/><circle cx="1364.3" cy="591.4" r="3.8"/><circle cx="633.8" cy="458.7" r="3.8"/><circle cx="428.4" cy="426.4" r="6.5"/><circle cx="1357.9" cy="576.3" r="3.6"/><circle cx="414.3" cy="486.2" r="5.5"/><circle cx="1321.5" cy="619.3" r="3.6"/><circle cx="497.3" cy="469.1" r="2.8"/><circle cx="517.6" cy="464.9" r="3.0"/><circle cx="1161.6" cy="496.8" r="5.0"/><circle cx="535.6" cy="491.4" r="4.0"/><circle cx="597.3" cy="611.9" r="3.2"/><circle cx="603.7" cy="566.1" r="3.4"/><circle cx="656.8" cy="519.2" r="3.0"/><circle cx="519.2" cy="425.6" r="2.8"/><circle cx="582.0" cy="537.3" r="3.6"/><circle cx="544.7" cy="472.4" r="3.8"/><circle cx="1281.5" cy="573.4" r="3.6"/><circle cx="602.2" cy="532.3" r="3.6"/><circle cx="595.3" cy="514.0" r="3.8"/><circle cx="1312.1" cy="585.9" r="3.0"/><circle cx="1319.4" cy="533.5" r="3.6"/><circle cx="431.9" cy="452.0" r="6.5"/><circle cx="1306.9" cy="618.7" r="3.8"/><circle cx="552.1" cy="506.1" r="3.4"/><circle cx="532.8" cy="543.6" r="3.2"/><circle cx="482.4" cy="524.9" r="4.4"/><circle cx="1388.7" cy="628.9" r="3.6"/><circle cx="658.8" cy="567.6" r="3.6"/><circle cx="1247.7" cy="558.0" r="3.0"/><circle cx="1319.8" cy="606.3" r="4.0"/><circle cx="568.8" cy="569.2" r="4.0"/><circle cx="1247.7" cy="516.7" r="3.4"/><circle cx="1377.8" cy="614.7" r="3.6"/><circle cx="1285.9" cy="652.9" r="4.0"/><circle cx="474.4" cy="475.9" r="3.6"/><circle cx="666.0" cy="519.6" r="4.0"/><circle cx="1273.3" cy="522.1" r="4.0"/><circle cx="501.3" cy="543.4" r="5.0"/><circle cx="584.4" cy="477.0" r="3.0"/><circle cx="1360.0" cy="582.0" r="2.8"/><circle cx="1390.2" cy="523.8" r="3.4"/><circle cx="581.7" cy="453.1" r="4.0"/><circle cx="1363.6" cy="585.6" r="3.0"/><circle cx="1375.5" cy="477.4" r="4.0"/><circle cx="1306.9" cy="572.0" r="4.0"/><circle cx="1415.4" cy="610.2" r="2.8"/><circle cx="565.5" cy="495.3" r="3.2"/><circle cx="1187.7" cy="505.2" r="5.5"/><circle cx="534.4" cy="418.9" r="3.0"/><circle cx="1209.4" cy="558.2" r="4.6"/><circle cx="580.5" cy="531.4" r="4.0"/><circle cx="1317.1" cy="547.7" r="4.0"/><circle cx="500.1" cy="437.7" r="4.0"/><circle cx="628.0" cy="527.5" r="3.0"/><circle cx="1383.8" cy="537.9" r="2.8"/><circle cx="552.5" cy="484.2" r="4.4"/><circle cx="1370.7" cy="599.3" r="3.6"/><circle cx="650.7" cy="568.5" r="4.4"/><circle cx="1198.9" cy="507.8" r="5.0"/><circle cx="511.3" cy="500.7" r="3.8"/><circle cx="1380.1" cy="575.5" r="3.0"/><circle cx="501.5" cy="441.5" r="3.6"/><circle cx="634.2" cy="572.0" r="4.4"/><circle cx="599.7" cy="529.9" r="3.0"/><circle cx="1371.2" cy="619.7" r="3.4"/><circle cx="515.9" cy="457.2" r="3.8"/><circle cx="582.9" cy="528.1" r="3.2"/><circle cx="412.0" cy="482.0" r="3.4"/><circle cx="581.7" cy="545.5" r="4.4"/><circle cx="1307.3" cy="566.7" r="3.0"/><circle cx="1380.5" cy="656.9" r="4.4"/><circle cx="642.0" cy="505.3" r="3.6"/><circle cx="538.8" cy="476.2" r="2.8"/><circle cx="493.9" cy="520.1" r="3.2"/><circle cx="647.1" cy="510.3" r="3.4"/><circle cx="596.0" cy="442.7" r="3.8"/><circle cx="571.3" cy="500.2" r="4.0"/><circle cx="1323.8" cy="600.5" r="4.4"/><circle cx="1347.2" cy="541.9" r="4.4"/><circle cx="588.6" cy="533.6" r="3.8"/><circle cx="1394.3" cy="573.2" r="3.8"/><circle cx="481.4" cy="495.7" r="4.0"/><circle cx="1423.8" cy="590.3" r="3.8"/><circle cx="519.1" cy="437.4" r="4.0"/><circle cx="684.0" cy="561.3" r="2.8"/><circle cx="1150.7" cy="513.4" r="4.6"/><circle cx="1257.9" cy="556.3" r="2.8"/><circle cx="512.8" cy="467.2" r="3.6"/><circle cx="543.1" cy="469.9" r="4.4"/><circle cx="1358.4" cy="660.4" r="3.8"/><circle cx="605.7" cy="543.4" r="3.4"/><circle cx="1209.8" cy="529.1" r="5.5"/><circle cx="629.4" cy="554.4" r="4.0"/><circle cx="1402.4" cy="519.2" r="3.8"/><circle cx="1179.6" cy="486.6" r="4.6"/><circle cx="428.7" cy="394.8" r="4.2"/><circle cx="1344.4" cy="646.6" r="3.8"/><circle cx="639.4" cy="504.8" r="3.8"/><circle cx="680.9" cy="540.4" r="3.6"/><circle cx="389.6" cy="432.5" r="5.5"/><circle cx="626.9" cy="507.4" r="4.4"/><circle cx="609.1" cy="462.8" r="2.8"/><circle cx="493.5" cy="486.9" r="3.6"/><circle cx="449.4" cy="453.8" r="3.0"/><circle cx="610.6" cy="539.3" r="3.0"/><circle cx="560.2" cy="523.7" r="4.4"/><circle cx="378.5" cy="423.3" r="3.5"/><circle cx="1382.8" cy="514.6" r="3.0"/><circle cx="572.0" cy="527.2" r="4.0"/><circle cx="502.8" cy="481.2" r="3.4"/><circle cx="1133.1" cy="478.0" r="4.6"/><circle cx="1161.9" cy="431.4" r="5.0"/><circle cx="602.9" cy="479.7" r="3.0"/><circle cx="1387.3" cy="511.4" r="3.6"/><circle cx="1148.7" cy="461.9" r="5.5"/><circle cx="1209.2" cy="574.9" r="4.2"/><circle cx="1343.7" cy="556.2" r="3.0"/><circle cx="601.1" cy="496.9" r="3.6"/><circle cx="641.9" cy="586.6" r="3.2"/><circle cx="558.0" cy="524.3" r="2.8"/><circle cx="1333.6" cy="564.9" r="3.2"/><circle cx="1250.9" cy="586.8" r="4.0"/><circle cx="555.4" cy="433.9" r="3.0"/><circle cx="622.7" cy="586.0" r="2.8"/><circle cx="1390.4" cy="569.7" r="3.2"/><circle cx="512.7" cy="463.4" r="4.0"/><circle cx="505.7" cy="482.5" r="3.6"/><circle cx="638.5" cy="532.7" r="3.6"/><circle cx="605.8" cy="546.8" r="2.8"/><circle cx="1425.2" cy="563.6" r="3.2"/><circle cx="1332.2" cy="519.2" r="4.0"/><circle cx="1251.3" cy="546.1" r="3.8"/><circle cx="488.1" cy="490.8" r="3.4"/><circle cx="1456.0" cy="586.2" r="3.4"/><circle cx="1364.4" cy="580.7" r="4.4"/><circle cx="569.5" cy="496.7" r="4.4"/><circle cx="603.5" cy="514.2" r="4.4"/><circle cx="1300.0" cy="591.2" r="4.4"/><circle cx="1337.8" cy="599.9" r="3.0"/><circle cx="529.8" cy="434.5" r="4.0"/><circle cx="1384.4" cy="605.2" r="3.4"/><circle cx="1445.0" cy="551.4" r="4.4"/><circle cx="1380.0" cy="621.6" r="3.0"/><circle cx="1365.9" cy="660.7" r="4.0"/><circle cx="1396.4" cy="618.9" r="3.8"/><circle cx="1378.6" cy="607.8" r="3.8"/><circle cx="580.3" cy="537.9" r="3.2"/><circle cx="1152.2" cy="492.7" r="3.0"/><circle cx="1310.0" cy="536.4" r="3.4"/><circle cx="1177.4" cy="557.0" r="5.5"/><circle cx="1279.5" cy="615.5" r="3.2"/><circle cx="1381.3" cy="622.4" r="3.0"/><circle cx="634.9" cy="567.5" r="3.2"/><circle cx="568.1" cy="520.4" r="3.8"/><circle cx="612.5" cy="532.0" r="4.0"/><circle cx="1329.0" cy="591.7" r="2.8"/><circle cx="524.0" cy="472.5" r="3.4"/><circle cx="1325.7" cy="583.8" r="3.4"/><circle cx="617.8" cy="508.6" r="2.8"/><circle cx="667.7" cy="590.1" r="2.8"/><circle cx="1329.4" cy="559.1" r="2.8"/><circle cx="1219.8" cy="588.5" r="4.2"/><circle cx="556.9" cy="480.2" r="4.4"/><circle cx="1217.1" cy="492.6" r="4.6"/><circle cx="1332.7" cy="612.5" r="3.2"/><circle cx="1164.8" cy="490.2" r="3.8"/><circle cx="660.3" cy="500.2" r="3.8"/><circle cx="585.8" cy="514.8" r="2.8"/><circle cx="511.6" cy="544.4" r="2.8"/><circle cx="557.0" cy="469.9" r="3.2"/><circle cx="613.3" cy="522.1" r="2.8"/><circle cx="511.8" cy="506.3" r="3.2"/><circle cx="1321.8" cy="577.3" r="3.2"/><circle cx="538.2" cy="539.5" r="3.8"/><circle cx="1363.4" cy="614.5" r="3.4"/><circle cx="562.1" cy="509.4" r="3.2"/><circle cx="1259.3" cy="551.5" r="3.2"/><circle cx="592.5" cy="516.2" r="3.6"/><circle cx="1372.3" cy="641.7" r="4.0"/><circle cx="1333.9" cy="660.1" r="3.2"/><circle cx="1354.0" cy="645.8" r="2.8"/><circle cx="529.8" cy="512.6" r="2.8"/><circle cx="598.4" cy="620.6" r="3.6"/><circle cx="540.4" cy="448.8" r="3.4"/><circle cx="1329.5" cy="517.5" r="2.8"/><circle cx="1273.0" cy="564.2" r="3.6"/><circle cx="1383.4" cy="670.7" r="3.0"/><circle cx="654.8" cy="564.5" r="4.0"/><circle cx="516.9" cy="472.9" r="3.6"/><circle cx="1279.3" cy="577.7" r="4.4"/><circle cx="1175.0" cy="507.3" r="4.2"/><circle cx="1306.1" cy="513.8" r="3.8"/><circle cx="1350.0" cy="535.4" r="3.8"/><circle cx="644.5" cy="542.4" r="4.4"/><circle cx="1335.8" cy="493.2" r="3.4"/><circle cx="502.9" cy="454.1" r="4.0"/><circle cx="361.4" cy="406.8" r="5.0"/><circle cx="593.2" cy="464.0" r="4.0"/><circle cx="495.8" cy="475.1" r="4.4"/><circle cx="1360.8" cy="582.5" r="4.0"/><circle cx="1318.4" cy="623.5" r="3.4"/><circle cx="664.4" cy="511.8" r="4.0"/><circle cx="561.8" cy="482.1" r="3.0"/><circle cx="1296.1" cy="539.8" r="3.6"/><circle cx="1342.7" cy="600.3" r="2.8"/><circle cx="558.8" cy="453.8" r="2.8"/><circle cx="461.6" cy="494.4" r="3.0"/><circle cx="520.7" cy="461.3" r="3.0"/><circle cx="672.1" cy="489.7" r="3.8"/><circle cx="609.4" cy="511.0" r="3.2"/><circle cx="626.0" cy="527.3" r="3.6"/><circle cx="1434.2" cy="567.8" r="3.4"/><circle cx="613.1" cy="520.7" r="3.8"/><circle cx="488.9" cy="450.2" r="3.6"/><circle cx="1267.2" cy="636.7" r="3.8"/><circle cx="1414.6" cy="615.1" r="3.0"/><circle cx="1283.3" cy="508.2" r="3.4"/><circle cx="1394.1" cy="621.8" r="2.8"/><circle cx="1288.4" cy="604.2" r="2.8"/><circle cx="1383.7" cy="547.3" r="3.0"/><circle cx="1372.3" cy="577.5" r="4.4"/><circle cx="575.4" cy="471.6" r="3.6"/><circle cx="593.5" cy="565.7" r="4.4"/><circle cx="585.1" cy="509.1" r="4.4"/><circle cx="1283.0" cy="589.6" r="4.4"/><circle cx="1254.8" cy="544.8" r="4.0"/><circle cx="1383.2" cy="576.1" r="3.2"/><circle cx="479.0" cy="472.3" r="3.8"/><circle cx="1325.8" cy="564.5" r="3.2"/><circle cx="668.6" cy="593.5" r="3.6"/><circle cx="672.7" cy="536.9" r="4.0"/><circle cx="1320.8" cy="600.2" r="3.8"/><circle cx="1394.4" cy="636.1" r="2.8"/><circle cx="619.7" cy="520.4" r="4.4"/><circle cx="598.9" cy="499.6" r="3.0"/><circle cx="1270.1" cy="560.9" r="4.4"/><circle cx="1078.3" cy="533.0" r="4.5"/><circle cx="648.6" cy="567.5" r="3.8"/><circle cx="695.0" cy="584.5" r="3.0"/><circle cx="559.8" cy="474.6" r="4.4"/><circle cx="609.3" cy="493.1" r="4.4"/><circle cx="529.6" cy="507.9" r="3.6"/><circle cx="591.2" cy="561.6" r="2.8"/><circle cx="622.4" cy="580.9" r="3.4"/><circle cx="709.1" cy="587.4" r="2.8"/><circle cx="1429.6" cy="612.4" r="4.4"/><circle cx="1335.3" cy="508.5" r="3.6"/><circle cx="1320.7" cy="537.7" r="3.4"/><circle cx="636.2" cy="494.2" r="4.4"/><circle cx="627.5" cy="503.7" r="4.0"/><circle cx="1203.9" cy="553.8" r="4.6"/><circle cx="1447.0" cy="583.4" r="3.6"/><circle cx="1235.7" cy="560.7" r="3.6"/><circle cx="592.5" cy="556.1" r="4.4"/><circle cx="519.2" cy="547.6" r="3.2"/><circle cx="404.4" cy="437.5" r="4.6"/><circle cx="1249.8" cy="506.6" r="3.8"/><circle cx="604.3" cy="457.3" r="4.4"/><circle cx="1386.1" cy="617.5" r="3.8"/><circle cx="536.6" cy="575.4" r="4.4"/><circle cx="592.3" cy="557.6" r="2.8"/><circle cx="1327.5" cy="541.3" r="4.4"/><circle cx="1360.0" cy="588.8" r="3.2"/><circle cx="1209.9" cy="475.7" r="4.2"/><circle cx="1404.2" cy="475.6" r="3.0"/><circle cx="1208.6" cy="551.0" r="3.4"/><circle cx="632.1" cy="533.6" r="4.0"/><circle cx="444.3" cy="438.6" r="3.8"/><circle cx="1072.5" cy="535.8" r="7.0"/><circle cx="567.4" cy="455.4" r="3.0"/><circle cx="583.2" cy="423.8" r="3.6"/><circle cx="1353.3" cy="567.5" r="2.8"/><circle cx="689.1" cy="542.7" r="3.2"/><circle cx="558.0" cy="476.4" r="3.8"/><circle cx="1313.4" cy="559.2" r="3.8"/><circle cx="1389.6" cy="569.0" r="3.4"/><circle cx="1132.1" cy="506.7" r="3.8"/><circle cx="1291.9" cy="578.9" r="3.2"/><circle cx="1352.1" cy="645.2" r="4.0"/><circle cx="556.9" cy="457.3" r="3.4"/><circle cx="1404.4" cy="588.4" r="3.0"/><circle cx="1357.8" cy="582.4" r="4.0"/><circle cx="530.6" cy="446.1" r="3.2"/><circle cx="1252.0" cy="504.2" r="4.4"/><circle cx="572.3" cy="465.5" r="4.0"/><circle cx="654.5" cy="514.6" r="3.0"/><circle cx="1136.5" cy="532.1" r="6.5"/><circle cx="566.3" cy="485.6" r="3.8"/><circle cx="1396.3" cy="567.9" r="3.2"/><circle cx="1166.4" cy="457.6" r="3.8"/><circle cx="527.4" cy="430.2" r="4.0"/><circle cx="602.5" cy="546.6" r="3.8"/><circle cx="1224.3" cy="489.1" r="4.6"/><circle cx="514.1" cy="460.3" r="3.0"/><circle cx="1339.9" cy="555.1" r="3.0"/><circle cx="577.0" cy="576.3" r="3.6"/><circle cx="519.3" cy="431.6" r="3.0"/><circle cx="542.1" cy="467.7" r="3.4"/><circle cx="1185.8" cy="612.5" r="4.6"/><circle cx="553.0" cy="528.2" r="4.4"/><circle cx="1373.8" cy="553.9" r="3.4"/><circle cx="418.1" cy="550.6" r="5.5"/><circle cx="564.4" cy="536.1" r="4.4"/><circle cx="631.8" cy="460.4" r="3.4"/><circle cx="1274.7" cy="486.1" r="3.8"/><circle cx="1290.1" cy="605.1" r="2.8"/><circle cx="1269.4" cy="557.1" r="3.0"/><circle cx="319.7" cy="464.6" r="4.5"/><circle cx="556.5" cy="532.8" r="2.8"/><circle cx="628.2" cy="563.6" r="3.4"/><circle cx="1332.5" cy="644.0" r="3.0"/><circle cx="185.6" cy="526.3" r="8.0"/><circle cx="198.5" cy="551.8" r="7.0"/><circle cx="245.8" cy="566.3" r="9.6"/><circle cx="243.2" cy="559.8" r="2.6"/><circle cx="220.7" cy="594.5" r="5.4"/><circle cx="226.4" cy="517.2" r="5.7"/><circle cx="226.4" cy="513.1" r="4.7"/><circle cx="201.9" cy="614.6" r="3.4"/><circle cx="244.2" cy="608.7" r="3.1"/><circle cx="231.3" cy="636.0" r="9.3"/><circle cx="217.4" cy="650.2" r="2.8"/><circle cx="248.6" cy="661.1" r="2.8"/><circle cx="217.6" cy="707.6" r="2.8"/><circle cx="239.1" cy="704.5" r="3.1"/><circle cx="265.9" cy="557.3" r="2.6"/><circle cx="270.0" cy="513.1" r="3.4"/><circle cx="272.6" cy="535.8" r="11.6"/><circle cx="271.3" cy="530.1" r="7.2"/><circle cx="270.8" cy="526.3" r="2.6"/><circle cx="293.3" cy="542.8" r="5.2"/><circle cx="303.6" cy="535.3" r="11.1"/><circle cx="326.9" cy="521.1" r="9.8"/><circle cx="316.3" cy="530.1" r="3.9"/><circle cx="313.4" cy="542.8" r="5.7"/><circle cx="319.4" cy="542.8" r="3.6"/><circle cx="347.0" cy="537.1" r="11.6"/><circle cx="350.9" cy="522.1" r="7.8"/><circle cx="348.8" cy="522.9" r="4.7"/><circle cx="364.3" cy="528.6" r="4.1"/><circle cx="369.2" cy="519.6" r="4.4"/><circle cx="376.2" cy="521.9" r="2.6"/><circle cx="372.1" cy="512.3" r="5.2"/><circle cx="368.4" cy="548.7" r="2.8"/><circle cx="378.5" cy="552.4" r="3.4"/><circle cx="388.6" cy="545.4" r="4.7"/><circle cx="391.7" cy="536.6" r="2.6"/><circle cx="397.6" cy="551.8" r="6.5"/><circle cx="390.1" cy="517.7" r="10.3"/><circle cx="401.8" cy="522.9" r="5.2"/><circle cx="408.2" cy="528.1" r="12.9"/><circle cx="416.0" cy="525.5" r="11.6"/><circle cx="425.0" cy="520.3" r="9.0"/><circle cx="428.9" cy="524.2" r="5.2"/><circle cx="423.7" cy="538.4" r="9.0"/><circle cx="408.2" cy="546.7" r="5.7"/><circle cx="430.7" cy="538.9" r="2.6"/><circle cx="432.0" cy="550.5" r="2.8"/><circle cx="445.7" cy="533.2" r="6.5"/><circle cx="452.1" cy="535.8" r="3.9"/><circle cx="448.3" cy="525.5" r="3.1"/><circle cx="453.9" cy="517.7" r="2.6"/><circle cx="450.8" cy="548.7" r="3.6"/><circle cx="454.7" cy="559.1" r="3.9"/><circle cx="430.2" cy="569.9" r="11.6"/><circle cx="443.1" cy="566.0" r="4.1"/><circle cx="431.5" cy="559.6" r="3.6"/><circle cx="416.0" cy="559.8" r="2.6"/><circle cx="420.6" cy="558.0" r="2.6"/><circle cx="421.1" cy="573.3" r="3.1"/><circle cx="413.4" cy="579.7" r="5.2"/><circle cx="422.2" cy="579.7" r="3.1"/><circle cx="402.3" cy="571.5" r="3.4"/><circle cx="397.4" cy="591.9" r="3.1"/><circle cx="426.3" cy="590.6" r="3.1"/><circle cx="447.0" cy="587.5" r="3.1"/><circle cx="450.8" cy="585.4" r="3.1"/><circle cx="454.7" cy="592.6" r="2.6"/><circle cx="374.6" cy="560.9" r="4.7"/><circle cx="360.4" cy="559.6" r="2.6"/><circle cx="363.8" cy="560.4" r="2.6"/><circle cx="359.1" cy="577.7" r="3.6"/><circle cx="376.5" cy="581.8" r="3.9"/><circle cx="367.4" cy="588.8" r="3.1"/><circle cx="372.8" cy="589.3" r="3.1"/><circle cx="378.0" cy="596.5" r="3.1"/><circle cx="351.1" cy="597.3" r="3.4"/><circle cx="369.0" cy="599.6" r="4.9"/><circle cx="375.9" cy="603.0" r="3.1"/><circle cx="344.4" cy="561.1" r="3.9"/><circle cx="335.9" cy="568.9" r="7.8"/><circle cx="330.7" cy="565.5" r="5.2"/><circle cx="341.1" cy="569.4" r="3.6"/><circle cx="348.3" cy="570.4" r="3.1"/><circle cx="347.0" cy="576.6" r="4.7"/><circle cx="339.8" cy="572.0" r="2.6"/><circle cx="322.5" cy="578.4" r="4.1"/><circle cx="322.5" cy="577.7" r="3.1"/><circle cx="335.9" cy="585.9" r="3.6"/><circle cx="342.6" cy="585.9" r="3.1"/><circle cx="311.4" cy="607.4" r="3.4"/><circle cx="321.4" cy="605.6" r="3.9"/><circle cx="334.6" cy="607.6" r="3.6"/><circle cx="334.1" cy="607.1" r="2.6"/><circle cx="321.2" cy="615.6" r="3.6"/><circle cx="331.3" cy="619.2" r="3.6"/><circle cx="346.8" cy="622.3" r="2.6"/><circle cx="298.7" cy="624.7" r="3.1"/><circle cx="335.6" cy="632.4" r="2.8"/><circle cx="355.0" cy="633.5" r="3.6"/><circle cx="365.1" cy="613.8" r="3.6"/><circle cx="362.0" cy="645.1" r="3.4"/><circle cx="379.0" cy="642.5" r="3.1"/><circle cx="376.5" cy="655.1" r="5.7"/><circle cx="387.3" cy="637.8" r="2.8"/><circle cx="395.6" cy="642.2" r="3.1"/><circle cx="397.1" cy="653.9" r="7.8"/><circle cx="396.6" cy="648.2" r="2.6"/><circle cx="409.5" cy="648.2" r="6.5"/><circle cx="393.0" cy="632.4" r="3.1"/><circle cx="402.8" cy="631.1" r="2.6"/><circle cx="422.4" cy="634.5" r="3.1"/><circle cx="430.7" cy="632.4" r="3.1"/><circle cx="432.0" cy="642.0" r="3.1"/><circle cx="425.0" cy="644.3" r="2.6"/><circle cx="417.8" cy="644.8" r="2.6"/><circle cx="414.2" cy="643.5" r="2.6"/><circle cx="414.7" cy="652.0" r="2.6"/><circle cx="417.3" cy="656.7" r="2.6"/><circle cx="422.4" cy="663.4" r="3.1"/><circle cx="416.5" cy="663.4" r="2.6"/><circle cx="419.3" cy="663.2" r="2.1"/><circle cx="431.7" cy="657.0" r="3.1"/><circle cx="424.2" cy="670.1" r="2.8"/><circle cx="402.5" cy="661.6" r="3.1"/><circle cx="391.4" cy="663.4" r="2.8"/><circle cx="403.8" cy="668.6" r="2.8"/><circle cx="398.9" cy="680.2" r="3.1"/><circle cx="375.7" cy="678.9" r="3.1"/><circle cx="445.2" cy="674.8" r="3.1"/><circle cx="451.1" cy="635.0" r="3.1"/><circle cx="382.4" cy="606.9" r="3.1"/><circle cx="388.9" cy="606.9" r="3.1"/><circle cx="390.4" cy="610.2" r="3.1"/><circle cx="382.1" cy="611.0" r="3.1"/><circle cx="385.5" cy="618.7" r="3.1"/><circle cx="382.9" cy="623.9" r="3.1"/><circle cx="386.5" cy="618.5" r="2.6"/><circle cx="399.4" cy="616.7" r="3.1"/><circle cx="404.1" cy="618.7" r="2.6"/><circle cx="408.2" cy="624.7" r="2.8"/><circle cx="405.1" cy="610.5" r="3.1"/><circle cx="421.9" cy="608.7" r="3.1"/><circle cx="432.2" cy="604.3" r="4.4"/><circle cx="437.9" cy="600.1" r="3.1"/><circle cx="438.7" cy="605.0" r="2.6"/><circle cx="449.5" cy="600.4" r="3.1"/><circle cx="450.8" cy="603.0" r="3.1"/><circle cx="437.7" cy="614.6" r="3.4"/><circle cx="441.0" cy="620.8" r="3.1"/><circle cx="439.2" cy="618.5" r="2.6"/><circle cx="425.8" cy="619.8" r="2.8"/><circle cx="426.8" cy="624.7" r="3.1"/><circle cx="294.8" cy="645.6" r="3.1"/><circle cx="304.4" cy="646.1" r="3.1"/><circle cx="317.8" cy="643.5" r="3.4"/><circle cx="316.5" cy="648.7" r="3.4"/><circle cx="280.6" cy="665.7" r="3.1"/><circle cx="296.1" cy="664.7" r="3.1"/><circle cx="291.2" cy="671.4" r="3.1"/><circle cx="280.6" cy="674.8" r="3.1"/><circle cx="303.4" cy="677.9" r="3.1"/><circle cx="331.8" cy="668.8" r="3.1"/><circle cx="336.7" cy="679.4" r="2.8"/><circle cx="341.3" cy="679.2" r="2.8"/><circle cx="338.7" cy="689.0" r="2.8"/><circle cx="351.4" cy="698.0" r="3.1"/><circle cx="361.2" cy="706.5" r="3.1"/><circle cx="310.6" cy="711.7" r="3.1"/><circle cx="382.4" cy="728.5" r="2.8"/><circle cx="391.9" cy="703.4" r="2.8"/><circle cx="416.7" cy="709.9" r="3.4"/><circle cx="426.8" cy="721.3" r="2.8"/><circle cx="435.3" cy="693.9" r="3.1"/><circle cx="443.1" cy="700.6" r="2.8"/><circle cx="436.6" cy="747.1" r="3.9"/><circle cx="459.6" cy="603.0" r="3.1"/><circle cx="479.8" cy="599.1" r="3.4"/><circle cx="465.0" cy="614.6" r="3.6"/><circle cx="466.3" cy="612.8" r="2.6"/><circle cx="458.1" cy="631.9" r="3.1"/><circle cx="483.6" cy="619.8" r="3.6"/><circle cx="494.0" cy="617.7" r="3.4"/><circle cx="500.7" cy="618.5" r="3.4"/><circle cx="506.4" cy="613.3" r="3.1"/><circle cx="478.7" cy="628.8" r="3.1"/><circle cx="488.8" cy="630.9" r="3.1"/><circle cx="496.5" cy="629.3" r="3.1"/><circle cx="496.5" cy="633.5" r="3.9"/><circle cx="504.0" cy="629.1" r="3.1"/><circle cx="512.0" cy="628.8" r="3.4"/><circle cx="505.8" cy="634.0" r="3.1"/><circle cx="485.7" cy="637.8" r="3.1"/><circle cx="481.1" cy="639.1" r="2.6"/><circle cx="494.0" cy="639.9" r="3.1"/><circle cx="516.7" cy="639.7" r="3.1"/><circle cx="473.0" cy="646.4" r="3.1"/><circle cx="484.9" cy="648.9" r="3.1"/><circle cx="478.0" cy="655.9" r="2.6"/><circle cx="478.5" cy="661.1" r="3.1"/><circle cx="486.2" cy="657.5" r="2.6"/><circle cx="503.3" cy="651.5" r="3.1"/><circle cx="504.6" cy="652.8" r="2.6"/><circle cx="491.9" cy="670.1" r="2.8"/><circle cx="478.7" cy="679.4" r="3.4"/><circle cx="472.3" cy="713.5" r="3.1"/><circle cx="528.6" cy="646.4" r="3.1"/><circle cx="528.8" cy="654.9" r="3.9"/><circle cx="538.1" cy="636.0" r="3.1"/><circle cx="540.2" cy="640.4" r="3.1"/><circle cx="546.9" cy="637.1" r="3.9"/><circle cx="545.9" cy="632.4" r="3.6"/><circle cx="543.0" cy="647.1" r="3.4"/><circle cx="557.0" cy="642.0" r="3.1"/><circle cx="558.5" cy="656.7" r="3.6"/><circle cx="552.3" cy="626.2" r="3.4"/><circle cx="553.6" cy="614.9" r="3.9"/><circle cx="562.9" cy="612.0" r="3.6"/><circle cx="561.9" cy="613.8" r="3.1"/><circle cx="574.8" cy="610.2" r="3.1"/><circle cx="574.3" cy="616.4" r="3.1"/><circle cx="573.5" cy="621.6" r="3.4"/><circle cx="584.1" cy="622.9" r="3.1"/><circle cx="583.8" cy="632.9" r="3.1"/><circle cx="579.2" cy="646.9" r="3.1"/><circle cx="589.5" cy="642.5" r="2.6"/><circle cx="589.5" cy="645.8" r="3.1"/><circle cx="594.7" cy="651.5" r="2.8"/><circle cx="598.0" cy="630.4" r="3.4"/><circle cx="601.1" cy="660.3" r="3.6"/><circle cx="606.3" cy="649.7" r="3.1"/><circle cx="608.4" cy="649.2" r="2.6"/><circle cx="608.1" cy="632.9" r="3.9"/><circle cx="608.9" cy="671.2" r="3.1"/><circle cx="615.6" cy="628.3" r="3.1"/><circle cx="620.0" cy="618.5" r="3.4"/><circle cx="613.0" cy="621.6" r="3.4"/><circle cx="597.5" cy="614.3" r="3.6"/><circle cx="598.8" cy="617.2" r="3.1"/><circle cx="605.3" cy="619.2" r="3.1"/><circle cx="610.4" cy="614.3" r="3.1"/><circle cx="611.0" cy="608.9" r="3.1"/><circle cx="618.2" cy="611.2" r="3.1"/><circle cx="623.9" cy="610.7" r="3.1"/><circle cx="628.5" cy="612.8" r="3.1"/><circle cx="634.2" cy="607.6" r="3.1"/><circle cx="637.3" cy="612.8" r="3.1"/><circle cx="638.6" cy="619.2" r="3.1"/><circle cx="640.9" cy="608.9" r="2.6"/><circle cx="645.1" cy="677.9" r="3.1"/><circle cx="649.7" cy="641.7" r="2.8"/><circle cx="652.3" cy="635.5" r="2.8"/><circle cx="658.7" cy="627.5" r="2.6"/><circle cx="659.3" cy="621.8" r="3.6"/><circle cx="665.7" cy="614.9" r="3.4"/><circle cx="672.2" cy="621.1" r="3.1"/><circle cx="675.5" cy="620.3" r="3.1"/><circle cx="680.7" cy="618.5" r="3.1"/><circle cx="674.8" cy="647.7" r="3.9"/><circle cx="688.4" cy="648.9" r="2.8"/><circle cx="704.5" cy="637.6" r="3.4"/><circle cx="704.7" cy="627.8" r="3.1"/><circle cx="713.5" cy="632.9" r="3.6"/><circle cx="716.9" cy="621.6" r="3.1"/><circle cx="699.3" cy="617.4" r="2.8"/><circle cx="693.9" cy="614.1" r="3.1"/><circle cx="687.7" cy="614.3" r="3.1"/><circle cx="696.7" cy="604.5" r="3.1"/><circle cx="712.5" cy="606.6" r="3.1"/><circle cx="718.9" cy="600.4" r="3.1"/><circle cx="719.9" cy="581.0" r="3.1"/><circle cx="726.7" cy="586.4" r="2.6"/><circle cx="733.6" cy="544.6" r="2.8"/><circle cx="741.1" cy="519.3" r="2.6"/><circle cx="750.4" cy="528.6" r="2.6"/><circle cx="731.3" cy="520.3" r="2.6"/><circle cx="723.8" cy="531.4" r="3.1"/><circle cx="719.9" cy="551.8" r="3.4"/><circle cx="555.4" cy="700.3" r="3.1"/><circle cx="582.0" cy="680.7" r="3.1"/><circle cx="566.5" cy="742.7" r="3.1"/><circle cx="557.2" cy="748.4" r="3.1"/><circle cx="521.3" cy="609.4" r="3.1"/><circle cx="521.1" cy="610.7" r="2.6"/><circle cx="514.9" cy="596.5" r="3.1"/><circle cx="507.7" cy="592.6" r="3.1"/><circle cx="499.9" cy="608.1" r="3.1"/><circle cx="538.6" cy="612.8" r="3.1"/><circle cx="533.5" cy="615.9" r="3.1"/><circle cx="534.0" cy="608.9" r="3.1"/><circle cx="541.2" cy="608.9" r="2.6"/><circle cx="545.1" cy="600.4" r="3.1"/><circle cx="546.4" cy="603.0" r="3.1"/><circle cx="561.9" cy="603.0" r="3.1"/><circle cx="564.5" cy="605.0" r="3.1"/><circle cx="580.0" cy="599.1" r="3.1"/><circle cx="590.3" cy="605.6" r="3.1"/><circle cx="591.6" cy="607.6" r="3.1"/><circle cx="596.8" cy="599.1" r="3.1"/><circle cx="611.0" cy="599.1" r="3.1"/><circle cx="617.4" cy="601.7" r="3.1"/><circle cx="627.7" cy="597.3" r="3.1"/><circle cx="656.9" cy="610.7" r="3.1"/><circle cx="660.0" cy="612.0" r="2.6"/><circle cx="662.6" cy="603.0" r="3.1"/><circle cx="671.7" cy="606.9" r="3.1"/><circle cx="678.1" cy="607.6" r="3.1"/><circle cx="685.9" cy="600.4" r="3.1"/><circle cx="688.4" cy="605.6" r="3.1"/><circle cx="697.5" cy="597.8" r="3.1"/><circle cx="707.8" cy="596.5" r="3.1"/><circle cx="703.9" cy="608.1" r="3.1"/><circle cx="689.7" cy="612.0" r="3.1"/><circle cx="239.1" cy="288.9" r="3.1"/><circle cx="240.3" cy="326.8" r="5.2"/><circle cx="232.1" cy="338.7" r="5.2"/><circle cx="211.7" cy="378.7" r="7.8"/><circle cx="208.1" cy="410.5" r="9.8"/><circle cx="212.2" cy="431.9" r="3.6"/><circle cx="244.2" cy="419.0" r="9.6"/><circle cx="250.2" cy="417.5" r="5.2"/><circle cx="245.5" cy="393.5" r="7.2"/><circle cx="243.7" cy="387.5" r="4.4"/><circle cx="252.7" cy="389.3" r="7.8"/><circle cx="261.0" cy="391.1" r="7.2"/><circle cx="246.8" cy="448.2" r="6.5"/><circle cx="246.8" cy="447.2" r="5.2"/><circle cx="231.6" cy="482.6" r="7.5"/><circle cx="242.2" cy="482.6" r="7.8"/><circle cx="274.4" cy="468.6" r="4.7"/><circle cx="286.1" cy="483.1" r="15.5"/><circle cx="304.9" cy="508.9" r="20.7"/><circle cx="299.2" cy="501.1" r="5.2"/><circle cx="263.6" cy="354.7" r="5.7"/><circle cx="280.1" cy="353.9" r="3.1"/><circle cx="273.9" cy="366.9" r="10.8"/><circle cx="277.8" cy="360.9" r="5.7"/><circle cx="281.2" cy="368.1" r="3.1"/><circle cx="273.1" cy="372.3" r="3.1"/><circle cx="262.3" cy="370.2" r="3.1"/><circle cx="264.9" cy="374.6" r="4.7"/><circle cx="284.0" cy="378.0" r="4.7"/><circle cx="298.7" cy="358.6" r="5.9"/><circle cx="299.7" cy="383.6" r="9.6"/><circle cx="286.1" cy="387.5" r="4.1"/><circle cx="293.3" cy="394.0" r="9.6"/><circle cx="299.2" cy="395.8" r="3.1"/><circle cx="293.8" cy="400.4" r="4.4"/><circle cx="295.4" cy="433.5" r="3.9"/><circle cx="299.7" cy="435.3" r="7.8"/><circle cx="289.4" cy="413.3" r="3.6"/><circle cx="279.6" cy="422.4" r="6.5"/><circle cx="293.3" cy="445.6" r="4.4"/><circle cx="356.3" cy="317.3" r="3.1"/><circle cx="311.9" cy="483.8" r="3.1"/><circle cx="320.4" cy="492.1" r="7.8"/><circle cx="311.9" cy="490.8" r="3.1"/><circle cx="343.7" cy="485.7" r="3.9"/><circle cx="341.1" cy="490.8" r="5.2"/><circle cx="354.0" cy="498.6" r="8.5"/><circle cx="355.3" cy="499.9" r="6.5"/><circle cx="335.4" cy="505.5" r="6.5"/><circle cx="341.6" cy="505.5" r="3.1"/><circle cx="377.2" cy="485.7" r="9.0"/><circle cx="386.3" cy="497.3" r="5.7"/><circle cx="374.6" cy="506.3" r="6.5"/><circle cx="427.6" cy="481.8" r="5.7"/><circle cx="394.0" cy="486.9" r="5.7"/><circle cx="404.3" cy="489.5" r="6.5"/><circle cx="412.1" cy="494.7" r="3.9"/><circle cx="425.0" cy="489.5" r="5.2"/><circle cx="432.8" cy="497.3" r="3.9"/><circle cx="440.5" cy="492.1" r="5.7"/><circle cx="448.3" cy="497.3" r="5.2"/><circle cx="453.4" cy="481.8" r="5.7"/><circle cx="412.1" cy="507.6" r="3.1"/><circle cx="419.8" cy="505.0" r="3.9"/><circle cx="427.6" cy="507.6" r="5.2"/><circle cx="437.9" cy="502.4" r="3.9"/><circle cx="471.5" cy="320.9" r="5.2"/><circle cx="535.8" cy="342.3" r="5.2"/><circle cx="525.0" cy="359.1" r="3.9"/><circle cx="518.8" cy="370.2" r="5.9"/><circle cx="500.4" cy="383.1" r="3.9"/><circle cx="508.4" cy="382.6" r="3.9"/><circle cx="530.1" cy="383.1" r="5.7"/><circle cx="539.9" cy="387.0" r="5.4"/><circle cx="524.4" cy="385.7" r="4.4"/><circle cx="559.6" cy="369.7" r="5.2"/><circle cx="572.7" cy="375.6" r="7.0"/><circle cx="560.3" cy="379.8" r="3.4"/><circle cx="595.7" cy="375.6" r="3.1"/><circle cx="642.0" cy="349.3" r="3.1"/><circle cx="647.1" cy="378.5" r="3.9"/><circle cx="576.9" cy="389.8" r="4.4"/><circle cx="507.1" cy="398.1" r="5.9"/><circle cx="519.8" cy="393.5" r="3.9"/><circle cx="525.7" cy="399.7" r="3.4"/><circle cx="541.5" cy="401.2" r="4.4"/><circle cx="554.1" cy="396.0" r="4.4"/><circle cx="551.6" cy="397.6" r="5.2"/><circle cx="562.7" cy="399.7" r="3.1"/><circle cx="574.0" cy="401.2" r="3.9"/><circle cx="582.3" cy="404.3" r="4.4"/><circle cx="597.3" cy="398.4" r="3.4"/><circle cx="612.3" cy="394.7" r="3.4"/><circle cx="605.0" cy="404.8" r="3.1"/><circle cx="625.7" cy="404.8" r="3.4"/><circle cx="591.6" cy="408.2" r="3.1"/><circle cx="601.9" cy="409.7" r="3.1"/><circle cx="555.4" cy="406.9" r="4.4"/><circle cx="537.4" cy="412.0" r="4.1"/><circle cx="513.6" cy="406.9" r="4.4"/><circle cx="505.6" cy="408.7" r="3.1"/><circle cx="652.5" cy="409.7" r="3.1"/><circle cx="643.2" cy="418.2" r="4.4"/><circle cx="676.8" cy="407.9" r="2.6"/><circle cx="677.6" cy="412.0" r="2.6"/><circle cx="683.3" cy="412.0" r="2.6"/><circle cx="685.1" cy="418.8" r="2.6"/><circle cx="676.0" cy="419.8" r="2.6"/><circle cx="706.5" cy="396.6" r="2.6"/><circle cx="724.9" cy="400.7" r="2.6"/><circle cx="728.0" cy="408.2" r="2.6"/><circle cx="753.5" cy="392.9" r="2.6"/><circle cx="758.4" cy="421.6" r="2.6"/><circle cx="738.0" cy="421.1" r="2.6"/><circle cx="731.3" cy="424.4" r="2.6"/><circle cx="734.2" cy="431.2" r="2.6"/><circle cx="739.6" cy="438.4" r="2.6"/><circle cx="720.7" cy="418.8" r="2.6"/><circle cx="706.5" cy="418.8" r="2.6"/><circle cx="711.4" cy="420.3" r="2.6"/><circle cx="709.1" cy="422.9" r="2.6"/><circle cx="700.3" cy="425.2" r="2.6"/><circle cx="696.2" cy="430.1" r="2.6"/><circle cx="705.2" cy="435.8" r="3.1"/><circle cx="689.7" cy="430.1" r="3.1"/><circle cx="687.1" cy="427.5" r="2.6"/><circle cx="679.4" cy="428.1" r="2.6"/><circle cx="672.4" cy="434.5" r="2.6"/><circle cx="666.5" cy="426.5" r="3.1"/><circle cx="657.4" cy="423.4" r="2.6"/><circle cx="647.6" cy="430.6" r="3.1"/><circle cx="649.7" cy="437.9" r="2.6"/><circle cx="656.7" cy="436.6" r="2.6"/><circle cx="626.5" cy="423.7" r="2.6"/><circle cx="621.3" cy="419.8" r="3.1"/><circle cx="613.5" cy="421.1" r="3.1"/><circle cx="717.6" cy="448.2" r="2.6"/><circle cx="715.6" cy="458.5" r="3.1"/><circle cx="739.6" cy="456.0" r="2.6"/><circle cx="724.6" cy="467.6" r="2.6"/><circle cx="744.0" cy="478.4" r="2.6"/><circle cx="734.9" cy="484.9" r="2.6"/><circle cx="719.4" cy="486.9" r="2.6"/><circle cx="718.9" cy="499.9" r="2.6"/><circle cx="711.7" cy="500.6" r="2.6"/><circle cx="718.9" cy="507.1" r="2.6"/><circle cx="707.8" cy="491.3" r="2.6"/><circle cx="710.4" cy="483.1" r="3.1"/><circle cx="707.8" cy="475.3" r="2.6"/><circle cx="703.9" cy="459.8" r="3.1"/><circle cx="701.4" cy="467.6" r="3.1"/><circle cx="698.8" cy="448.2" r="3.1"/><circle cx="694.9" cy="440.5" r="3.1"/><circle cx="692.3" cy="445.6" r="2.6"/><circle cx="685.3" cy="442.5" r="2.6"/><circle cx="679.4" cy="447.7" r="2.6"/><circle cx="670.4" cy="449.5" r="3.1"/><circle cx="684.6" cy="453.4" r="3.1"/><circle cx="689.7" cy="462.4" r="3.1"/><circle cx="675.5" cy="458.5" r="3.1"/><circle cx="728.5" cy="422.4" r="2.6"/><circle cx="928.3" cy="584.7" r="8.0"/><circle cx="941.0" cy="600.5" r="6.5"/><circle cx="988.5" cy="618.0" r="9.6"/><circle cx="944.6" cy="664.5" r="3.4"/><circle cx="963.2" cy="667.6" r="5.2"/><circle cx="973.8" cy="667.1" r="9.3"/><circle cx="959.8" cy="681.8" r="2.8"/><circle cx="985.9" cy="650.8" r="2.6"/><circle cx="987.2" cy="654.7" r="3.1"/><circle cx="991.1" cy="703.3" r="2.8"/><circle cx="960.1" cy="738.6" r="2.8"/><circle cx="981.5" cy="748.5" r="3.1"/><circle cx="1008.4" cy="610.8" r="2.8"/><circle cx="1013.6" cy="603.1" r="2.6"/><circle cx="1012.8" cy="575.7" r="3.4"/><circle cx="1015.6" cy="580.3" r="11.6"/><circle cx="1014.3" cy="587.6" r="7.2"/><circle cx="1035.8" cy="594.5" r="5.2"/><circle cx="1046.6" cy="585.5" r="11.1"/><circle cx="1058.8" cy="588.6" r="3.9"/><circle cx="1069.3" cy="573.1" r="11.6"/><circle cx="1090.0" cy="586.0" r="11.6"/><circle cx="1093.1" cy="583.4" r="7.8"/><circle cx="1107.3" cy="589.4" r="4.1"/><circle cx="1115.3" cy="581.1" r="4.4"/><circle cx="1119.2" cy="589.9" r="2.6"/><circle cx="1112.0" cy="594.5" r="3.9"/><circle cx="1121.5" cy="597.1" r="3.4"/><circle cx="1110.9" cy="593.2" r="2.8"/><circle cx="1131.6" cy="588.9" r="4.7"/><circle cx="1131.3" cy="577.2" r="10.3"/><circle cx="1143.5" cy="585.5" r="7.8"/><circle cx="1153.8" cy="581.6" r="10.3"/><circle cx="1162.8" cy="581.6" r="10.3"/><circle cx="1157.7" cy="579.0" r="6.5"/><circle cx="1170.6" cy="581.6" r="7.8"/><circle cx="1152.5" cy="597.1" r="5.2"/><circle cx="1159.0" cy="603.6" r="5.7"/><circle cx="1156.4" cy="607.4" r="5.7"/><circle cx="1174.5" cy="601.0" r="3.9"/><circle cx="1170.6" cy="603.1" r="4.7"/><circle cx="1174.5" cy="612.6" r="3.1"/><circle cx="1159.0" cy="614.4" r="3.1"/><circle cx="1188.7" cy="579.8" r="5.7"/><circle cx="1195.1" cy="581.6" r="3.1"/><circle cx="1192.5" cy="593.8" r="3.1"/><circle cx="1194.4" cy="601.5" r="3.9"/><circle cx="1193.3" cy="610.0" r="3.9"/><circle cx="1198.5" cy="621.7" r="3.1"/><circle cx="1102.9" cy="603.6" r="2.6"/><circle cx="1106.3" cy="610.0" r="2.8"/><circle cx="1061.9" cy="616.7" r="3.9"/><circle cx="1077.6" cy="622.9" r="7.8"/><circle cx="1084.1" cy="618.0" r="3.6"/><circle cx="1087.9" cy="620.4" r="3.1"/><circle cx="1079.7" cy="626.3" r="3.9"/><circle cx="1073.2" cy="624.2" r="4.4"/><circle cx="1093.9" cy="626.8" r="3.4"/><circle cx="1089.8" cy="632.2" r="4.7"/><circle cx="1085.4" cy="637.1" r="3.6"/><circle cx="1084.3" cy="637.7" r="3.1"/><circle cx="1077.6" cy="637.7" r="2.6"/><circle cx="1065.5" cy="630.7" r="3.1"/><circle cx="1065.0" cy="639.2" r="3.9"/><circle cx="1054.1" cy="641.3" r="3.1"/><circle cx="1064.2" cy="647.7" r="3.9"/><circle cx="1101.4" cy="634.8" r="3.4"/><circle cx="1111.7" cy="630.7" r="4.7"/><circle cx="1117.4" cy="631.0" r="3.9"/><circle cx="1115.1" cy="637.7" r="3.1"/><circle cx="1118.9" cy="638.4" r="3.1"/><circle cx="1109.9" cy="644.1" r="3.1"/><circle cx="1118.4" cy="644.9" r="3.1"/><circle cx="1124.9" cy="643.1" r="3.1"/><circle cx="1140.4" cy="614.7" r="6.5"/><circle cx="1134.4" cy="613.4" r="2.6"/><circle cx="1145.3" cy="623.7" r="3.1"/><circle cx="1149.9" cy="625.5" r="5.7"/><circle cx="1140.1" cy="634.6" r="3.1"/><circle cx="1163.6" cy="624.8" r="3.1"/><circle cx="1164.4" cy="627.3" r="3.1"/><circle cx="1173.2" cy="628.1" r="3.1"/><circle cx="1169.0" cy="635.1" r="3.1"/><circle cx="1172.7" cy="647.5" r="11.6"/><circle cx="1174.5" cy="655.2" r="4.4"/><circle cx="1180.1" cy="652.6" r="3.1"/><circle cx="1189.4" cy="622.9" r="3.1"/><circle cx="1186.1" cy="622.9" r="3.1"/><circle cx="1191.3" cy="647.0" r="3.1"/><circle cx="1193.8" cy="644.9" r="3.1"/><circle cx="1192.5" cy="657.8" r="3.1"/><circle cx="1199.0" cy="672.0" r="2.6"/><circle cx="1193.8" cy="695.3" r="3.1"/><circle cx="1041.5" cy="662.5" r="2.8"/><circle cx="1023.4" cy="680.0" r="2.8"/><circle cx="1046.9" cy="684.2" r="3.1"/><circle cx="1059.3" cy="693.7" r="3.6"/><circle cx="1046.1" cy="697.1" r="3.1"/><circle cx="1033.7" cy="701.5" r="2.8"/><circle cx="1037.6" cy="706.1" r="3.1"/><circle cx="1023.4" cy="718.8" r="2.8"/><circle cx="1038.9" cy="719.8" r="2.8"/><circle cx="1053.6" cy="744.3" r="3.1"/><circle cx="1064.2" cy="659.9" r="3.6"/><circle cx="1076.8" cy="659.6" r="3.6"/><circle cx="1091.3" cy="656.8" r="2.8"/><circle cx="1060.6" cy="670.5" r="3.4"/><circle cx="1073.7" cy="671.0" r="3.6"/><circle cx="1090.8" cy="669.2" r="3.1"/><circle cx="1107.8" cy="667.1" r="3.6"/><circle cx="1078.4" cy="684.7" r="2.8"/><circle cx="1084.3" cy="683.6" r="2.6"/><circle cx="1097.8" cy="688.3" r="3.4"/><circle cx="1104.7" cy="696.0" r="3.1"/><circle cx="1079.7" cy="703.3" r="2.8"/><circle cx="1089.8" cy="704.6" r="2.6"/><circle cx="1081.5" cy="718.0" r="3.1"/><circle cx="1074.5" cy="724.2" r="3.1"/><circle cx="1093.9" cy="718.2" r="3.1"/><circle cx="1104.0" cy="728.3" r="3.1"/><circle cx="1118.4" cy="715.1" r="3.1"/><circle cx="1125.4" cy="748.5" r="2.6"/><circle cx="1120.7" cy="657.8" r="3.1"/><circle cx="1125.4" cy="655.2" r="3.1"/><circle cx="1131.1" cy="655.2" r="2.6"/><circle cx="1133.1" cy="661.9" r="3.4"/><circle cx="1127.5" cy="667.6" r="3.6"/><circle cx="1125.9" cy="671.5" r="3.1"/><circle cx="1130.0" cy="671.5" r="3.1"/><circle cx="1142.2" cy="666.3" r="3.1"/><circle cx="1147.9" cy="656.8" r="3.1"/><circle cx="1157.2" cy="673.8" r="3.1"/><circle cx="1151.2" cy="676.4" r="3.1"/><circle cx="1145.5" cy="679.0" r="3.1"/><circle cx="1139.6" cy="686.7" r="7.0"/><circle cx="1136.5" cy="688.0" r="3.1"/><circle cx="1138.3" cy="683.6" r="3.1"/><circle cx="1152.5" cy="685.4" r="5.7"/><circle cx="1138.8" cy="696.0" r="3.1"/><circle cx="1134.4" cy="699.1" r="2.6"/><circle cx="1129.8" cy="698.4" r="2.6"/><circle cx="1164.7" cy="682.9" r="3.6"/><circle cx="1168.0" cy="688.8" r="2.6"/><circle cx="1165.4" cy="691.4" r="3.1"/><circle cx="1166.7" cy="694.0" r="3.1"/><circle cx="1169.3" cy="669.4" r="3.4"/><circle cx="1173.7" cy="675.9" r="3.1"/><circle cx="1180.7" cy="667.6" r="3.1"/><circle cx="1184.3" cy="675.4" r="3.4"/><circle cx="1182.5" cy="681.6" r="3.1"/><circle cx="1174.5" cy="681.6" r="3.1"/><circle cx="1159.7" cy="703.3" r="3.1"/><circle cx="1145.5" cy="710.0" r="3.1"/><circle cx="1174.5" cy="711.0" r="3.1"/><circle cx="1146.8" cy="721.1" r="2.8"/><circle cx="1141.7" cy="726.5" r="2.8"/><circle cx="1159.2" cy="719.8" r="2.8"/><circle cx="1187.9" cy="720.1" r="3.1"/><circle cx="1185.8" cy="727.0" r="2.8"/><circle cx="1134.4" cy="734.3" r="2.8"/><circle cx="1169.6" cy="735.5" r="2.6"/><circle cx="1159.0" cy="748.5" r="2.8"/><circle cx="1162.1" cy="746.7" r="2.6"/><circle cx="1178.9" cy="748.5" r="3.4"/><circle cx="1178.3" cy="747.9" r="2.6"/><circle cx="1118.9" cy="691.4" r="5.2"/><circle cx="1121.5" cy="687.5" r="2.6"/><circle cx="1201.1" cy="672.8" r="3.1"/><circle cx="1202.6" cy="661.7" r="3.1"/><circle cx="1208.8" cy="660.9" r="3.1"/><circle cx="1206.7" cy="653.9" r="3.1"/><circle cx="1215.0" cy="656.5" r="3.1"/><circle cx="1221.7" cy="661.7" r="3.6"/><circle cx="1219.7" cy="637.7" r="3.1"/><circle cx="1225.3" cy="644.1" r="3.6"/><circle cx="1226.1" cy="653.2" r="3.6"/><circle cx="1232.6" cy="653.9" r="3.1"/><circle cx="1240.3" cy="638.4" r="3.1"/><circle cx="1244.2" cy="641.0" r="3.1"/><circle cx="1250.7" cy="637.7" r="3.1"/><circle cx="1257.1" cy="635.9" r="3.1"/><circle cx="1262.3" cy="633.3" r="3.1"/><circle cx="1232.1" cy="633.0" r="3.1"/><circle cx="1241.6" cy="632.0" r="3.1"/><circle cx="1254.5" cy="632.0" r="3.1"/><circle cx="1227.4" cy="672.8" r="3.4"/><circle cx="1231.3" cy="678.5" r="3.1"/><circle cx="1236.7" cy="676.4" r="3.4"/><circle cx="1239.8" cy="676.4" r="3.9"/><circle cx="1246.3" cy="676.7" r="3.1"/><circle cx="1239.3" cy="682.9" r="3.1"/><circle cx="1220.7" cy="690.4" r="3.1"/><circle cx="1215.5" cy="694.5" r="3.1"/><circle cx="1229.0" cy="698.4" r="3.1"/><circle cx="1232.1" cy="688.3" r="3.1"/><circle cx="1228.4" cy="690.9" r="3.1"/><circle cx="1238.8" cy="691.9" r="3.1"/><circle cx="1223.5" cy="707.7" r="2.8"/><circle cx="1246.3" cy="706.1" r="3.1"/><circle cx="1248.1" cy="702.5" r="3.1"/><circle cx="1237.0" cy="713.9" r="3.1"/><circle cx="1221.5" cy="717.2" r="3.1"/><circle cx="1221.2" cy="721.9" r="3.1"/><circle cx="1234.9" cy="726.0" r="3.1"/><circle cx="1215.0" cy="728.3" r="3.1"/><circle cx="1259.4" cy="703.3" r="3.1"/><circle cx="1237.0" cy="667.6" r="3.1"/><circle cx="1242.9" cy="664.3" r="3.1"/><circle cx="1250.7" cy="665.6" r="3.1"/><circle cx="1254.5" cy="667.6" r="3.1"/><circle cx="1263.1" cy="666.1" r="3.1"/><circle cx="1266.1" cy="668.1" r="3.1"/><circle cx="1272.6" cy="661.7" r="3.1"/><circle cx="1277.8" cy="672.0" r="3.1"/><circle cx="1281.6" cy="661.7" r="3.1"/><circle cx="1277.8" cy="682.9" r="3.1"/><circle cx="1271.6" cy="695.5" r="3.6"/><circle cx="1281.1" cy="699.7" r="3.1"/><circle cx="1282.2" cy="691.4" r="3.1"/><circle cx="1285.5" cy="690.1" r="3.1"/><circle cx="1289.4" cy="695.3" r="3.9"/><circle cx="1288.1" cy="681.6" r="3.1"/><circle cx="1288.9" cy="676.1" r="3.6"/><circle cx="1295.3" cy="663.0" r="3.1"/><circle cx="1303.6" cy="664.3" r="3.1"/><circle cx="1306.7" cy="667.4" r="3.1"/><circle cx="1312.6" cy="661.7" r="3.1"/><circle cx="1319.1" cy="668.1" r="3.1"/><circle cx="1316.5" cy="678.5" r="3.6"/><circle cx="1315.7" cy="686.7" r="3.1"/><circle cx="1323.0" cy="690.1" r="3.1"/><circle cx="1323.0" cy="695.3" r="3.1"/><circle cx="1326.3" cy="690.1" r="2.6"/><circle cx="1304.1" cy="685.4" r="3.1"/><circle cx="1299.7" cy="688.8" r="3.1"/><circle cx="1301.5" cy="705.1" r="3.6"/><circle cx="1328.1" cy="661.7" r="3.1"/><circle cx="1339.8" cy="666.9" r="3.1"/><circle cx="1341.0" cy="673.8" r="3.1"/><circle cx="1338.5" cy="679.0" r="3.6"/><circle cx="1348.3" cy="669.9" r="3.1"/><circle cx="1354.0" cy="669.4" r="3.1"/><circle cx="1356.5" cy="672.0" r="3.1"/><circle cx="1361.7" cy="667.6" r="3.1"/><circle cx="1366.9" cy="667.6" r="3.1"/><circle cx="1332.8" cy="706.1" r="3.1"/><circle cx="1337.2" cy="707.4" r="3.1"/><circle cx="1343.9" cy="713.3" r="3.6"/><circle cx="1348.8" cy="703.8" r="3.1"/><circle cx="1351.9" cy="711.0" r="3.1"/><circle cx="1351.1" cy="723.7" r="3.1"/><circle cx="1350.9" cy="692.4" r="3.9"/><circle cx="1361.5" cy="688.0" r="3.1"/><circle cx="1379.8" cy="664.8" r="3.1"/><circle cx="1382.4" cy="664.8" r="3.1"/><circle cx="1386.2" cy="667.6" r="3.1"/><circle cx="1387.5" cy="700.4" r="3.6"/><circle cx="1392.7" cy="687.5" r="3.1"/><circle cx="1394.8" cy="707.4" r="3.1"/><circle cx="1395.3" cy="674.6" r="3.1"/><circle cx="1398.4" cy="673.8" r="3.1"/><circle cx="1398.6" cy="683.1" r="3.1"/><circle cx="1417.2" cy="670.7" r="3.1"/><circle cx="1418.5" cy="672.8" r="3.1"/><circle cx="1422.9" cy="681.8" r="3.4"/><circle cx="1430.9" cy="671.2" r="3.1"/><circle cx="1441.8" cy="666.1" r="3.1"/><circle cx="1447.7" cy="663.2" r="3.1"/><circle cx="1456.0" cy="659.4" r="3.4"/><circle cx="1462.2" cy="679.5" r="3.4"/><circle cx="1469.7" cy="677.2" r="2.6"/><circle cx="1298.4" cy="748.7" r="2.6"/><circle cx="1299.7" cy="748.7" r="2.6"/><circle cx="1309.3" cy="741.5" r="2.6"/><circle cx="1324.8" cy="748.7" r="2.6"/><circle cx="1492.9" cy="592.5" r="2.6"/><circle cx="1476.1" cy="595.6" r="2.6"/><circle cx="1474.1" cy="588.3" r="2.6"/><circle cx="1462.4" cy="592.0" r="2.6"/><circle cx="1462.9" cy="584.7" r="3.1"/><circle cx="1454.7" cy="577.2" r="2.6"/><circle cx="1466.8" cy="578.5" r="2.6"/><circle cx="1461.9" cy="598.9" r="2.6"/><circle cx="1459.9" cy="616.5" r="2.6"/><circle cx="1458.6" cy="628.1" r="2.6"/><circle cx="1450.8" cy="625.5" r="3.1"/><circle cx="1454.7" cy="639.7" r="3.1"/><circle cx="1461.1" cy="642.3" r="3.1"/><circle cx="1450.8" cy="647.5" r="3.1"/><circle cx="1456.0" cy="650.1" r="3.1"/><circle cx="1448.2" cy="642.3" r="3.1"/><circle cx="1446.9" cy="663.0" r="3.1"/><circle cx="1421.1" cy="652.6" r="3.1"/><circle cx="1426.3" cy="647.5" r="3.1"/><circle cx="1431.4" cy="655.2" r="3.1"/><circle cx="1430.1" cy="657.8" r="3.1"/><circle cx="1439.2" cy="650.1" r="3.1"/><circle cx="1435.3" cy="646.2" r="3.1"/><circle cx="1302.3" cy="650.6" r="3.1"/><circle cx="1301.0" cy="650.1" r="2.6"/><circle cx="1312.6" cy="644.9" r="3.1"/><circle cx="1320.4" cy="652.6" r="3.1"/><circle cx="1329.4" cy="653.9" r="3.1"/><circle cx="1333.3" cy="655.2" r="3.1"/><circle cx="1354.0" cy="653.9" r="3.1"/><circle cx="1361.7" cy="653.9" r="3.1"/><circle cx="1369.5" cy="660.4" r="3.1"/><circle cx="1385.0" cy="651.4" r="3.1"/><circle cx="1397.9" cy="655.2" r="3.1"/><circle cx="1405.6" cy="657.8" r="3.1"/><circle cx="1413.4" cy="652.6" r="3.1"/><circle cx="981.8" cy="347.8" r="3.1"/><circle cx="982.8" cy="379.8" r="5.2"/><circle cx="974.6" cy="394.3" r="5.2"/><circle cx="954.4" cy="422.2" r="7.8"/><circle cx="950.8" cy="452.7" r="9.8"/><circle cx="954.9" cy="488.6" r="3.6"/><circle cx="987.2" cy="470.8" r="9.6"/><circle cx="993.2" cy="467.7" r="5.2"/><circle cx="988.5" cy="450.9" r="7.2"/><circle cx="986.7" cy="446.2" r="4.4"/><circle cx="995.7" cy="441.8" r="7.8"/><circle cx="1003.5" cy="443.1" r="7.2"/><circle cx="989.8" cy="495.3" r="7.2"/><circle cx="989.3" cy="503.6" r="5.7"/><circle cx="984.9" cy="525.3" r="7.5"/><circle cx="974.3" cy="550.8" r="7.5"/><circle cx="969.1" cy="562.4" r="5.2"/><circle cx="975.9" cy="560.6" r="5.2"/><circle cx="969.1" cy="566.3" r="4.4"/><circle cx="1006.1" cy="405.7" r="5.2"/><circle cx="1016.9" cy="420.9" r="10.8"/><circle cx="1020.8" cy="420.4" r="5.7"/><circle cx="1023.4" cy="418.3" r="3.1"/><circle cx="1015.6" cy="425.6" r="3.1"/><circle cx="1023.4" cy="428.1" r="3.1"/><circle cx="1005.3" cy="432.5" r="3.1"/><circle cx="1007.9" cy="429.4" r="4.7"/><circle cx="1026.2" cy="438.7" r="3.9"/><circle cx="1044.6" cy="409.5" r="5.7"/><circle cx="1055.7" cy="407.5" r="3.9"/><circle cx="1041.2" cy="416.5" r="5.2"/><circle cx="1052.6" cy="423.5" r="5.2"/><circle cx="1053.1" cy="427.6" r="9.0"/><circle cx="1063.4" cy="423.5" r="3.1"/><circle cx="1066.5" cy="433.3" r="3.1"/><circle cx="1070.4" cy="427.9" r="7.2"/><circle cx="1054.4" cy="446.2" r="3.1"/><circle cx="1038.9" cy="435.9" r="9.6"/><circle cx="1036.3" cy="442.3" r="9.6"/><circle cx="1029.3" cy="447.5" r="3.9"/><circle cx="1036.3" cy="460.4" r="4.4"/><circle cx="1042.0" cy="457.3" r="3.1"/><circle cx="1043.5" cy="467.7" r="8.3"/><circle cx="1042.2" cy="470.8" r="5.2"/><circle cx="1045.3" cy="479.3" r="8.8"/><circle cx="1040.9" cy="479.3" r="3.9"/><circle cx="1058.8" cy="483.7" r="3.9"/><circle cx="1054.9" cy="488.8" r="4.7"/><circle cx="1061.6" cy="497.1" r="3.1"/><circle cx="1059.5" cy="494.5" r="3.9"/><circle cx="1053.9" cy="498.6" r="3.9"/><circle cx="1057.7" cy="466.9" r="3.1"/><circle cx="1022.1" cy="477.2" r="6.5"/><circle cx="1032.7" cy="477.2" r="3.6"/><circle cx="1042.7" cy="503.0" r="7.8"/><circle cx="1037.6" cy="500.5" r="4.4"/><circle cx="1036.5" cy="501.5" r="3.1"/><circle cx="1061.6" cy="440.5" r="4.4"/><circle cx="1073.7" cy="444.9" r="5.7"/><circle cx="1069.9" cy="451.4" r="5.2"/><circle cx="1077.6" cy="447.5" r="3.1"/><circle cx="1082.0" cy="443.6" r="4.4"/><circle cx="1090.0" cy="448.0" r="3.1"/><circle cx="1095.7" cy="443.1" r="3.6"/><circle cx="1099.1" cy="372.1" r="3.1"/><circle cx="1099.8" cy="402.1" r="3.9"/><circle cx="1110.4" cy="408.0" r="5.7"/><circle cx="1078.9" cy="473.3" r="5.2"/><circle cx="1087.4" cy="468.7" r="5.2"/><circle cx="1087.4" cy="477.7" r="5.7"/><circle cx="1100.1" cy="468.7" r="4.4"/><circle cx="1093.6" cy="455.8" r="3.9"/><circle cx="1101.6" cy="454.7" r="3.1"/><circle cx="1107.8" cy="448.8" r="9.0"/><circle cx="1109.9" cy="452.7" r="5.7"/><circle cx="1076.3" cy="490.1" r="9.0"/><circle cx="1077.6" cy="501.2" r="7.8"/><circle cx="1078.9" cy="501.2" r="4.7"/><circle cx="1069.9" cy="513.4" r="3.1"/><circle cx="1077.1" cy="510.8" r="3.1"/><circle cx="1062.6" cy="518.5" r="5.2"/><circle cx="1068.6" cy="521.6" r="5.2"/><circle cx="1071.2" cy="523.2" r="3.9"/><circle cx="1072.4" cy="531.4" r="3.9"/><circle cx="1083.3" cy="530.2" r="7.8"/><circle cx="1087.9" cy="534.0" r="3.4"/><circle cx="1072.4" cy="539.2" r="5.7"/><circle cx="1084.1" cy="550.8" r="5.7"/><circle cx="1097.0" cy="554.7" r="7.8"/><circle cx="1084.6" cy="561.1" r="3.1"/><circle cx="1106.5" cy="559.6" r="2.6"/><circle cx="1112.5" cy="563.2" r="3.9"/><circle cx="1118.9" cy="549.5" r="9.0"/><circle cx="1111.2" cy="536.6" r="6.5"/><circle cx="1028.5" cy="534.0" r="15.5"/><circle cx="1017.4" cy="531.4" r="4.7"/><circle cx="1046.6" cy="553.4" r="20.7"/><circle cx="1054.4" cy="558.1" r="4.4"/><circle cx="1059.0" cy="549.5" r="5.7"/><circle cx="1063.4" cy="549.5" r="7.8"/><circle cx="1055.1" cy="543.6" r="4.7"/><circle cx="1041.5" cy="565.0" r="5.2"/><circle cx="1093.1" cy="490.1" r="6.5"/><circle cx="1099.6" cy="497.9" r="7.8"/><circle cx="1103.4" cy="505.6" r="7.8"/><circle cx="1104.7" cy="513.4" r="7.2"/><circle cx="1097.0" cy="521.1" r="3.9"/><circle cx="1107.3" cy="521.1" r="6.5"/><circle cx="1115.1" cy="508.2" r="5.2"/><circle cx="1122.8" cy="512.1" r="7.8"/><circle cx="1108.1" cy="472.0" r="5.7"/><circle cx="1115.1" cy="474.6" r="6.5"/><circle cx="1122.8" cy="465.6" r="3.9"/><circle cx="1112.5" cy="482.4" r="6.5"/><circle cx="1104.2" cy="485.0" r="6.5"/><circle cx="1121.5" cy="488.8" r="6.5"/><circle cx="1125.4" cy="495.3" r="5.7"/><circle cx="1129.3" cy="485.0" r="5.2"/><circle cx="1118.9" cy="531.4" r="5.7"/><circle cx="1122.8" cy="525.0" r="6.5"/><circle cx="1128.0" cy="526.3" r="5.2"/><circle cx="1130.6" cy="543.1" r="5.7"/><circle cx="1134.4" cy="546.9" r="4.7"/><circle cx="1139.6" cy="554.7" r="5.7"/><circle cx="1129.3" cy="448.8" r="6.5"/><circle cx="1125.4" cy="452.7" r="5.7"/><circle cx="1128.5" cy="424.3" r="3.1"/><circle cx="1128.0" cy="429.4" r="2.6"/><circle cx="1134.9" cy="426.1" r="4.4"/><circle cx="1131.9" cy="439.8" r="7.8"/><circle cx="1137.0" cy="443.6" r="5.2"/><circle cx="1144.8" cy="439.8" r="5.7"/><circle cx="1151.2" cy="434.6" r="5.2"/><circle cx="1153.8" cy="450.1" r="6.5"/><circle cx="1160.8" cy="428.1" r="5.2"/><circle cx="1164.1" cy="434.6" r="3.9"/><circle cx="1165.4" cy="399.7" r="7.2"/><circle cx="1157.7" cy="459.1" r="3.1"/><circle cx="1165.4" cy="457.8" r="5.2"/><circle cx="1171.9" cy="456.6" r="5.2"/><circle cx="1171.9" cy="435.9" r="4.4"/><circle cx="1178.3" cy="448.8" r="3.9"/><circle cx="1180.9" cy="443.6" r="6.5"/><circle cx="1187.4" cy="452.7" r="5.7"/><circle cx="1186.9" cy="464.3" r="6.5"/><circle cx="1195.1" cy="440.5" r="4.4"/><circle cx="1198.2" cy="409.0" r="3.1"/><circle cx="1142.2" cy="469.5" r="5.2"/><circle cx="1148.6" cy="465.6" r="5.2"/><circle cx="1155.1" cy="474.6" r="5.2"/><circle cx="1162.8" cy="477.2" r="6.5"/><circle cx="1170.6" cy="479.8" r="5.7"/><circle cx="1179.6" cy="470.8" r="5.2"/><circle cx="1186.1" cy="479.8" r="5.7"/><circle cx="1193.8" cy="474.6" r="6.5"/><circle cx="1142.2" cy="482.4" r="6.5"/><circle cx="1146.1" cy="495.3" r="7.8"/><circle cx="1149.9" cy="500.5" r="6.5"/><circle cx="1159.0" cy="497.9" r="5.2"/><circle cx="1168.0" cy="495.3" r="5.7"/><circle cx="1175.8" cy="492.7" r="5.2"/><circle cx="1186.1" cy="490.1" r="5.2"/><circle cx="1183.5" cy="505.6" r="5.7"/><circle cx="1193.8" cy="500.5" r="5.2"/><circle cx="1137.0" cy="508.2" r="6.5"/><circle cx="1144.8" cy="516.0" r="5.2"/><circle cx="1152.5" cy="513.4" r="6.5"/><circle cx="1162.8" cy="521.1" r="5.7"/><circle cx="1173.2" cy="516.0" r="6.5"/><circle cx="1183.5" cy="526.3" r="7.8"/><circle cx="1191.3" cy="534.0" r="9.0"/><circle cx="1193.8" cy="523.7" r="6.5"/><circle cx="1197.7" cy="510.8" r="6.5"/><circle cx="1178.3" cy="534.0" r="5.2"/><circle cx="1142.2" cy="536.6" r="5.7"/><circle cx="1152.5" cy="534.0" r="6.5"/><circle cx="1160.3" cy="539.2" r="5.2"/><circle cx="1168.0" cy="549.5" r="6.5"/><circle cx="1175.8" cy="544.4" r="5.2"/><circle cx="1183.5" cy="552.1" r="5.7"/><circle cx="1191.3" cy="554.7" r="5.2"/><circle cx="1196.4" cy="544.4" r="5.7"/><circle cx="1142.2" cy="549.5" r="6.5"/><circle cx="1149.9" cy="552.1" r="5.7"/><circle cx="1155.1" cy="562.4" r="5.2"/><circle cx="1168.0" cy="562.4" r="5.7"/><circle cx="1178.3" cy="562.4" r="5.2"/><circle cx="1188.7" cy="565.0" r="3.9"/><circle cx="1129.3" cy="567.6" r="5.2"/><circle cx="1149.9" cy="567.6" r="6.5"/><circle cx="1214.2" cy="378.3" r="5.7"/><circle cx="1214.2" cy="390.7" r="5.7"/><circle cx="1215.8" cy="409.8" r="5.2"/><circle cx="1206.7" cy="412.6" r="4.1"/><circle cx="1201.1" cy="408.8" r="3.6"/><circle cx="1232.3" cy="419.4" r="4.1"/><circle cx="1278.5" cy="399.7" r="5.2"/><circle cx="1267.7" cy="420.9" r="3.9"/><circle cx="1261.2" cy="434.6" r="5.9"/><circle cx="1208.0" cy="426.9" r="8.3"/><circle cx="1211.9" cy="435.9" r="5.2"/><circle cx="1212.7" cy="439.8" r="3.9"/><circle cx="1226.9" cy="440.5" r="4.7"/><circle cx="1202.6" cy="451.4" r="3.9"/><circle cx="1242.9" cy="451.4" r="3.9"/><circle cx="1251.2" cy="444.9" r="3.9"/><circle cx="1272.9" cy="446.7" r="5.7"/><circle cx="1282.4" cy="455.3" r="5.4"/><circle cx="1267.4" cy="453.5" r="4.4"/><circle cx="1302.3" cy="435.4" r="5.2"/><circle cx="1315.2" cy="432.5" r="7.0"/><circle cx="1303.1" cy="450.6" r="3.4"/><circle cx="1338.2" cy="445.7" r="3.1"/><circle cx="1384.7" cy="410.3" r="3.1"/><circle cx="1390.1" cy="432.5" r="3.9"/><circle cx="1319.4" cy="453.2" r="4.4"/><circle cx="1249.6" cy="464.3" r="5.9"/><circle cx="1262.0" cy="455.8" r="3.9"/><circle cx="1237.2" cy="457.3" r="2.6"/><circle cx="1268.7" cy="459.1" r="3.4"/><circle cx="1284.2" cy="468.7" r="4.4"/><circle cx="1294.6" cy="458.4" r="5.2"/><circle cx="1297.1" cy="461.2" r="4.4"/><circle cx="1305.4" cy="469.5" r="3.1"/><circle cx="1317.0" cy="460.4" r="3.9"/><circle cx="1325.0" cy="463.8" r="4.4"/><circle cx="1339.8" cy="463.0" r="3.4"/><circle cx="1355.0" cy="461.7" r="3.4"/><circle cx="1347.5" cy="471.8" r="3.1"/><circle cx="1368.2" cy="468.2" r="3.4"/><circle cx="1334.3" cy="473.6" r="3.1"/><circle cx="1344.4" cy="483.2" r="3.1"/><circle cx="1298.4" cy="466.4" r="4.4"/><circle cx="1280.1" cy="477.7" r="4.1"/><circle cx="1256.3" cy="466.4" r="4.4"/><circle cx="1248.1" cy="479.3" r="3.1"/><circle cx="1237.7" cy="472.8" r="3.1"/><circle cx="1230.8" cy="478.2" r="3.1"/><circle cx="1229.2" cy="469.5" r="4.4"/><circle cx="1219.7" cy="459.1" r="7.2"/><circle cx="1217.1" cy="463.0" r="6.5"/><circle cx="1214.5" cy="472.0" r="4.4"/><circle cx="1202.6" cy="461.7" r="3.9"/><circle cx="1201.6" cy="469.5" r="3.1"/><circle cx="1385.5" cy="479.0" r="4.4"/><circle cx="1395.3" cy="479.0" r="2.6"/><circle cx="1419.3" cy="477.2" r="2.6"/><circle cx="1419.8" cy="484.4" r="2.6"/><circle cx="1426.0" cy="484.4" r="2.6"/><circle cx="1431.2" cy="485.7" r="2.6"/><circle cx="1418.3" cy="490.6" r="2.6"/><circle cx="1449.0" cy="460.7" r="2.6"/><circle cx="1467.6" cy="449.6" r="2.6"/><circle cx="1496.0" cy="456.3" r="2.6"/><circle cx="1500.9" cy="484.4" r="2.6"/><circle cx="1480.8" cy="473.1" r="2.6"/><circle cx="1470.4" cy="482.6" r="2.6"/><circle cx="1476.9" cy="492.2" r="2.6"/><circle cx="1473.8" cy="497.6" r="2.6"/><circle cx="1482.3" cy="507.7" r="2.6"/><circle cx="1463.2" cy="485.7" r="2.6"/><circle cx="1453.9" cy="478.0" r="2.6"/><circle cx="1442.8" cy="485.0" r="2.6"/><circle cx="1453.9" cy="489.9" r="2.6"/><circle cx="1449.0" cy="497.9" r="2.6"/><circle cx="1452.1" cy="500.5" r="2.6"/><circle cx="1447.7" cy="505.6" r="2.6"/><circle cx="1439.7" cy="506.9" r="2.6"/><circle cx="1434.0" cy="496.1" r="3.1"/><circle cx="1432.7" cy="495.3" r="2.6"/><circle cx="1428.1" cy="489.6" r="2.6"/><circle cx="1421.6" cy="490.1" r="2.6"/><circle cx="1411.3" cy="493.7" r="3.1"/><circle cx="1407.7" cy="503.6" r="3.1"/><circle cx="1414.7" cy="503.6" r="2.6"/><circle cx="1399.2" cy="501.7" r="2.6"/><circle cx="1390.1" cy="503.6" r="3.1"/><circle cx="1377.2" cy="490.9" r="2.6"/><circle cx="1372.6" cy="482.6" r="2.6"/><circle cx="1369.2" cy="490.9" r="3.1"/><circle cx="1357.1" cy="485.0" r="3.1"/><circle cx="1363.3" cy="485.7" r="2.6"/><circle cx="1360.7" cy="491.9" r="2.6"/><circle cx="1354.0" cy="495.3" r="3.9"/><circle cx="1381.9" cy="497.9" r="3.1"/><circle cx="1468.1" cy="517.0" r="2.6"/><circle cx="1466.3" cy="525.0" r="2.6"/><circle cx="1460.4" cy="522.4" r="3.1"/><circle cx="1482.6" cy="545.1" r="2.6"/><circle cx="1477.9" cy="559.9" r="2.6"/><circle cx="1483.9" cy="556.0" r="2.6"/><circle cx="1486.7" cy="561.4" r="2.6"/><circle cx="1461.9" cy="558.8" r="2.6"/><circle cx="1457.3" cy="565.0" r="3.1"/><circle cx="1450.8" cy="542.8" r="2.6"/><circle cx="1450.8" cy="533.3" r="2.6"/><circle cx="1450.0" cy="516.0" r="2.6"/><circle cx="1455.2" cy="526.8" r="2.6"/><circle cx="1442.5" cy="533.3" r="2.6"/><circle cx="1442.5" cy="539.2" r="2.6"/><circle cx="1444.4" cy="549.5" r="3.1"/><circle cx="1443.1" cy="545.7" r="2.6"/><circle cx="1439.7" cy="524.2" r="2.6"/><circle cx="1435.3" cy="513.4" r="2.6"/><circle cx="1436.1" cy="525.8" r="2.6"/><circle cx="1430.1" cy="507.7" r="2.6"/><circle cx="1427.6" cy="519.8" r="2.6"/><circle cx="1421.1" cy="516.0" r="2.6"/><circle cx="1421.1" cy="531.4" r="2.6"/><circle cx="1427.6" cy="527.6" r="2.6"/><circle cx="313.2" cy="347.8" r="4.4"/><circle cx="357.3" cy="346.9" r="4.0"/><circle cx="367.5" cy="349.7" r="6.1"/><circle cx="422.2" cy="337.6" r="6.9"/><circle cx="471.6" cy="332.4" r="6.0"/><circle cx="457.4" cy="349.7" r="4.0"/><circle cx="464.3" cy="349.7" r="4.0"/><circle cx="473.2" cy="347.3" r="5.2"/><circle cx="489.7" cy="357.4" r="4.4"/><circle cx="302.4" cy="351.0" r="4.8"/><circle cx="301.6" cy="359.1" r="4.0"/><circle cx="310.5" cy="364.7" r="5.7"/><circle cx="309.7" cy="370.4" r="6.5"/><circle cx="320.7" cy="366.3" r="3.2"/><circle cx="323.4" cy="373.6" r="3.2"/><circle cx="328.2" cy="373.3" r="7.3"/><circle cx="318.6" cy="373.6" r="4.8"/><circle cx="301.6" cy="378.4" r="4.8"/><circle cx="311.3" cy="381.7" r="3.2"/><circle cx="329.1" cy="386.8" r="5.7"/><circle cx="338.7" cy="387.3" r="4.5"/><circle cx="335.5" cy="381.3" r="2.4"/><circle cx="347.1" cy="384.9" r="3.2"/><circle cx="336.8" cy="400.2" r="5.7"/><circle cx="315.3" cy="405.9" r="3.2"/><circle cx="301.6" cy="391.3" r="4.0"/><circle cx="302.4" cy="412.3" r="7.3"/><circle cx="301.6" cy="418.8" r="3.2"/><circle cx="303.2" cy="428.5" r="8.1"/><circle cx="316.9" cy="424.4" r="3.2"/><circle cx="319.4" cy="430.9" r="2.9"/><circle cx="314.5" cy="436.5" r="4.8"/><circle cx="309.7" cy="434.9" r="4.0"/><circle cx="385.6" cy="362.0" r="2.7"/><circle cx="392.0" cy="363.4" r="4.0"/><circle cx="385.9" cy="370.4" r="3.5"/><circle cx="389.6" cy="380.0" r="7.3"/><circle cx="383.1" cy="388.4" r="6.0"/><circle cx="387.2" cy="393.0" r="4.8"/><circle cx="396.9" cy="386.5" r="5.7"/><circle cx="400.1" cy="378.4" r="4.8"/><circle cx="404.9" cy="373.6" r="4.8"/><circle cx="409.8" cy="370.4" r="3.2"/><circle cx="414.6" cy="373.6" r="4.8"/><circle cx="421.1" cy="372.5" r="4.0"/><circle cx="418.2" cy="363.9" r="5.3"/><circle cx="415.4" cy="388.9" r="2.7"/><circle cx="406.5" cy="384.9" r="5.7"/><circle cx="363.0" cy="386.5" r="7.8"/><circle cx="367.8" cy="393.0" r="5.7"/><circle cx="352.0" cy="395.4" r="4.0"/><circle cx="358.1" cy="392.1" r="2.4"/><circle cx="430.8" cy="372.8" r="4.0"/><circle cx="429.1" cy="378.4" r="2.7"/><circle cx="434.8" cy="383.3" r="4.8"/><circle cx="438.8" cy="380.0" r="4.8"/><circle cx="444.5" cy="386.5" r="5.7"/><circle cx="452.5" cy="377.6" r="4.8"/><circle cx="459.5" cy="384.1" r="4.0"/><circle cx="464.6" cy="368.7" r="7.6"/><circle cx="470.3" cy="376.8" r="4.0"/><circle cx="484.0" cy="377.6" r="4.8"/><circle cx="498.5" cy="383.8" r="3.2"/><circle cx="498.2" cy="393.0" r="1.9"/><circle cx="429.1" cy="393.0" r="4.8"/><circle cx="422.7" cy="397.8" r="3.2"/><circle cx="419.5" cy="401.8" r="4.0"/><circle cx="409.8" cy="401.8" r="4.0"/><circle cx="403.3" cy="403.4" r="4.8"/><circle cx="396.9" cy="405.9" r="4.0"/><circle cx="388.8" cy="405.9" r="5.7"/><circle cx="445.3" cy="401.0" r="6.0"/><circle cx="459.0" cy="400.2" r="5.7"/><circle cx="459.8" cy="394.6" r="4.0"/><circle cx="473.5" cy="390.5" r="4.0"/><circle cx="477.6" cy="393.8" r="4.8"/><circle cx="479.2" cy="404.3" r="7.3"/><circle cx="471.1" cy="405.9" r="3.2"/><circle cx="487.2" cy="401.0" r="4.0"/><circle cx="493.7" cy="402.6" r="2.7"/><circle cx="494.5" cy="409.9" r="2.7"/><circle cx="369.4" cy="402.6" r="4.8"/><circle cx="375.1" cy="407.5" r="5.7"/><circle cx="379.1" cy="401.0" r="3.2"/><circle cx="366.2" cy="409.1" r="4.0"/><circle cx="357.3" cy="411.5" r="4.0"/><circle cx="344.4" cy="410.7" r="5.3"/><circle cx="344.9" cy="419.6" r="5.3"/><circle cx="363.8" cy="421.2" r="6.5"/><circle cx="358.1" cy="419.6" r="4.0"/><circle cx="366.2" cy="426.9" r="4.8"/><circle cx="353.3" cy="430.1" r="3.2"/><circle cx="350.8" cy="443.0" r="5.7"/><circle cx="348.4" cy="441.4" r="7.3"/><circle cx="360.5" cy="451.1" r="7.3"/><circle cx="353.3" cy="452.7" r="4.8"/><circle cx="335.5" cy="433.3" r="8.4"/><circle cx="335.5" cy="434.9" r="4.0"/><circle cx="329.1" cy="452.7" r="4.0"/><circle cx="324.2" cy="464.0" r="5.7"/><circle cx="329.9" cy="468.8" r="4.8"/><circle cx="342.0" cy="470.4" r="6.8"/><circle cx="343.6" cy="468.8" r="4.0"/><circle cx="319.4" cy="462.4" r="4.8"/><circle cx="312.9" cy="470.4" r="3.2"/><circle cx="380.7" cy="422.0" r="7.3"/><circle cx="377.5" cy="433.3" r="8.1"/><circle cx="382.3" cy="443.0" r="5.7"/><circle cx="375.9" cy="451.1" r="4.8"/><circle cx="396.9" cy="418.8" r="6.5"/><circle cx="400.1" cy="420.4" r="5.7"/><circle cx="409.8" cy="413.9" r="4.8"/><circle cx="419.5" cy="415.6" r="4.8"/><circle cx="424.3" cy="423.6" r="5.7"/><circle cx="413.0" cy="426.9" r="4.8"/><circle cx="403.3" cy="433.3" r="4.8"/><circle cx="416.2" cy="436.5" r="5.7"/><circle cx="406.5" cy="443.0" r="4.8"/><circle cx="425.9" cy="443.0" r="4.8"/><circle cx="432.4" cy="420.4" r="4.0"/><circle cx="437.2" cy="430.1" r="4.8"/><circle cx="442.1" cy="434.9" r="4.8"/><circle cx="445.3" cy="425.2" r="4.0"/><circle cx="451.7" cy="425.2" r="3.2"/><circle cx="448.5" cy="410.7" r="4.0"/><circle cx="456.6" cy="412.3" r="4.8"/><circle cx="461.4" cy="415.6" r="4.0"/><circle cx="467.9" cy="423.6" r="4.0"/><circle cx="474.3" cy="430.1" r="6.5"/><circle cx="480.8" cy="428.5" r="5.7"/><circle cx="487.2" cy="426.9" r="4.8"/><circle cx="492.1" cy="431.7" r="4.0"/><circle cx="464.6" cy="433.3" r="4.8"/><circle cx="461.4" cy="436.5" r="3.2"/><circle cx="490.5" cy="417.2" r="4.0"/><circle cx="496.9" cy="418.0" r="3.2"/><circle cx="498.5" cy="426.9" r="3.2"/><circle cx="390.4" cy="436.5" r="4.8"/><circle cx="393.6" cy="449.5" r="4.8"/><circle cx="398.5" cy="459.1" r="5.7"/><circle cx="411.4" cy="467.2" r="4.0"/><circle cx="419.5" cy="455.9" r="6.5"/><circle cx="422.7" cy="449.5" r="4.0"/><circle cx="429.1" cy="452.7" r="4.8"/><circle cx="383.9" cy="462.4" r="5.7"/><circle cx="390.4" cy="468.8" r="4.8"/><circle cx="400.1" cy="472.1" r="5.7"/><circle cx="409.8" cy="475.3" r="4.8"/><circle cx="364.6" cy="473.7" r="3.2"/><circle cx="374.3" cy="470.4" r="5.7"/><circle cx="437.2" cy="455.9" r="4.8"/><circle cx="445.3" cy="449.5" r="5.7"/><circle cx="451.7" cy="444.6" r="4.8"/><circle cx="457.4" cy="443.0" r="4.8"/><circle cx="463.0" cy="449.5" r="4.8"/><circle cx="440.4" cy="462.4" r="4.8"/><circle cx="450.1" cy="468.8" r="7.3"/><circle cx="455.0" cy="473.7" r="4.8"/><circle cx="461.4" cy="468.8" r="4.8"/><circle cx="471.1" cy="449.5" r="5.7"/><circle cx="477.6" cy="452.7" r="4.8"/><circle cx="485.6" cy="446.2" r="4.8"/><circle cx="492.1" cy="443.0" r="5.7"/><circle cx="496.9" cy="439.8" r="4.8"/><circle cx="480.8" cy="459.1" r="5.7"/><circle cx="490.5" cy="459.1" r="4.8"/><circle cx="498.5" cy="452.7" r="4.8"/><circle cx="471.1" cy="462.4" r="4.8"/><circle cx="477.6" cy="470.4" r="4.8"/><circle cx="487.2" cy="470.4" r="4.8"/><circle cx="496.9" cy="468.8" r="4.8"/><circle cx="469.5" cy="475.3" r="4.0"/></g><line x1="95.8" y1="122.5" x2="95.8" y2="779.6" stroke="#6e6e6e" stroke-width="1.9"/><line x1="94.9" y1="778.75" x2="816" y2="778.75" stroke="#6e6e6e" stroke-width="1.9"/><line x1="128.60" y1="778.75" x2="128.60" y2="784" stroke="#6e6e6e" stroke-width="1.9"/><line x1="259.48" y1="778.75" x2="259.48" y2="784" stroke="#6e6e6e" stroke-width="1.9"/><line x1="390.36" y1="778.75" x2="390.36" y2="784" stroke="#6e6e6e" stroke-width="1.9"/><line x1="521.24" y1="778.75" x2="521.24" y2="784" stroke="#6e6e6e" stroke-width="1.9"/><line x1="652.12" y1="778.75" x2="652.12" y2="784" stroke="#6e6e6e" stroke-width="1.9"/><line x1="783.00" y1="778.75" x2="783.00" y2="784" stroke="#6e6e6e" stroke-width="1.9"/><line x1="838.7" y1="778.75" x2="1559" y2="778.75" stroke="#6e6e6e" stroke-width="1.9"/><line x1="871.40" y1="778.75" x2="871.40" y2="784" stroke="#6e6e6e" stroke-width="1.9"/><line x1="1002.28" y1="778.75" x2="1002.28" y2="784" stroke="#6e6e6e" stroke-width="1.9"/><line x1="1133.16" y1="778.75" x2="1133.16" y2="784" stroke="#6e6e6e" stroke-width="1.9"/><line x1="1264.04" y1="778.75" x2="1264.04" y2="784" stroke="#6e6e6e" stroke-width="1.9"/><line x1="1394.92" y1="778.75" x2="1394.92" y2="784" stroke="#6e6e6e" stroke-width="1.9"/><line x1="1525.80" y1="778.75" x2="1525.80" y2="784" stroke="#6e6e6e" stroke-width="1.9"/><line x1="90" y1="748.75" x2="95.8" y2="748.75" stroke="#6e6e6e" stroke-width="1.9"/><line x1="90" y1="599.66" x2="95.8" y2="599.66" stroke="#6e6e6e" stroke-width="1.9"/><line x1="90" y1="450.57" x2="95.8" y2="450.57" stroke="#6e6e6e" stroke-width="1.9"/><line x1="90" y1="301.49" x2="95.8" y2="301.49" stroke="#6e6e6e" stroke-width="1.9"/><line x1="90" y1="152.40" x2="95.8" y2="152.40" stroke="#6e6e6e" stroke-width="1.9"/><text x="128.60" y="810" font-size="17.8" textLength="21" lengthAdjust="spacingAndGlyphs" text-anchor="middle">0%</text><text x="259.48" y="810" font-size="17.8" textLength="29.5" lengthAdjust="spacingAndGlyphs" text-anchor="middle">20%</text><text x="390.36" y="810" font-size="17.8" textLength="29.5" lengthAdjust="spacingAndGlyphs" text-anchor="middle">40%</text><text x="521.24" y="810" font-size="17.8" textLength="29.5" lengthAdjust="spacingAndGlyphs" text-anchor="middle">60%</text><text x="652.12" y="810" font-size="17.8" textLength="29.5" lengthAdjust="spacingAndGlyphs" text-anchor="middle">80%</text><text x="783.00" y="810" font-size="17.8" textLength="36.5" lengthAdjust="spacingAndGlyphs" text-anchor="middle">100%</text><text x="871.40" y="810" font-size="17.8" textLength="21" lengthAdjust="spacingAndGlyphs" text-anchor="middle">0%</text><text x="1002.28" y="810" font-size="17.8" textLength="29.5" lengthAdjust="spacingAndGlyphs" text-anchor="middle">20%</text><text x="1133.16" y="810" font-size="17.8" textLength="29.5" lengthAdjust="spacingAndGlyphs" text-anchor="middle">40%</text><text x="1264.04" y="810" font-size="17.8" textLength="29.5" lengthAdjust="spacingAndGlyphs" text-anchor="middle">60%</text><text x="1394.92" y="810" font-size="17.8" textLength="29.5" lengthAdjust="spacingAndGlyphs" text-anchor="middle">80%</text><text x="1525.80" y="810" font-size="17.8" textLength="36.5" lengthAdjust="spacingAndGlyphs" text-anchor="middle">100%</text><text x="77.3" y="755.15" font-size="17.8" textLength="21" lengthAdjust="spacingAndGlyphs" text-anchor="end">0%</text><text x="77.3" y="606.06" font-size="17.8" textLength="29.5" lengthAdjust="spacingAndGlyphs" text-anchor="end">25%</text><text x="77.3" y="456.97" font-size="17.8" textLength="29.5" lengthAdjust="spacingAndGlyphs" text-anchor="end">50%</text><text x="77.3" y="307.89" font-size="17.8" textLength="29.5" lengthAdjust="spacingAndGlyphs" text-anchor="end">75%</text><text x="77.3" y="158.80" font-size="17.8" textLength="36.5" lengthAdjust="spacingAndGlyphs" text-anchor="end">100%</text><text x="754.5" y="845" font-size="21.6" textLength="146.5" lengthAdjust="spacingAndGlyphs" text-anchor="start">Trump vote in 2020</text><text x="96.5" y="893.75" font-size="15" textLength="1058.5" lengthAdjust="spacingAndGlyphs" text-anchor="start">Source of original data: Program for the International Assessment of Adult Competencies (PIAAC), plus author's calculations and charting. @bob_weeks, bob.weeks@gmail.com.</text></svg></body></html>
